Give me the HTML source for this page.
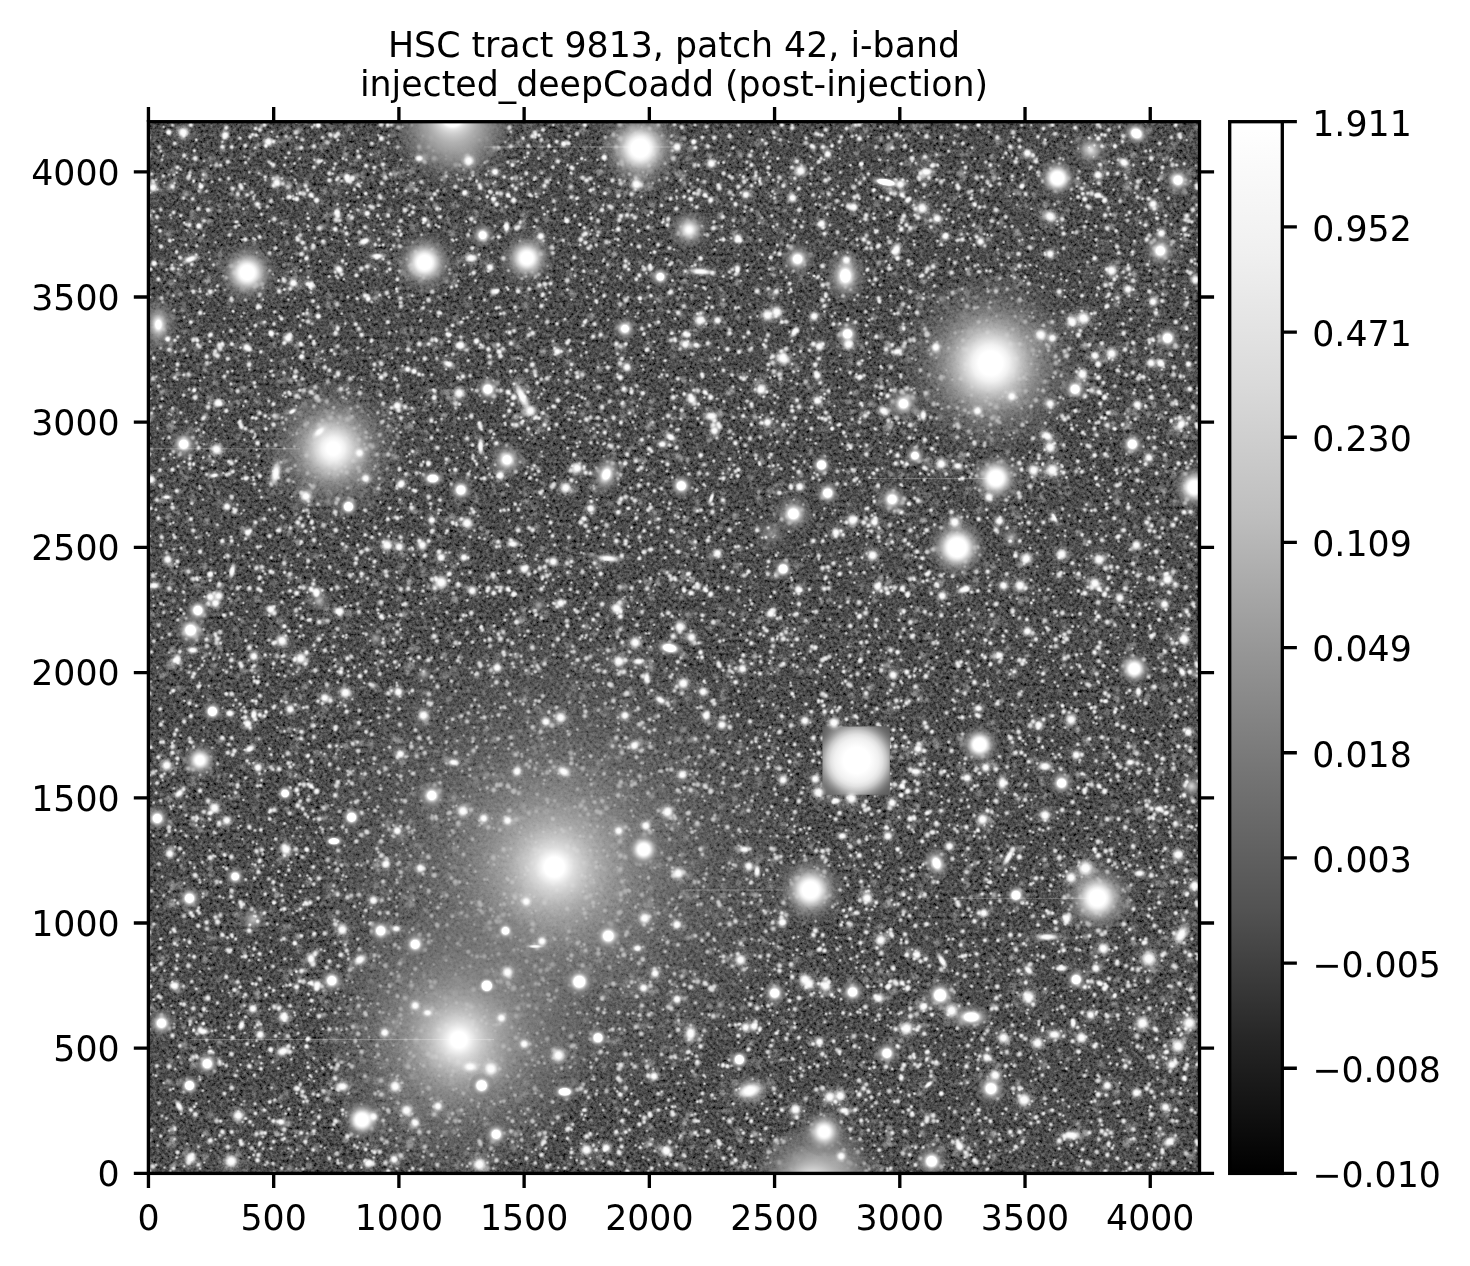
<!DOCTYPE html><html><head><meta charset="utf-8"><style>html,body{margin:0;padding:0;background:#fff;width:1470px;height:1266px;overflow:hidden}svg{display:block}text{font-family:"DejaVu Sans","Liberation Sans",sans-serif;font-size:34.75px;fill:#000}</style></head><body><svg width="1470" height="1266" viewBox="0 0 1470 1266"><defs><linearGradient id="cb" x1="0" y1="1" x2="0" y2="0"><stop offset="0.000" stop-color="#000000"/><stop offset="0.125" stop-color="#252525"/><stop offset="0.250" stop-color="#525252"/><stop offset="0.375" stop-color="#737373"/><stop offset="0.500" stop-color="#979797"/><stop offset="0.625" stop-color="#bebebe"/><stop offset="0.750" stop-color="#dadada"/><stop offset="0.875" stop-color="#f0f0f0"/><stop offset="1.000" stop-color="#ffffff"/></linearGradient><clipPath id="ax"><rect x="148.40" y="121.70" width="1051.10" height="1051.70"/></clipPath><radialGradient id="s"><stop offset="0" stop-color="#fff" stop-opacity="1"/><stop offset="0.3" stop-color="#fff" stop-opacity="0.95"/><stop offset="0.5" stop-color="#fff" stop-opacity="0.6"/><stop offset="0.7" stop-color="#fff" stop-opacity="0.25"/><stop offset="0.85" stop-color="#fff" stop-opacity="0.08"/><stop offset="1" stop-color="#fff" stop-opacity="0"/></radialGradient><radialGradient id="h"><stop offset="0" stop-color="#fff" stop-opacity="0.85"/><stop offset="0.25" stop-color="#fff" stop-opacity="0.6"/><stop offset="0.5" stop-color="#fff" stop-opacity="0.3"/><stop offset="0.75" stop-color="#fff" stop-opacity="0.1"/><stop offset="1" stop-color="#fff" stop-opacity="0"/></radialGradient><radialGradient id="w"><stop offset="0" stop-color="#fff" stop-opacity="0.3"/><stop offset="0.5" stop-color="#fff" stop-opacity="0.12"/><stop offset="1" stop-color="#fff" stop-opacity="0"/></radialGradient><radialGradient id="q"><stop offset="0" stop-color="#fff" stop-opacity="1"/><stop offset="0.3" stop-color="#fff" stop-opacity="0.95"/><stop offset="0.5" stop-color="#fff" stop-opacity="0.6"/><stop offset="0.7" stop-color="#fff" stop-opacity="0.2"/><stop offset="1" stop-color="#fff" stop-opacity="0"/></radialGradient><radialGradient id="h2"><stop offset="0" stop-color="#fff" stop-opacity="0.35"/><stop offset="0.3" stop-color="#fff" stop-opacity="0.18"/><stop offset="0.6" stop-color="#fff" stop-opacity="0.06"/><stop offset="1" stop-color="#fff" stop-opacity="0"/></radialGradient><filter id="grain" x="148.4" y="121.7" width="1051.1" height="1051.7" filterUnits="userSpaceOnUse" color-interpolation-filters="sRGB"><feTurbulence type="fractalNoise" baseFrequency="0.3" numOctaves="3" seed="7"/><feColorMatrix type="matrix" values="1 0 0 0 0 1 0 0 0 0 1 0 0 0 0 0 0 0 0 1"/><feComponentTransfer><feFuncR type="table" tableValues="0.000 0.000 0.000 0.000 0.000 0.000 0.000 0.000 0.040 0.077 0.110 0.141 0.168 0.192 0.212 0.229 0.243 0.258 0.272 0.286 0.300 0.313 0.326 0.339 0.352 0.365 0.378 0.391 0.404 0.417 0.430 0.443 0.457 0.470 0.483 0.496 0.509 0.522 0.535 0.548 0.561"/><feFuncG type="table" tableValues="0.000 0.000 0.000 0.000 0.000 0.000 0.000 0.000 0.040 0.077 0.110 0.141 0.168 0.192 0.212 0.229 0.243 0.258 0.272 0.286 0.300 0.313 0.326 0.339 0.352 0.365 0.378 0.391 0.404 0.417 0.430 0.443 0.457 0.470 0.483 0.496 0.509 0.522 0.535 0.548 0.561"/><feFuncB type="table" tableValues="0.000 0.000 0.000 0.000 0.000 0.000 0.000 0.000 0.040 0.077 0.110 0.141 0.168 0.192 0.212 0.229 0.243 0.258 0.272 0.286 0.300 0.313 0.326 0.339 0.352 0.365 0.378 0.391 0.404 0.417 0.430 0.443 0.457 0.470 0.483 0.496 0.509 0.522 0.535 0.548 0.561"/></feComponentTransfer></filter><pattern id="p0" x="148.4" y="121.7" width="197" height="197" patternUnits="userSpaceOnUse"><g fill="url(#q)"><circle cx="100.8" cy="50.6" r="2.2" fill-opacity="0.78"/><circle cx="187.2" cy="14.4" r="4.3" fill-opacity="0.90"/><circle cx="28.4" cy="50.8" r="2.2" fill-opacity="0.87"/><circle cx="186.9" cy="150.3" r="2.9" fill-opacity="0.80"/><circle cx="61.4" cy="137.5" r="2.1" fill-opacity="0.78"/><circle cx="83.4" cy="25.3" r="3.5" fill-opacity="0.93"/><circle cx="163.1" cy="74.1" r="2.4" fill-opacity="0.87"/><circle cx="80.6" cy="82.9" r="2.1" fill-opacity="0.75"/><circle cx="108.3" cy="131" r="2" fill-opacity="0.86"/><circle cx="5.4" cy="89.8" r="2.2" fill-opacity="0.88"/><circle cx="148.4" cy="115.5" r="2.2" fill-opacity="0.76"/><circle cx="106" cy="165.4" r="3" fill-opacity="0.88"/><circle cx="65" cy="143.1" r="2.8" fill-opacity="0.78"/><circle cx="155.3" cy="71.9" r="4.3" fill-opacity="0.81"/><circle cx="59.7" cy="88.3" r="4.3" fill-opacity="0.88"/><circle cx="89.3" cy="72.4" r="3.8" fill-opacity="0.87"/><circle cx="26.4" cy="21.6" r="3.4" fill-opacity="0.86"/><circle cx="79.4" cy="40" r="3.9" fill-opacity="0.88"/><circle cx="40.1" cy="55.9" r="4.3" fill-opacity="0.80"/><circle cx="51.7" cy="61.9" r="2" fill-opacity="0.85"/><circle cx="147.8" cy="61.7" r="2.1" fill-opacity="0.78"/><circle cx="55.2" cy="113.6" r="2.5" fill-opacity="0.91"/><circle cx="95.6" cy="191.4" r="2.1" fill-opacity="0.82"/><circle cx="193.2" cy="152.6" r="3.2" fill-opacity="0.81"/><circle cx="189.4" cy="155.9" r="2.3" fill-opacity="0.76"/><circle cx="142.8" cy="149.6" r="2.3" fill-opacity="0.83"/><circle cx="106.6" cy="117.6" r="2.4" fill-opacity="0.81"/><circle cx="54.5" cy="180.8" r="2.1" fill-opacity="0.84"/><circle cx="31.6" cy="135.9" r="3.6" fill-opacity="0.87"/><circle cx="191.1" cy="98.6" r="3.3" fill-opacity="0.73"/><circle cx="101.7" cy="15.2" r="3.2" fill-opacity="0.92"/><circle cx="22.8" cy="96.2" r="2" fill-opacity="0.72"/><circle cx="122.8" cy="41.9" r="2.7" fill-opacity="0.90"/><circle cx="153" cy="26.1" r="3.4" fill-opacity="0.93"/><circle cx="120.8" cy="99.7" r="2.2" fill-opacity="0.89"/><circle cx="180.7" cy="154.7" r="2.6" fill-opacity="0.87"/><circle cx="7.8" cy="58.1" r="2" fill-opacity="0.75"/><circle cx="104.1" cy="151.4" r="2.1" fill-opacity="0.81"/><circle cx="90.5" cy="103.5" r="2.3" fill-opacity="0.82"/><circle cx="12.3" cy="29.4" r="2.7" fill-opacity="0.87"/><circle cx="126.3" cy="190.1" r="2.8" fill-opacity="0.82"/><circle cx="168" cy="79.1" r="4.1" fill-opacity="0.92"/><circle cx="116.8" cy="58.2" r="2.4" fill-opacity="0.77"/><circle cx="51.2" cy="166.9" r="2" fill-opacity="0.79"/><circle cx="165.5" cy="24.5" r="3.9" fill-opacity="0.88"/><circle cx="100.4" cy="144.5" r="2" fill-opacity="0.80"/><circle cx="100.6" cy="37" r="2.1" fill-opacity="0.74"/><circle cx="148.3" cy="77.3" r="4.4" fill-opacity="0.99"/><circle cx="29.1" cy="45.7" r="3.6" fill-opacity="0.91"/><circle cx="161.5" cy="165.7" r="2.5" fill-opacity="0.89"/><circle cx="134.6" cy="76.8" r="2.1" fill-opacity="0.80"/><circle cx="155.1" cy="192" r="2.6" fill-opacity="0.92"/><circle cx="37.7" cy="123.2" r="2.5" fill-opacity="0.89"/><circle cx="158.1" cy="136.6" r="4" fill-opacity="0.98"/><circle cx="37.7" cy="102.7" r="2.7" fill-opacity="0.77"/><circle cx="16.1" cy="60.9" r="2.1" fill-opacity="0.81"/><circle cx="168.5" cy="77.9" r="4.2" fill-opacity="0.85"/><circle cx="169.7" cy="185.4" r="3.2" fill-opacity="0.88"/><circle cx="172.7" cy="39.6" r="2.1" fill-opacity="0.77"/><circle cx="93" cy="194.7" r="2.1" fill-opacity="0.74"/><circle cx="54" cy="149.4" r="2.8" fill-opacity="0.84"/><circle cx="1.4" cy="70.9" r="2.1" fill-opacity="0.84"/><circle cx="198.4" cy="70.9" r="2.1" fill-opacity="0.84"/><circle cx="127.2" cy="126.4" r="3.3" fill-opacity="0.83"/><circle cx="141.8" cy="75.1" r="3.2" fill-opacity="0.95"/><circle cx="164.6" cy="75.2" r="2" fill-opacity="0.80"/><circle cx="55.5" cy="99.2" r="3.8" fill-opacity="0.82"/><circle cx="42.4" cy="3.3" r="3.7" fill-opacity="0.94"/><circle cx="42.4" cy="200.3" r="3.7" fill-opacity="0.94"/><circle cx="125.9" cy="97.2" r="4.2" fill-opacity="0.87"/><circle cx="158.6" cy="191.4" r="3.4" fill-opacity="0.81"/><circle cx="189.8" cy="56.2" r="3.4" fill-opacity="0.81"/><circle cx="29.7" cy="147.4" r="2.2" fill-opacity="0.89"/><circle cx="95" cy="87.2" r="2" fill-opacity="0.88"/><circle cx="176.3" cy="41.2" r="2" fill-opacity="0.84"/><circle cx="83.3" cy="178.3" r="4.4" fill-opacity="0.82"/><circle cx="116.1" cy="3.3" r="3.3" fill-opacity="0.90"/><circle cx="4.8" cy="59.8" r="4.3" fill-opacity="0.80"/><circle cx="132.7" cy="196.8" r="2.5" fill-opacity="0.80"/><circle cx="132.7" cy="-0.2" r="2.5" fill-opacity="0.80"/><circle cx="181.1" cy="51.6" r="3.6" fill-opacity="0.88"/><circle cx="162.9" cy="167.3" r="2" fill-opacity="0.80"/><circle cx="174.4" cy="119.3" r="2.2" fill-opacity="0.80"/><circle cx="130.1" cy="158.8" r="2.4" fill-opacity="0.91"/><circle cx="48.4" cy="124.2" r="3" fill-opacity="0.77"/><circle cx="151.4" cy="71.5" r="3" fill-opacity="0.88"/><circle cx="41.7" cy="149.9" r="2.9" fill-opacity="0.72"/><circle cx="163.8" cy="5.2" r="2.7" fill-opacity="0.74"/><circle cx="12.4" cy="88" r="3.1" fill-opacity="0.78"/><circle cx="162.6" cy="73.3" r="4.4" fill-opacity="0.99"/><circle cx="32.4" cy="94" r="2.8" fill-opacity="0.89"/><circle cx="73.9" cy="25.1" r="3.9" fill-opacity="0.95"/><circle cx="62.4" cy="43.8" r="2" fill-opacity="0.72"/><circle cx="136.2" cy="110.7" r="2.6" fill-opacity="0.87"/><circle cx="35.2" cy="76.4" r="3" fill-opacity="0.84"/><circle cx="78.1" cy="156" r="3.2" fill-opacity="0.84"/><circle cx="1.1" cy="119.2" r="2.3" fill-opacity="0.86"/><circle cx="198.1" cy="119.2" r="2.3" fill-opacity="0.86"/><circle cx="51.7" cy="169.7" r="2.6" fill-opacity="0.80"/><circle cx="83" cy="144.3" r="4.3" fill-opacity="0.88"/><circle cx="20.9" cy="118.6" r="3.3" fill-opacity="0.80"/><circle cx="124.7" cy="56.7" r="3.1" fill-opacity="0.83"/><circle cx="74.9" cy="154.2" r="2" fill-opacity="0.82"/><circle cx="142.9" cy="49.5" r="2" fill-opacity="0.75"/><circle cx="128.8" cy="14.8" r="2.2" fill-opacity="0.78"/><circle cx="85" cy="189.7" r="2.1" fill-opacity="0.81"/><circle cx="170.9" cy="106.4" r="4.4" fill-opacity="0.88"/><circle cx="124.5" cy="152.5" r="2" fill-opacity="0.85"/><circle cx="159.6" cy="104.3" r="2.6" fill-opacity="0.86"/><circle cx="67.3" cy="120.5" r="2" fill-opacity="0.83"/><circle cx="107.1" cy="6.7" r="3.3" fill-opacity="0.93"/><circle cx="38.7" cy="36.8" r="2" fill-opacity="0.76"/><circle cx="196.2" cy="132.9" r="2" fill-opacity="0.74"/><circle cx="-0.8" cy="132.9" r="2" fill-opacity="0.74"/><circle cx="47.9" cy="112.4" r="2.1" fill-opacity="0.80"/><circle cx="27" cy="56.9" r="4.2" fill-opacity="0.23"/><circle cx="109.5" cy="153.8" r="5.1" fill-opacity="0.25"/><circle cx="113" cy="4" r="4" fill-opacity="0.34"/><circle cx="113" cy="201" r="4" fill-opacity="0.34"/><circle cx="25.9" cy="32.5" r="4.8" fill-opacity="0.20"/><circle cx="141.1" cy="61.3" r="5.2" fill-opacity="0.30"/><circle cx="109.6" cy="104.8" r="3.4" fill-opacity="0.25"/><circle cx="83.4" cy="71.5" r="4" fill-opacity="0.31"/><circle cx="180.7" cy="173.9" r="5.8" fill-opacity="0.22"/><circle cx="168.6" cy="40.9" r="5.9" fill-opacity="0.26"/><circle cx="43.5" cy="110.6" r="6" fill-opacity="0.22"/><circle cx="32.8" cy="153.2" r="3.1" fill-opacity="0.32"/><circle cx="180.4" cy="183.1" r="5.5" fill-opacity="0.33"/><circle cx="31" cy="172.1" r="5.8" fill-opacity="0.28"/><circle cx="149.2" cy="26.7" r="5.7" fill-opacity="0.35"/><circle cx="61.6" cy="156" r="5.1" fill-opacity="0.30"/><circle cx="71.2" cy="133" r="5" fill-opacity="0.32"/><circle cx="109.1" cy="83.1" r="5.2" fill-opacity="0.33"/><circle cx="182.4" cy="5" r="4.7" fill-opacity="0.20"/><circle cx="0.4" cy="33.1" r="5.4" fill-opacity="0.35"/><circle cx="197.4" cy="33.1" r="5.4" fill-opacity="0.35"/><circle cx="32" cy="147.6" r="4.5" fill-opacity="0.23"/><circle cx="141.9" cy="16.5" r="3.7" fill-opacity="0.25"/><circle cx="77.7" cy="61.6" r="3.3" fill-opacity="0.19"/><circle cx="56.7" cy="50.3" r="5.7" fill-opacity="0.31"/><circle cx="189.7" cy="147" r="5.3" fill-opacity="0.22"/><circle cx="52" cy="70.7" r="3.5" fill-opacity="0.29"/><circle cx="140.7" cy="17.2" r="5.5" fill-opacity="0.19"/><circle cx="190" cy="73" r="3.9" fill-opacity="0.22"/><circle cx="150.3" cy="64.4" r="4.9" fill-opacity="0.23"/><circle cx="139.8" cy="141.3" r="4.1" fill-opacity="0.20"/><circle cx="142.5" cy="63.1" r="3.6" fill-opacity="0.16"/><circle cx="158.6" cy="136.6" r="3.5" fill-opacity="0.30"/><circle cx="53.4" cy="106.1" r="3.2" fill-opacity="0.34"/><circle cx="123.5" cy="174.9" r="3.2" fill-opacity="0.20"/><circle cx="158.2" cy="144.5" r="3.2" fill-opacity="0.18"/><circle cx="175" cy="80.4" r="3.3" fill-opacity="0.22"/><circle cx="178.4" cy="95.5" r="5.5" fill-opacity="0.17"/><circle cx="178.1" cy="92.9" r="4.6" fill-opacity="0.28"/><circle cx="19.2" cy="171.7" r="3.4" fill-opacity="0.22"/><circle cx="74.2" cy="27.2" r="4.6" fill-opacity="0.26"/><circle cx="89.9" cy="83.6" r="4.6" fill-opacity="0.33"/><circle cx="175.7" cy="105.4" r="4.5" fill-opacity="0.32"/><circle cx="82.6" cy="85.9" r="3.6" fill-opacity="0.33"/><circle cx="52.2" cy="117.8" r="4.3" fill-opacity="0.34"/><circle cx="3.9" cy="98.3" r="5.6" fill-opacity="0.27"/><circle cx="200.9" cy="98.3" r="5.6" fill-opacity="0.27"/></g></pattern><pattern id="p1" x="148.4" y="121.7" width="239" height="239" patternUnits="userSpaceOnUse"><g fill="url(#q)"><circle cx="62.5" cy="213" r="3.8" fill-opacity="0.96"/><circle cx="71.3" cy="57.7" r="2.5" fill-opacity="0.86"/><circle cx="194.6" cy="36.6" r="2.6" fill-opacity="0.91"/><circle cx="22" cy="93.4" r="2.3" fill-opacity="0.85"/><circle cx="143.4" cy="135.9" r="2" fill-opacity="0.88"/><circle cx="174.1" cy="229.6" r="2.8" fill-opacity="0.85"/><circle cx="44.9" cy="169.8" r="4" fill-opacity="0.87"/><circle cx="13.2" cy="176.5" r="3.7" fill-opacity="0.88"/><circle cx="65.7" cy="232.5" r="3.3" fill-opacity="0.71"/><circle cx="157.1" cy="64" r="3.9" fill-opacity="0.93"/><circle cx="134.4" cy="62" r="3.3" fill-opacity="0.77"/><circle cx="35.9" cy="101" r="2.3" fill-opacity="0.90"/><circle cx="103.4" cy="70.6" r="3.8" fill-opacity="0.73"/><circle cx="160" cy="155.6" r="2.6" fill-opacity="0.88"/><circle cx="101" cy="227.5" r="4.1" fill-opacity="0.94"/><circle cx="151.3" cy="36.7" r="2.5" fill-opacity="0.84"/><circle cx="231.2" cy="123.8" r="2.1" fill-opacity="0.74"/><circle cx="163.3" cy="161.9" r="3.6" fill-opacity="0.93"/><circle cx="93.6" cy="117.9" r="2.1" fill-opacity="0.79"/><circle cx="44.8" cy="218.4" r="4" fill-opacity="0.82"/><circle cx="82.7" cy="176.1" r="2.7" fill-opacity="0.88"/><circle cx="122.1" cy="210.8" r="3.7" fill-opacity="0.97"/><circle cx="213" cy="26.7" r="2" fill-opacity="0.74"/><circle cx="185.4" cy="46.8" r="3" fill-opacity="0.84"/><circle cx="76" cy="15.7" r="3.4" fill-opacity="0.90"/><circle cx="220.9" cy="198.2" r="2.1" fill-opacity="0.78"/><circle cx="112.5" cy="230.1" r="3.2" fill-opacity="0.94"/><circle cx="165.8" cy="3.3" r="2.1" fill-opacity="0.84"/><circle cx="25.6" cy="188.6" r="2.4" fill-opacity="0.74"/><circle cx="25" cy="174" r="2.6" fill-opacity="0.76"/><circle cx="48.3" cy="217.1" r="3.2" fill-opacity="0.77"/><circle cx="211.4" cy="64.6" r="2.1" fill-opacity="0.81"/><circle cx="162.5" cy="170.8" r="2.2" fill-opacity="0.89"/><circle cx="203" cy="56.7" r="3.7" fill-opacity="0.76"/><circle cx="154" cy="18.2" r="3.5" fill-opacity="0.77"/><circle cx="97.2" cy="178.1" r="2.8" fill-opacity="0.78"/><circle cx="123.5" cy="10.1" r="2.4" fill-opacity="0.84"/><circle cx="141.8" cy="167.2" r="3.4" fill-opacity="0.85"/><circle cx="206" cy="67.7" r="2.8" fill-opacity="0.83"/><circle cx="104.7" cy="116.5" r="2.4" fill-opacity="0.76"/><circle cx="213.2" cy="213.1" r="4" fill-opacity="0.95"/><circle cx="146.7" cy="58.2" r="2.2" fill-opacity="0.82"/><circle cx="198.2" cy="111.9" r="3.8" fill-opacity="0.95"/><circle cx="119" cy="84.9" r="3.2" fill-opacity="0.72"/><circle cx="165.5" cy="45.5" r="3.3" fill-opacity="0.85"/><circle cx="81" cy="113.2" r="3.4" fill-opacity="0.83"/><circle cx="125" cy="43.4" r="3.6" fill-opacity="0.94"/><circle cx="51.7" cy="191" r="4.1" fill-opacity="0.92"/><circle cx="24.1" cy="146.9" r="4.2" fill-opacity="0.88"/><circle cx="9.2" cy="67.7" r="2.3" fill-opacity="0.76"/><circle cx="167.8" cy="232.6" r="2.2" fill-opacity="0.85"/><circle cx="109.1" cy="82.5" r="4.1" fill-opacity="0.97"/><circle cx="214.6" cy="160.4" r="2.2" fill-opacity="0.87"/><circle cx="199.6" cy="175.2" r="2.3" fill-opacity="0.90"/><circle cx="92" cy="63.4" r="3.8" fill-opacity="0.89"/><circle cx="232.7" cy="2.8" r="4.4" fill-opacity="0.83"/><circle cx="232.7" cy="241.8" r="4.4" fill-opacity="0.83"/><circle cx="141.5" cy="213.3" r="3.9" fill-opacity="0.80"/><circle cx="183" cy="228.6" r="2.9" fill-opacity="0.91"/><circle cx="97.3" cy="40.7" r="2.6" fill-opacity="0.89"/><circle cx="46.9" cy="36.7" r="4.5" fill-opacity="0.92"/><circle cx="41.1" cy="103.4" r="3.6" fill-opacity="0.93"/><circle cx="43.3" cy="142.8" r="3.2" fill-opacity="0.85"/><circle cx="144.3" cy="236.4" r="2" fill-opacity="0.86"/><circle cx="26.9" cy="230.3" r="2.2" fill-opacity="0.86"/><circle cx="4.8" cy="236.1" r="2" fill-opacity="0.77"/><circle cx="199.1" cy="58.7" r="4.2" fill-opacity="0.90"/><circle cx="23.8" cy="143.1" r="2.3" fill-opacity="0.86"/><circle cx="107.7" cy="104.2" r="2.2" fill-opacity="0.77"/><circle cx="116.8" cy="55.3" r="3.1" fill-opacity="0.94"/><circle cx="148.2" cy="15.6" r="2.2" fill-opacity="0.88"/><circle cx="120.5" cy="40.3" r="3" fill-opacity="0.76"/><circle cx="224" cy="85.7" r="4.3" fill-opacity="0.80"/><circle cx="179.3" cy="21" r="4" fill-opacity="0.70"/><circle cx="137.3" cy="36" r="2.3" fill-opacity="0.90"/><circle cx="147.5" cy="10.7" r="4.2" fill-opacity="0.79"/><circle cx="121.1" cy="148.9" r="2.6" fill-opacity="0.90"/><circle cx="230.6" cy="117.8" r="2.9" fill-opacity="0.85"/><circle cx="54.2" cy="58.2" r="2.5" fill-opacity="0.73"/><circle cx="164.7" cy="125.8" r="4.5" fill-opacity="0.80"/><circle cx="132.7" cy="101.4" r="2.4" fill-opacity="0.78"/><circle cx="10" cy="157.5" r="3.6" fill-opacity="0.92"/><circle cx="70.8" cy="222.9" r="3.2" fill-opacity="0.83"/><circle cx="221.6" cy="84.4" r="3.4" fill-opacity="0.77"/><circle cx="187.5" cy="154.2" r="2.1" fill-opacity="0.89"/><circle cx="3.1" cy="52.3" r="3" fill-opacity="0.85"/><circle cx="70.9" cy="224.6" r="4.5" fill-opacity="0.74"/><circle cx="2.3" cy="147.6" r="3.1" fill-opacity="0.94"/><circle cx="241.3" cy="147.6" r="3.1" fill-opacity="0.94"/><circle cx="197.8" cy="37.9" r="2.2" fill-opacity="0.85"/><circle cx="26.4" cy="61.4" r="2" fill-opacity="0.81"/><circle cx="13.7" cy="38" r="2.5" fill-opacity="0.76"/><circle cx="234.7" cy="42.8" r="3.6" fill-opacity="0.91"/><circle cx="106.6" cy="73.3" r="2" fill-opacity="0.74"/><circle cx="76.1" cy="196.7" r="2" fill-opacity="0.88"/><circle cx="11.7" cy="109.2" r="3.3" fill-opacity="0.91"/><circle cx="93.1" cy="66.2" r="4.1" fill-opacity="0.93"/><circle cx="87.5" cy="100.2" r="2.7" fill-opacity="0.89"/><circle cx="125.1" cy="63.9" r="3.2" fill-opacity="0.93"/><circle cx="1.6" cy="175.4" r="2.3" fill-opacity="0.82"/><circle cx="240.6" cy="175.4" r="2.3" fill-opacity="0.82"/><circle cx="35.4" cy="14" r="2.4" fill-opacity="0.88"/><circle cx="50.2" cy="69.1" r="2.8" fill-opacity="0.75"/><circle cx="105.3" cy="77.3" r="2.3" fill-opacity="0.86"/><circle cx="72.3" cy="43.4" r="2.8" fill-opacity="0.89"/><circle cx="146.6" cy="176.4" r="2.1" fill-opacity="0.77"/><circle cx="68.2" cy="43.1" r="4.2" fill-opacity="0.76"/><circle cx="217.4" cy="71.8" r="3.3" fill-opacity="0.94"/><circle cx="229.9" cy="13.5" r="2.1" fill-opacity="0.88"/><circle cx="14.2" cy="180.6" r="2.2" fill-opacity="0.74"/><circle cx="50" cy="87" r="3.9" fill-opacity="0.89"/><circle cx="134.6" cy="156.8" r="2.6" fill-opacity="0.77"/><circle cx="184.2" cy="51.9" r="2.3" fill-opacity="0.77"/><circle cx="15.3" cy="5.2" r="2" fill-opacity="0.87"/><circle cx="44.2" cy="77.1" r="3.4" fill-opacity="0.90"/><circle cx="109.2" cy="186.2" r="3.1" fill-opacity="0.90"/><circle cx="159.8" cy="200.1" r="3.9" fill-opacity="0.82"/><circle cx="215.9" cy="83.4" r="2.2" fill-opacity="0.87"/><circle cx="207.2" cy="202.4" r="3.6" fill-opacity="0.90"/><circle cx="189.7" cy="12" r="3.9" fill-opacity="0.83"/><circle cx="12.6" cy="124.8" r="3.9" fill-opacity="0.87"/><circle cx="233.4" cy="61.5" r="3.6" fill-opacity="0.80"/><circle cx="146.9" cy="104.9" r="2.7" fill-opacity="0.86"/><circle cx="20.6" cy="53" r="2" fill-opacity="0.76"/><circle cx="60.9" cy="213.6" r="3.3" fill-opacity="0.85"/><circle cx="148.4" cy="72.2" r="2" fill-opacity="0.86"/><circle cx="92.2" cy="225.9" r="2.1" fill-opacity="0.84"/><circle cx="106.7" cy="26.1" r="2.7" fill-opacity="0.86"/><circle cx="192.3" cy="102.7" r="2.1" fill-opacity="0.74"/><circle cx="196.9" cy="106" r="2.8" fill-opacity="0.90"/><circle cx="130.7" cy="169.6" r="4" fill-opacity="0.90"/><circle cx="189.4" cy="82.5" r="2.2" fill-opacity="0.89"/><circle cx="97" cy="117.7" r="3.8" fill-opacity="0.96"/><circle cx="232.9" cy="16.8" r="4.5" fill-opacity="0.99"/><circle cx="144.6" cy="74.3" r="2" fill-opacity="0.82"/><circle cx="231.3" cy="173.3" r="2.7" fill-opacity="0.89"/><circle cx="10.5" cy="25.3" r="3.5" fill-opacity="0.75"/><circle cx="211" cy="110.5" r="3.6" fill-opacity="0.73"/><circle cx="133.7" cy="56.6" r="2.4" fill-opacity="0.88"/><circle cx="170.6" cy="39.6" r="3.8" fill-opacity="0.91"/><circle cx="46" cy="29" r="2.6" fill-opacity="0.92"/><circle cx="131.1" cy="194.5" r="2.2" fill-opacity="0.79"/><circle cx="69.1" cy="164.1" r="2.9" fill-opacity="0.85"/><circle cx="25.2" cy="90.7" r="3.2" fill-opacity="0.91"/><circle cx="0.8" cy="93.6" r="3.9" fill-opacity="0.90"/><circle cx="239.8" cy="93.6" r="3.9" fill-opacity="0.90"/><circle cx="216.7" cy="174.1" r="3.4" fill-opacity="0.93"/><circle cx="160.3" cy="144.3" r="2.1" fill-opacity="0.80"/><circle cx="49" cy="218.9" r="3.1" fill-opacity="0.92"/><circle cx="61.6" cy="219.7" r="2.5" fill-opacity="0.90"/><circle cx="111.3" cy="115.2" r="3.5" fill-opacity="0.95"/><circle cx="195.6" cy="157.5" r="2" fill-opacity="0.80"/><circle cx="28.1" cy="130.2" r="3.3" fill-opacity="0.94"/><circle cx="231.3" cy="74.2" r="3.8" fill-opacity="0.82"/><circle cx="225.6" cy="108.4" r="2" fill-opacity="0.83"/><circle cx="58.5" cy="172.4" r="2" fill-opacity="0.88"/><circle cx="153.1" cy="132.1" r="4.1" fill-opacity="0.91"/><circle cx="86.1" cy="151.1" r="4.1" fill-opacity="0.90"/><circle cx="166.7" cy="116.4" r="2.2" fill-opacity="0.80"/><circle cx="20.8" cy="227.8" r="4.2" fill-opacity="0.88"/><circle cx="112.3" cy="185.6" r="2.6" fill-opacity="0.84"/><circle cx="140.6" cy="31.3" r="2.9" fill-opacity="0.88"/><circle cx="149.7" cy="194.6" r="2.8" fill-opacity="0.85"/><circle cx="165.6" cy="219.3" r="2.5" fill-opacity="0.80"/><circle cx="45.6" cy="209.8" r="4.6" fill-opacity="0.21"/><circle cx="236" cy="26" r="4.2" fill-opacity="0.18"/><circle cx="-3" cy="26" r="4.2" fill-opacity="0.18"/><circle cx="148" cy="153.3" r="3.5" fill-opacity="0.34"/><circle cx="41.4" cy="100.1" r="3.5" fill-opacity="0.24"/><circle cx="80.8" cy="183.9" r="4.2" fill-opacity="0.19"/><circle cx="155.4" cy="121.7" r="4.4" fill-opacity="0.25"/><circle cx="57" cy="55.2" r="5.4" fill-opacity="0.35"/><circle cx="214" cy="50.5" r="3.4" fill-opacity="0.29"/><circle cx="129.2" cy="56.2" r="4.4" fill-opacity="0.33"/><circle cx="162.7" cy="55.9" r="3.4" fill-opacity="0.17"/><circle cx="158.6" cy="59.9" r="3.8" fill-opacity="0.30"/><circle cx="38.7" cy="71.5" r="4.5" fill-opacity="0.22"/><circle cx="222.8" cy="143" r="5.6" fill-opacity="0.22"/><circle cx="202.1" cy="126.1" r="3.4" fill-opacity="0.24"/><circle cx="34.9" cy="16.4" r="3.5" fill-opacity="0.24"/><circle cx="136.1" cy="100.6" r="5.1" fill-opacity="0.31"/><circle cx="126.2" cy="222.3" r="4.6" fill-opacity="0.21"/><circle cx="74" cy="224.6" r="3.3" fill-opacity="0.24"/><circle cx="89.7" cy="76.4" r="5" fill-opacity="0.24"/><circle cx="61.9" cy="37.2" r="5.9" fill-opacity="0.27"/><circle cx="150.9" cy="70" r="5.2" fill-opacity="0.26"/><circle cx="102.4" cy="31.7" r="6" fill-opacity="0.16"/><circle cx="24" cy="61.8" r="5.2" fill-opacity="0.32"/><circle cx="54.3" cy="221" r="4" fill-opacity="0.28"/><circle cx="36.2" cy="209.6" r="5.4" fill-opacity="0.18"/><circle cx="150.5" cy="108.1" r="4.7" fill-opacity="0.25"/><circle cx="132.5" cy="131.4" r="3.3" fill-opacity="0.33"/><circle cx="93.8" cy="167.4" r="4.1" fill-opacity="0.33"/><circle cx="130.8" cy="167.6" r="5.8" fill-opacity="0.23"/><circle cx="150.3" cy="165.8" r="5" fill-opacity="0.20"/><circle cx="51.7" cy="175.9" r="4.1" fill-opacity="0.34"/><circle cx="13.3" cy="141.2" r="5.1" fill-opacity="0.30"/><circle cx="230" cy="31.8" r="5" fill-opacity="0.28"/><circle cx="44.3" cy="164.2" r="3.5" fill-opacity="0.23"/><circle cx="57.8" cy="159.9" r="4.4" fill-opacity="0.32"/><circle cx="168.3" cy="38.8" r="5.4" fill-opacity="0.19"/><circle cx="235.6" cy="46.6" r="3.3" fill-opacity="0.32"/><circle cx="29.5" cy="152.1" r="4.6" fill-opacity="0.31"/><circle cx="96.2" cy="92.2" r="3.4" fill-opacity="0.25"/><circle cx="204.5" cy="193.8" r="3.8" fill-opacity="0.22"/><circle cx="20.3" cy="66.3" r="5.3" fill-opacity="0.29"/><circle cx="59.8" cy="159.2" r="4.1" fill-opacity="0.23"/><circle cx="146.7" cy="147" r="5.5" fill-opacity="0.23"/><circle cx="198.2" cy="26.4" r="5.2" fill-opacity="0.20"/><circle cx="24.5" cy="66.5" r="4.9" fill-opacity="0.31"/><circle cx="99.5" cy="84.5" r="3.5" fill-opacity="0.18"/><circle cx="141.5" cy="72.2" r="4.4" fill-opacity="0.25"/><circle cx="130.7" cy="21.7" r="5.6" fill-opacity="0.24"/><circle cx="128" cy="56.3" r="4.9" fill-opacity="0.35"/><circle cx="237.3" cy="128.4" r="3.2" fill-opacity="0.17"/><circle cx="-1.7" cy="128.4" r="3.2" fill-opacity="0.17"/><circle cx="235.2" cy="54" r="4.5" fill-opacity="0.26"/><circle cx="-3.8" cy="54" r="4.5" fill-opacity="0.26"/><circle cx="50.3" cy="152" r="4.4" fill-opacity="0.19"/><circle cx="61.1" cy="99.2" r="4.5" fill-opacity="0.34"/><circle cx="95.6" cy="109.1" r="4.2" fill-opacity="0.18"/><circle cx="24.1" cy="49.5" r="5.4" fill-opacity="0.33"/><circle cx="35" cy="188" r="4.6" fill-opacity="0.28"/><circle cx="135" cy="18.5" r="5.6" fill-opacity="0.19"/><circle cx="235.9" cy="225.7" r="5.9" fill-opacity="0.23"/><circle cx="-3.1" cy="225.7" r="5.9" fill-opacity="0.23"/><circle cx="70.2" cy="140.9" r="5.7" fill-opacity="0.21"/><circle cx="47.4" cy="225.7" r="5.3" fill-opacity="0.25"/><circle cx="147.3" cy="131.3" r="3.1" fill-opacity="0.31"/><circle cx="71.1" cy="84" r="3" fill-opacity="0.25"/><circle cx="3.2" cy="88.4" r="3.5" fill-opacity="0.35"/><circle cx="242.2" cy="88.4" r="3.5" fill-opacity="0.35"/><circle cx="22.4" cy="222.1" r="4.6" fill-opacity="0.33"/></g></pattern><pattern id="p2" x="148.4" y="121.7" width="283" height="283" patternUnits="userSpaceOnUse"><g fill="url(#q)"><circle cx="24.2" cy="3.5" r="2.6" fill-opacity="0.79"/><circle cx="67" cy="229.5" r="3.8" fill-opacity="0.87"/><circle cx="226.8" cy="122.9" r="3.4" fill-opacity="0.86"/><circle cx="164.8" cy="123.3" r="3.1" fill-opacity="0.81"/><circle cx="26.6" cy="159.1" r="2.1" fill-opacity="0.78"/><circle cx="122.6" cy="79.3" r="3.8" fill-opacity="0.75"/><circle cx="135.6" cy="250.9" r="3.2" fill-opacity="0.86"/><circle cx="45.2" cy="60" r="2.4" fill-opacity="0.89"/><circle cx="207.9" cy="153.6" r="3.7" fill-opacity="0.95"/><circle cx="32.2" cy="47.6" r="2" fill-opacity="0.80"/><circle cx="110.7" cy="174.4" r="2.2" fill-opacity="0.90"/><circle cx="146.2" cy="255.2" r="3.8" fill-opacity="0.97"/><circle cx="121.9" cy="249.8" r="2" fill-opacity="0.78"/><circle cx="166.1" cy="38.1" r="2.1" fill-opacity="0.74"/><circle cx="208.8" cy="176.8" r="2.9" fill-opacity="0.91"/><circle cx="270.6" cy="252.6" r="3.5" fill-opacity="0.95"/><circle cx="80.4" cy="56.7" r="3.1" fill-opacity="0.89"/><circle cx="183.5" cy="117.4" r="2" fill-opacity="0.88"/><circle cx="197" cy="201.8" r="2.4" fill-opacity="0.83"/><circle cx="82.8" cy="208.9" r="3.5" fill-opacity="0.87"/><circle cx="0.4" cy="127.7" r="2.5" fill-opacity="0.74"/><circle cx="283.4" cy="127.7" r="2.5" fill-opacity="0.74"/><circle cx="275.5" cy="180.7" r="2.2" fill-opacity="0.80"/><circle cx="84.4" cy="189.3" r="2" fill-opacity="0.87"/><circle cx="88.9" cy="99.9" r="2.3" fill-opacity="0.74"/><circle cx="252.4" cy="184.5" r="4.2" fill-opacity="0.77"/><circle cx="165.6" cy="163.4" r="2" fill-opacity="0.72"/><circle cx="133.4" cy="197.4" r="3" fill-opacity="0.85"/><circle cx="218.8" cy="144.8" r="4.2" fill-opacity="0.90"/><circle cx="8.6" cy="95.2" r="3.5" fill-opacity="0.87"/><circle cx="200.1" cy="122.9" r="2.4" fill-opacity="0.90"/><circle cx="105.9" cy="261.1" r="3.3" fill-opacity="0.90"/><circle cx="25.7" cy="53.1" r="2.1" fill-opacity="0.84"/><circle cx="186.9" cy="42" r="2.9" fill-opacity="0.87"/><circle cx="263.6" cy="3.4" r="2.3" fill-opacity="0.83"/><circle cx="58.6" cy="241.2" r="4" fill-opacity="0.75"/><circle cx="178.3" cy="279.8" r="4" fill-opacity="0.76"/><circle cx="178.3" cy="-3.2" r="4" fill-opacity="0.76"/><circle cx="84.4" cy="66.9" r="3.7" fill-opacity="0.90"/><circle cx="209.9" cy="75.3" r="2.6" fill-opacity="0.78"/><circle cx="204.4" cy="56.1" r="3.8" fill-opacity="0.85"/><circle cx="61.9" cy="169.9" r="4.4" fill-opacity="0.92"/><circle cx="234.9" cy="137.3" r="2.6" fill-opacity="0.86"/><circle cx="186.1" cy="232.2" r="3" fill-opacity="0.79"/><circle cx="193.2" cy="59.3" r="2.2" fill-opacity="0.78"/><circle cx="232.1" cy="248.5" r="2.1" fill-opacity="0.75"/><circle cx="121.3" cy="131.3" r="3.5" fill-opacity="0.90"/><circle cx="214.7" cy="228.6" r="2" fill-opacity="0.85"/><circle cx="248.6" cy="227" r="3.2" fill-opacity="0.76"/><circle cx="29" cy="257.7" r="2.1" fill-opacity="0.78"/><circle cx="240.5" cy="141.2" r="3.4" fill-opacity="0.77"/><circle cx="111.5" cy="172.5" r="3.6" fill-opacity="0.89"/><circle cx="135.8" cy="158.8" r="4.3" fill-opacity="0.82"/><circle cx="41.4" cy="53.9" r="2.6" fill-opacity="0.91"/><circle cx="197.7" cy="141.9" r="2.6" fill-opacity="0.79"/><circle cx="82.6" cy="262.2" r="2.6" fill-opacity="0.87"/><circle cx="246.5" cy="257.2" r="3.5" fill-opacity="0.89"/><circle cx="77.9" cy="6.1" r="3.7" fill-opacity="0.96"/><circle cx="159" cy="187.7" r="2.1" fill-opacity="0.85"/><circle cx="113.1" cy="92.5" r="2.5" fill-opacity="0.91"/><circle cx="173.5" cy="38.5" r="2" fill-opacity="0.83"/><circle cx="55.6" cy="39.5" r="2.3" fill-opacity="0.70"/><circle cx="51" cy="225" r="3.6" fill-opacity="0.82"/><circle cx="211.4" cy="271.4" r="4.3" fill-opacity="0.94"/><circle cx="212.9" cy="147.2" r="4.4" fill-opacity="0.84"/><circle cx="160.5" cy="108.5" r="2" fill-opacity="0.84"/><circle cx="260.7" cy="144.3" r="2.6" fill-opacity="0.75"/><circle cx="58.2" cy="234.7" r="4" fill-opacity="0.91"/><circle cx="240.8" cy="211.3" r="2.9" fill-opacity="0.82"/><circle cx="47.8" cy="18.1" r="2.5" fill-opacity="0.91"/><circle cx="272.9" cy="60.1" r="3.7" fill-opacity="0.74"/><circle cx="176.5" cy="245.6" r="4" fill-opacity="0.84"/><circle cx="171.7" cy="139.5" r="2.1" fill-opacity="0.86"/><circle cx="274.7" cy="186.1" r="2.9" fill-opacity="0.83"/><circle cx="222.7" cy="220" r="2.1" fill-opacity="0.82"/><circle cx="223.5" cy="180.2" r="2.2" fill-opacity="0.79"/><circle cx="15.3" cy="207.7" r="3" fill-opacity="0.75"/><circle cx="104.5" cy="154.4" r="2.3" fill-opacity="0.79"/><circle cx="24" cy="64.9" r="3.8" fill-opacity="0.95"/><circle cx="54.8" cy="52.9" r="2.6" fill-opacity="0.89"/><circle cx="60.5" cy="281.2" r="2.2" fill-opacity="0.79"/><circle cx="60.5" cy="-1.8" r="2.2" fill-opacity="0.79"/><circle cx="243" cy="3" r="3.2" fill-opacity="0.89"/><circle cx="243" cy="286" r="3.2" fill-opacity="0.89"/><circle cx="35.9" cy="195.5" r="2.3" fill-opacity="0.88"/><circle cx="84" cy="249.2" r="2" fill-opacity="0.86"/><circle cx="139.5" cy="65.5" r="4.5" fill-opacity="0.74"/><circle cx="240.4" cy="13.7" r="2.2" fill-opacity="0.76"/><circle cx="273.2" cy="113" r="2.1" fill-opacity="0.89"/><circle cx="200.4" cy="93.4" r="2.8" fill-opacity="0.80"/><circle cx="60.5" cy="130.6" r="2" fill-opacity="0.85"/><circle cx="154.2" cy="121" r="3.8" fill-opacity="0.90"/><circle cx="199.8" cy="266.6" r="2.1" fill-opacity="0.87"/><circle cx="14.7" cy="33.8" r="2" fill-opacity="0.73"/><circle cx="192.4" cy="267.2" r="4.4" fill-opacity="0.98"/><circle cx="104.2" cy="12.9" r="2.9" fill-opacity="0.92"/><circle cx="166.9" cy="265.5" r="4.2" fill-opacity="0.81"/><circle cx="189.5" cy="94.2" r="4.1" fill-opacity="0.93"/><circle cx="189.4" cy="205.8" r="3.6" fill-opacity="0.71"/><circle cx="148" cy="0.9" r="2" fill-opacity="0.87"/><circle cx="148" cy="283.9" r="2" fill-opacity="0.87"/><circle cx="157" cy="126.6" r="3.3" fill-opacity="0.84"/><circle cx="56.1" cy="191.8" r="2" fill-opacity="0.85"/><circle cx="140.1" cy="177.8" r="2" fill-opacity="0.85"/><circle cx="35.5" cy="228.2" r="3.9" fill-opacity="0.72"/><circle cx="136.1" cy="43.4" r="2.4" fill-opacity="0.90"/><circle cx="151.8" cy="113.5" r="3.6" fill-opacity="0.76"/><circle cx="219.1" cy="173.7" r="3" fill-opacity="0.77"/><circle cx="111.4" cy="8.1" r="3.7" fill-opacity="0.86"/><circle cx="5.5" cy="236.5" r="3.3" fill-opacity="0.80"/><circle cx="149.4" cy="117.8" r="4.4" fill-opacity="0.92"/><circle cx="58.1" cy="69.6" r="2.8" fill-opacity="0.77"/><circle cx="209.8" cy="63" r="4" fill-opacity="0.90"/><circle cx="110" cy="184.2" r="3.9" fill-opacity="0.93"/><circle cx="107.7" cy="13.5" r="3.1" fill-opacity="0.94"/><circle cx="257.4" cy="69.2" r="2.9" fill-opacity="0.83"/><circle cx="111.2" cy="86" r="2.7" fill-opacity="0.80"/><circle cx="98.7" cy="73.2" r="3.3" fill-opacity="0.88"/><circle cx="98.5" cy="206.8" r="2.2" fill-opacity="0.85"/><circle cx="136.1" cy="167.7" r="2.7" fill-opacity="0.92"/><circle cx="26.4" cy="255.8" r="3.3" fill-opacity="0.88"/><circle cx="154.7" cy="198.4" r="2.4" fill-opacity="0.82"/><circle cx="260.8" cy="83.3" r="2.3" fill-opacity="0.79"/><circle cx="159.3" cy="91.8" r="2.1" fill-opacity="0.85"/><circle cx="210.5" cy="34.9" r="3.8" fill-opacity="0.90"/><circle cx="268" cy="68.6" r="4" fill-opacity="0.75"/><circle cx="238.3" cy="171.1" r="3.9" fill-opacity="0.82"/><circle cx="210.6" cy="206.9" r="3.5" fill-opacity="0.78"/><circle cx="230.1" cy="83.7" r="3.2" fill-opacity="0.85"/><circle cx="232.1" cy="97.4" r="2" fill-opacity="0.80"/><circle cx="71.8" cy="227.2" r="4.1" fill-opacity="0.78"/><circle cx="136.4" cy="271.2" r="2.8" fill-opacity="0.85"/><circle cx="97" cy="24" r="3.4" fill-opacity="0.90"/><circle cx="74.1" cy="20.2" r="2.1" fill-opacity="0.79"/><circle cx="161.7" cy="214.9" r="3.6" fill-opacity="0.94"/><circle cx="90" cy="140.3" r="2.1" fill-opacity="0.74"/><circle cx="175.1" cy="120.3" r="4.3" fill-opacity="0.74"/><circle cx="164.8" cy="179.3" r="3.5" fill-opacity="0.91"/><circle cx="29.5" cy="215.2" r="3" fill-opacity="0.86"/><circle cx="125.2" cy="19.8" r="3.3" fill-opacity="0.91"/><circle cx="110.3" cy="272.2" r="2.3" fill-opacity="0.90"/><circle cx="200" cy="271.1" r="2.9" fill-opacity="0.85"/><circle cx="24.9" cy="117.9" r="2.1" fill-opacity="0.87"/><circle cx="47.8" cy="132.9" r="2.4" fill-opacity="0.86"/><circle cx="145.1" cy="77.1" r="2.4" fill-opacity="0.83"/><circle cx="114.5" cy="166.3" r="2.2" fill-opacity="0.82"/><circle cx="188.3" cy="58.1" r="2.7" fill-opacity="0.93"/><circle cx="94.2" cy="151.3" r="2" fill-opacity="0.79"/><circle cx="55.8" cy="255.9" r="2" fill-opacity="0.80"/><circle cx="263.7" cy="143.2" r="2.5" fill-opacity="0.83"/><circle cx="69" cy="234.1" r="4.5" fill-opacity="0.92"/><circle cx="41.6" cy="50.7" r="3.5" fill-opacity="0.74"/><circle cx="79.2" cy="250" r="2.7" fill-opacity="0.87"/><circle cx="96.1" cy="34.9" r="2.2" fill-opacity="0.72"/><circle cx="63.7" cy="60.2" r="2.1" fill-opacity="0.80"/><circle cx="151.8" cy="203.8" r="2.7" fill-opacity="0.83"/><circle cx="265.2" cy="85.5" r="3.3" fill-opacity="0.87"/><circle cx="35.7" cy="33.7" r="3.9" fill-opacity="0.89"/><circle cx="117.5" cy="24.6" r="2.8" fill-opacity="0.87"/><circle cx="189.1" cy="224.5" r="4" fill-opacity="0.72"/><circle cx="250.4" cy="5.6" r="3.8" fill-opacity="0.83"/><circle cx="282.9" cy="15.9" r="4" fill-opacity="0.93"/><circle cx="-0.1" cy="15.9" r="4" fill-opacity="0.93"/><circle cx="40.6" cy="267.6" r="2.5" fill-opacity="0.82"/><circle cx="152.1" cy="221.3" r="2.8" fill-opacity="0.91"/><circle cx="249.4" cy="104.8" r="2.2" fill-opacity="0.83"/><circle cx="15" cy="54.4" r="3.1" fill-opacity="0.87"/><circle cx="166.5" cy="245.4" r="2" fill-opacity="0.84"/><circle cx="49.2" cy="222.9" r="2.8" fill-opacity="0.93"/><circle cx="217.3" cy="189.2" r="2.2" fill-opacity="0.70"/><circle cx="265.3" cy="150.1" r="2.8" fill-opacity="0.75"/><circle cx="152.3" cy="148.7" r="2.2" fill-opacity="0.74"/><circle cx="2.5" cy="276.8" r="2" fill-opacity="0.76"/><circle cx="18.2" cy="147.8" r="2.7" fill-opacity="0.72"/><circle cx="117.6" cy="23.8" r="2.7" fill-opacity="0.93"/><circle cx="239.8" cy="21.2" r="3" fill-opacity="0.76"/><circle cx="67" cy="168.5" r="2.1" fill-opacity="0.82"/><circle cx="189.4" cy="207.3" r="2.9" fill-opacity="0.92"/><circle cx="114.7" cy="177.8" r="2.4" fill-opacity="0.83"/><circle cx="75" cy="210.2" r="2.1" fill-opacity="0.77"/><circle cx="199.2" cy="83.3" r="2.7" fill-opacity="0.80"/><circle cx="87.2" cy="105" r="3.4" fill-opacity="0.84"/><circle cx="105.2" cy="75.1" r="2.4" fill-opacity="0.79"/><circle cx="216.6" cy="105.4" r="3.5" fill-opacity="0.86"/><circle cx="140.1" cy="75.5" r="3.8" fill-opacity="0.85"/><circle cx="221.8" cy="236.1" r="2" fill-opacity="0.73"/><circle cx="146.1" cy="41.8" r="2.3" fill-opacity="0.89"/><circle cx="45.3" cy="58.8" r="2.4" fill-opacity="0.91"/><circle cx="125.6" cy="202.1" r="3.1" fill-opacity="0.87"/><circle cx="247" cy="112.6" r="2.8" fill-opacity="0.75"/><circle cx="159.9" cy="96.6" r="3.1" fill-opacity="0.93"/><circle cx="273" cy="275.8" r="2.1" fill-opacity="0.79"/><circle cx="0.3" cy="252.9" r="2.4" fill-opacity="0.81"/><circle cx="283.3" cy="252.9" r="2.4" fill-opacity="0.81"/><circle cx="96.3" cy="62" r="2.2" fill-opacity="0.78"/><circle cx="217.6" cy="44" r="3.6" fill-opacity="0.96"/><circle cx="194.2" cy="139.3" r="3.4" fill-opacity="0.90"/><circle cx="158.8" cy="162.5" r="2.4" fill-opacity="0.79"/><circle cx="187.8" cy="98.1" r="4.1" fill-opacity="0.84"/><circle cx="248" cy="167.4" r="2.1" fill-opacity="0.81"/><circle cx="193.4" cy="191.9" r="2" fill-opacity="0.79"/><circle cx="154.9" cy="230.5" r="2.6" fill-opacity="0.87"/><circle cx="159.2" cy="68.5" r="3.4" fill-opacity="0.95"/><circle cx="188.6" cy="182.6" r="4.3" fill-opacity="0.73"/><circle cx="91.7" cy="16.4" r="2.9" fill-opacity="0.91"/><circle cx="189.5" cy="18.3" r="2.1" fill-opacity="0.88"/><circle cx="174" cy="15.7" r="3.2" fill-opacity="0.79"/><circle cx="222.4" cy="32.9" r="2" fill-opacity="0.88"/><circle cx="135.9" cy="221.2" r="3.8" fill-opacity="0.95"/><circle cx="7.6" cy="105" r="2.5" fill-opacity="0.87"/><circle cx="151.9" cy="139.5" r="2.1" fill-opacity="0.74"/><circle cx="242.7" cy="127.6" r="2.1" fill-opacity="0.81"/><circle cx="181.1" cy="58.6" r="3.9" fill-opacity="0.93"/><circle cx="182.1" cy="13" r="4.2" fill-opacity="0.89"/><circle cx="110.6" cy="51.5" r="2.2" fill-opacity="0.73"/><circle cx="100.9" cy="242.9" r="4.5" fill-opacity="0.95"/><circle cx="203.5" cy="95.8" r="4" fill-opacity="0.85"/><circle cx="22" cy="119" r="2.5" fill-opacity="0.78"/><circle cx="245.2" cy="74.8" r="2" fill-opacity="0.79"/><circle cx="248" cy="209.8" r="2.1" fill-opacity="0.74"/><circle cx="272.4" cy="198.8" r="2.7" fill-opacity="0.81"/><circle cx="38.4" cy="108.6" r="2.2" fill-opacity="0.71"/><circle cx="32.7" cy="143.3" r="2.2" fill-opacity="0.90"/><circle cx="253" cy="112" r="2.4" fill-opacity="0.75"/><circle cx="113.5" cy="162.3" r="4.1" fill-opacity="0.83"/><circle cx="76.5" cy="168" r="2" fill-opacity="0.78"/><circle cx="108.2" cy="163.4" r="4.2" fill-opacity="0.87"/><circle cx="186.6" cy="255.1" r="2.8" fill-opacity="0.81"/><circle cx="45.7" cy="268.9" r="3.6" fill-opacity="0.95"/><circle cx="137.9" cy="14.5" r="2.9" fill-opacity="0.77"/><circle cx="186.8" cy="107.5" r="4.3" fill-opacity="0.99"/><circle cx="204" cy="11.4" r="2.2" fill-opacity="0.80"/><circle cx="278.1" cy="35" r="4.8" fill-opacity="0.34"/><circle cx="94.7" cy="216.9" r="4.9" fill-opacity="0.22"/><circle cx="22.8" cy="160.9" r="5.6" fill-opacity="0.32"/><circle cx="235.9" cy="50.8" r="3.5" fill-opacity="0.26"/><circle cx="44.8" cy="95.5" r="5.2" fill-opacity="0.24"/><circle cx="210.2" cy="207.7" r="4.3" fill-opacity="0.30"/><circle cx="249.2" cy="52.9" r="5.7" fill-opacity="0.19"/><circle cx="61.5" cy="171.9" r="5.8" fill-opacity="0.26"/><circle cx="89.8" cy="150.9" r="4.3" fill-opacity="0.16"/><circle cx="159.6" cy="150.2" r="4.1" fill-opacity="0.25"/><circle cx="245.9" cy="51.6" r="5.7" fill-opacity="0.35"/><circle cx="242" cy="233.5" r="5.8" fill-opacity="0.16"/><circle cx="137.7" cy="152.9" r="5.3" fill-opacity="0.17"/><circle cx="160.3" cy="195.1" r="5.7" fill-opacity="0.26"/><circle cx="227.3" cy="177.6" r="5.8" fill-opacity="0.34"/><circle cx="43.9" cy="90.6" r="4.5" fill-opacity="0.26"/><circle cx="263.7" cy="208.5" r="4.1" fill-opacity="0.34"/><circle cx="244.4" cy="112.5" r="3.2" fill-opacity="0.21"/><circle cx="66.2" cy="261.1" r="4.3" fill-opacity="0.35"/><circle cx="178" cy="129.6" r="3.7" fill-opacity="0.19"/><circle cx="207.2" cy="55" r="5.2" fill-opacity="0.30"/><circle cx="183.3" cy="131.5" r="4.8" fill-opacity="0.22"/><circle cx="20.4" cy="111.5" r="5.8" fill-opacity="0.32"/><circle cx="17.5" cy="269.2" r="5.1" fill-opacity="0.16"/><circle cx="63.1" cy="87.2" r="3.8" fill-opacity="0.21"/><circle cx="29.6" cy="251.8" r="4.1" fill-opacity="0.33"/><circle cx="137.2" cy="7.3" r="4.5" fill-opacity="0.30"/><circle cx="208.7" cy="38" r="4.6" fill-opacity="0.25"/><circle cx="163" cy="83.4" r="5.8" fill-opacity="0.23"/><circle cx="256.4" cy="209.7" r="4.9" fill-opacity="0.34"/><circle cx="138.8" cy="170.4" r="4" fill-opacity="0.19"/><circle cx="127.1" cy="117.8" r="3.8" fill-opacity="0.19"/><circle cx="36.1" cy="117.1" r="4.7" fill-opacity="0.16"/><circle cx="269.9" cy="238.1" r="3.3" fill-opacity="0.28"/><circle cx="190.3" cy="61.5" r="4.4" fill-opacity="0.33"/><circle cx="277.4" cy="222.9" r="5.7" fill-opacity="0.18"/><circle cx="-5.6" cy="222.9" r="5.7" fill-opacity="0.18"/><circle cx="264.5" cy="105.6" r="5.8" fill-opacity="0.30"/><circle cx="24.1" cy="196" r="4.7" fill-opacity="0.30"/><circle cx="170.8" cy="231.1" r="4.6" fill-opacity="0.19"/><circle cx="137.9" cy="121.5" r="4" fill-opacity="0.25"/><circle cx="213.5" cy="55.1" r="4.8" fill-opacity="0.26"/><circle cx="12.6" cy="68.1" r="4.4" fill-opacity="0.16"/><circle cx="186.6" cy="69.8" r="4.9" fill-opacity="0.34"/><circle cx="172.8" cy="27.1" r="5.9" fill-opacity="0.18"/><circle cx="105.6" cy="120.9" r="5.3" fill-opacity="0.18"/><circle cx="35.6" cy="182.4" r="3.4" fill-opacity="0.29"/><circle cx="194.1" cy="109.5" r="3.5" fill-opacity="0.25"/><circle cx="13.6" cy="270.7" r="5.1" fill-opacity="0.31"/><circle cx="95.5" cy="265.9" r="5.9" fill-opacity="0.28"/><circle cx="7.8" cy="219.8" r="4.8" fill-opacity="0.17"/><circle cx="87" cy="224.5" r="5.5" fill-opacity="0.24"/><circle cx="70.6" cy="88.6" r="3.8" fill-opacity="0.35"/><circle cx="175.2" cy="214.6" r="3.7" fill-opacity="0.21"/><circle cx="193.6" cy="14.9" r="5.9" fill-opacity="0.19"/><circle cx="200.4" cy="5.6" r="5.6" fill-opacity="0.33"/><circle cx="200.4" cy="288.6" r="5.6" fill-opacity="0.33"/><circle cx="116.2" cy="19.3" r="4.3" fill-opacity="0.17"/><circle cx="213.5" cy="89.8" r="5.4" fill-opacity="0.23"/><circle cx="186.9" cy="205.8" r="4.9" fill-opacity="0.35"/><circle cx="151.2" cy="8.9" r="5.3" fill-opacity="0.32"/><circle cx="220.5" cy="108.5" r="4.8" fill-opacity="0.18"/><circle cx="275" cy="168.6" r="5" fill-opacity="0.17"/><circle cx="136" cy="239.6" r="5.8" fill-opacity="0.25"/><circle cx="272.2" cy="159.4" r="4.3" fill-opacity="0.29"/><circle cx="176.4" cy="69.5" r="5.2" fill-opacity="0.31"/><circle cx="109.5" cy="24.4" r="5.9" fill-opacity="0.19"/><circle cx="134.9" cy="143.3" r="3.1" fill-opacity="0.24"/><circle cx="185.4" cy="228.2" r="3.8" fill-opacity="0.24"/><circle cx="89.2" cy="235.4" r="4.1" fill-opacity="0.21"/><circle cx="261.2" cy="175.4" r="4.7" fill-opacity="0.29"/><circle cx="109.2" cy="50.9" r="4.4" fill-opacity="0.26"/><circle cx="176.8" cy="21.2" r="5.8" fill-opacity="0.23"/><circle cx="243.3" cy="13.7" r="3.6" fill-opacity="0.30"/><circle cx="234.8" cy="76.4" r="3.9" fill-opacity="0.21"/><circle cx="190.6" cy="151.1" r="3.2" fill-opacity="0.27"/><circle cx="202.1" cy="42.3" r="3.5" fill-opacity="0.31"/><circle cx="214.2" cy="175.5" r="4.8" fill-opacity="0.22"/><circle cx="166.1" cy="89" r="3.2" fill-opacity="0.16"/><circle cx="122.4" cy="223.5" r="5.8" fill-opacity="0.15"/><circle cx="254.3" cy="150.1" r="5.3" fill-opacity="0.31"/><circle cx="45.4" cy="217.2" r="3.3" fill-opacity="0.31"/><circle cx="36.4" cy="72.6" r="5.4" fill-opacity="0.29"/><circle cx="88.5" cy="161.2" r="3.4" fill-opacity="0.15"/><circle cx="66.4" cy="250.9" r="4.6" fill-opacity="0.20"/><circle cx="275.5" cy="4.7" r="3.6" fill-opacity="0.34"/><circle cx="150.2" cy="264.1" r="3.5" fill-opacity="0.26"/><circle cx="250.3" cy="167.4" r="4.6" fill-opacity="0.24"/><circle cx="156.3" cy="282.3" r="5.7" fill-opacity="0.34"/><circle cx="156.3" cy="-0.7" r="5.7" fill-opacity="0.34"/><circle cx="61.5" cy="80.5" r="3.3" fill-opacity="0.34"/><circle cx="247.6" cy="138.5" r="3.6" fill-opacity="0.20"/><circle cx="249.6" cy="193.5" r="4.5" fill-opacity="0.29"/></g></pattern></defs><text x="674" y="56.8" text-anchor="middle">HSC tract 9813, patch 42, i-band</text><text x="674" y="95.7" text-anchor="middle">injected_deepCoadd (post-injection)</text><g clip-path="url(#ax)"><rect x="148.40" y="121.70" width="1051.10" height="1051.70" filter="url(#grain)"/><g fill="url(#s)"><rect x="148.40" y="121.70" width="1051.10" height="1051.70" fill="url(#p0)"/><rect x="148.40" y="121.70" width="1051.10" height="1051.70" fill="url(#p1)"/><rect x="148.40" y="121.70" width="1051.10" height="1051.70" fill="url(#p2)"/></g><clipPath id="stamp0"><rect x="822.5" y="726.5" width="67.3" height="68.3"/></clipPath><rect x="822.5" y="726.5" width="67.3" height="68.3" fill="#535353"/><radialGradient id="g0"><stop offset="0.000" stop-color="#ffffff" stop-opacity="1.000"/><stop offset="0.041" stop-color="#ffffff" stop-opacity="1.000"/><stop offset="0.082" stop-color="#dfdfdf" stop-opacity="0.978"/><stop offset="0.176" stop-color="#bababa" stop-opacity="0.858"/><stop offset="0.269" stop-color="#a2a2a2" stop-opacity="0.753"/><stop offset="0.363" stop-color="#959595" stop-opacity="0.614"/><stop offset="0.456" stop-color="#8a8a8a" stop-opacity="0.511"/><stop offset="0.549" stop-color="#848484" stop-opacity="0.398"/><stop offset="0.643" stop-color="#7f7f7f" stop-opacity="0.307"/><stop offset="0.736" stop-color="#7b7b7b" stop-opacity="0.237"/><stop offset="0.830" stop-color="#787878" stop-opacity="0.185"/><stop offset="0.923" stop-color="#747474" stop-opacity="0.147"/><stop offset="1.000" stop-color="#585858" stop-opacity="0.000"/></radialGradient><radialGradient id="g1"><stop offset="0.000" stop-color="#ffffff" stop-opacity="1.000"/><stop offset="0.059" stop-color="#ffffff" stop-opacity="1.000"/><stop offset="0.118" stop-color="#e3e3e3" stop-opacity="0.982"/><stop offset="0.207" stop-color="#c8c8c8" stop-opacity="0.901"/><stop offset="0.297" stop-color="#b2b2b2" stop-opacity="0.823"/><stop offset="0.387" stop-color="#a1a1a1" stop-opacity="0.748"/><stop offset="0.476" stop-color="#979797" stop-opacity="0.641"/><stop offset="0.566" stop-color="#909090" stop-opacity="0.534"/><stop offset="0.656" stop-color="#878787" stop-opacity="0.465"/><stop offset="0.745" stop-color="#838383" stop-opacity="0.378"/><stop offset="0.835" stop-color="#7f7f7f" stop-opacity="0.305"/><stop offset="0.925" stop-color="#7c7c7c" stop-opacity="0.245"/><stop offset="1.000" stop-color="#585858" stop-opacity="0.000"/></radialGradient><radialGradient id="g2"><stop offset="0.000" stop-color="#ffffff" stop-opacity="1.000"/><stop offset="0.130" stop-color="#ffffff" stop-opacity="1.000"/><stop offset="0.199" stop-color="#f2f2f2" stop-opacity="0.994"/><stop offset="0.280" stop-color="#dadada" stop-opacity="0.966"/><stop offset="0.361" stop-color="#c4c4c4" stop-opacity="0.891"/><stop offset="0.443" stop-color="#afafaf" stop-opacity="0.807"/><stop offset="0.524" stop-color="#9d9d9d" stop-opacity="0.712"/><stop offset="0.605" stop-color="#929292" stop-opacity="0.572"/><stop offset="0.686" stop-color="#878787" stop-opacity="0.459"/><stop offset="0.768" stop-color="#818181" stop-opacity="0.334"/><stop offset="0.849" stop-color="#7b7b7b" stop-opacity="0.235"/><stop offset="0.930" stop-color="#767676" stop-opacity="0.165"/><stop offset="1.000" stop-color="#585858" stop-opacity="0.000"/></radialGradient><radialGradient id="g3"><stop offset="0.000" stop-color="#ffffff" stop-opacity="1.000"/><stop offset="0.090" stop-color="#ffffff" stop-opacity="1.000"/><stop offset="0.162" stop-color="#f2f2f2" stop-opacity="0.994"/><stop offset="0.247" stop-color="#dadada" stop-opacity="0.966"/><stop offset="0.332" stop-color="#c4c4c4" stop-opacity="0.891"/><stop offset="0.417" stop-color="#afafaf" stop-opacity="0.807"/><stop offset="0.502" stop-color="#9d9d9d" stop-opacity="0.712"/><stop offset="0.587" stop-color="#929292" stop-opacity="0.572"/><stop offset="0.672" stop-color="#878787" stop-opacity="0.459"/><stop offset="0.757" stop-color="#818181" stop-opacity="0.334"/><stop offset="0.842" stop-color="#7b7b7b" stop-opacity="0.235"/><stop offset="0.927" stop-color="#767676" stop-opacity="0.165"/><stop offset="1.000" stop-color="#585858" stop-opacity="0.000"/></radialGradient><radialGradient id="g4"><stop offset="0.000" stop-color="#ffffff" stop-opacity="1.000"/><stop offset="0.232" stop-color="#ffffff" stop-opacity="1.000"/><stop offset="0.321" stop-color="#f8f8f8" stop-opacity="0.996"/><stop offset="0.393" stop-color="#f2f2f2" stop-opacity="0.990"/><stop offset="0.464" stop-color="#e4e4e4" stop-opacity="0.983"/><stop offset="0.536" stop-color="#cccccc" stop-opacity="0.946"/><stop offset="0.589" stop-color="#b7b7b7" stop-opacity="0.844"/><stop offset="0.643" stop-color="#9f9f9f" stop-opacity="0.730"/><stop offset="0.714" stop-color="#898989" stop-opacity="0.493"/><stop offset="0.804" stop-color="#7b7b7b" stop-opacity="0.230"/><stop offset="0.893" stop-color="#585858" stop-opacity="0.000"/><stop offset="1.000" stop-color="#585858" stop-opacity="0.000"/></radialGradient><radialGradient id="g5"><stop offset="0.000" stop-color="#ffffff" stop-opacity="1.000"/><stop offset="0.153" stop-color="#ffffff" stop-opacity="1.000"/><stop offset="0.220" stop-color="#f2f2f2" stop-opacity="0.994"/><stop offset="0.299" stop-color="#dadada" stop-opacity="0.966"/><stop offset="0.378" stop-color="#c4c4c4" stop-opacity="0.891"/><stop offset="0.457" stop-color="#afafaf" stop-opacity="0.807"/><stop offset="0.537" stop-color="#9d9d9d" stop-opacity="0.712"/><stop offset="0.616" stop-color="#929292" stop-opacity="0.572"/><stop offset="0.695" stop-color="#878787" stop-opacity="0.459"/><stop offset="0.774" stop-color="#818181" stop-opacity="0.334"/><stop offset="0.853" stop-color="#7b7b7b" stop-opacity="0.235"/><stop offset="0.932" stop-color="#767676" stop-opacity="0.165"/><stop offset="1.000" stop-color="#585858" stop-opacity="0.000"/></radialGradient><radialGradient id="g6"><stop offset="0.000" stop-color="#ffffff" stop-opacity="1.000"/><stop offset="0.217" stop-color="#ffffff" stop-opacity="1.000"/><stop offset="0.280" stop-color="#f2f2f2" stop-opacity="0.994"/><stop offset="0.353" stop-color="#dadada" stop-opacity="0.966"/><stop offset="0.426" stop-color="#c4c4c4" stop-opacity="0.891"/><stop offset="0.499" stop-color="#afafaf" stop-opacity="0.807"/><stop offset="0.572" stop-color="#9d9d9d" stop-opacity="0.712"/><stop offset="0.645" stop-color="#929292" stop-opacity="0.572"/><stop offset="0.718" stop-color="#878787" stop-opacity="0.459"/><stop offset="0.791" stop-color="#818181" stop-opacity="0.334"/><stop offset="0.864" stop-color="#7b7b7b" stop-opacity="0.235"/><stop offset="0.937" stop-color="#767676" stop-opacity="0.165"/><stop offset="1.000" stop-color="#585858" stop-opacity="0.000"/></radialGradient><radialGradient id="g7"><stop offset="0.000" stop-color="#ffffff" stop-opacity="1.000"/><stop offset="0.177" stop-color="#ffffff" stop-opacity="1.000"/><stop offset="0.228" stop-color="#e3e3e3" stop-opacity="0.982"/><stop offset="0.307" stop-color="#c8c8c8" stop-opacity="0.901"/><stop offset="0.385" stop-color="#b2b2b2" stop-opacity="0.823"/><stop offset="0.464" stop-color="#a1a1a1" stop-opacity="0.748"/><stop offset="0.542" stop-color="#979797" stop-opacity="0.641"/><stop offset="0.621" stop-color="#909090" stop-opacity="0.534"/><stop offset="0.699" stop-color="#878787" stop-opacity="0.465"/><stop offset="0.777" stop-color="#838383" stop-opacity="0.378"/><stop offset="0.856" stop-color="#7f7f7f" stop-opacity="0.305"/><stop offset="0.934" stop-color="#7c7c7c" stop-opacity="0.245"/><stop offset="1.000" stop-color="#585858" stop-opacity="0.000"/></radialGradient><radialGradient id="g8"><stop offset="0.000" stop-color="#ffffff" stop-opacity="1.000"/><stop offset="0.181" stop-color="#ffffff" stop-opacity="1.000"/><stop offset="0.232" stop-color="#e3e3e3" stop-opacity="0.982"/><stop offset="0.310" stop-color="#c8c8c8" stop-opacity="0.901"/><stop offset="0.388" stop-color="#b2b2b2" stop-opacity="0.823"/><stop offset="0.466" stop-color="#a1a1a1" stop-opacity="0.748"/><stop offset="0.544" stop-color="#979797" stop-opacity="0.641"/><stop offset="0.622" stop-color="#909090" stop-opacity="0.534"/><stop offset="0.700" stop-color="#878787" stop-opacity="0.465"/><stop offset="0.778" stop-color="#838383" stop-opacity="0.378"/><stop offset="0.856" stop-color="#7f7f7f" stop-opacity="0.305"/><stop offset="0.934" stop-color="#7c7c7c" stop-opacity="0.245"/><stop offset="1.000" stop-color="#585858" stop-opacity="0.000"/></radialGradient><radialGradient id="g9"><stop offset="0.000" stop-color="#ffffff" stop-opacity="1.000"/><stop offset="0.203" stop-color="#ffffff" stop-opacity="1.000"/><stop offset="0.266" stop-color="#f2f2f2" stop-opacity="0.994"/><stop offset="0.341" stop-color="#dadada" stop-opacity="0.966"/><stop offset="0.415" stop-color="#c4c4c4" stop-opacity="0.891"/><stop offset="0.490" stop-color="#afafaf" stop-opacity="0.807"/><stop offset="0.564" stop-color="#9d9d9d" stop-opacity="0.712"/><stop offset="0.639" stop-color="#929292" stop-opacity="0.572"/><stop offset="0.713" stop-color="#878787" stop-opacity="0.459"/><stop offset="0.787" stop-color="#818181" stop-opacity="0.334"/><stop offset="0.862" stop-color="#7b7b7b" stop-opacity="0.235"/><stop offset="0.936" stop-color="#767676" stop-opacity="0.165"/><stop offset="1.000" stop-color="#585858" stop-opacity="0.000"/></radialGradient><radialGradient id="g10"><stop offset="0.000" stop-color="#ffffff" stop-opacity="1.000"/><stop offset="0.209" stop-color="#ffffff" stop-opacity="1.000"/><stop offset="0.272" stop-color="#f2f2f2" stop-opacity="0.994"/><stop offset="0.346" stop-color="#dadada" stop-opacity="0.966"/><stop offset="0.420" stop-color="#c4c4c4" stop-opacity="0.891"/><stop offset="0.494" stop-color="#afafaf" stop-opacity="0.807"/><stop offset="0.567" stop-color="#9d9d9d" stop-opacity="0.712"/><stop offset="0.641" stop-color="#929292" stop-opacity="0.572"/><stop offset="0.715" stop-color="#878787" stop-opacity="0.459"/><stop offset="0.789" stop-color="#818181" stop-opacity="0.334"/><stop offset="0.863" stop-color="#7b7b7b" stop-opacity="0.235"/><stop offset="0.937" stop-color="#767676" stop-opacity="0.165"/><stop offset="1.000" stop-color="#585858" stop-opacity="0.000"/></radialGradient><radialGradient id="g11"><stop offset="0.000" stop-color="#ffffff" stop-opacity="1.000"/><stop offset="0.224" stop-color="#ffffff" stop-opacity="1.000"/><stop offset="0.286" stop-color="#f2f2f2" stop-opacity="0.994"/><stop offset="0.358" stop-color="#dadada" stop-opacity="0.966"/><stop offset="0.431" stop-color="#c4c4c4" stop-opacity="0.891"/><stop offset="0.503" stop-color="#afafaf" stop-opacity="0.807"/><stop offset="0.576" stop-color="#9d9d9d" stop-opacity="0.712"/><stop offset="0.648" stop-color="#929292" stop-opacity="0.572"/><stop offset="0.720" stop-color="#878787" stop-opacity="0.459"/><stop offset="0.793" stop-color="#818181" stop-opacity="0.334"/><stop offset="0.865" stop-color="#7b7b7b" stop-opacity="0.235"/><stop offset="0.938" stop-color="#767676" stop-opacity="0.165"/><stop offset="1.000" stop-color="#585858" stop-opacity="0.000"/></radialGradient><radialGradient id="g12"><stop offset="0.000" stop-color="#ffffff" stop-opacity="1.000"/><stop offset="0.217" stop-color="#ffffff" stop-opacity="1.000"/><stop offset="0.280" stop-color="#f2f2f2" stop-opacity="0.994"/><stop offset="0.353" stop-color="#dadada" stop-opacity="0.966"/><stop offset="0.426" stop-color="#c4c4c4" stop-opacity="0.891"/><stop offset="0.499" stop-color="#afafaf" stop-opacity="0.807"/><stop offset="0.572" stop-color="#9d9d9d" stop-opacity="0.712"/><stop offset="0.645" stop-color="#929292" stop-opacity="0.572"/><stop offset="0.718" stop-color="#878787" stop-opacity="0.459"/><stop offset="0.791" stop-color="#818181" stop-opacity="0.334"/><stop offset="0.864" stop-color="#7b7b7b" stop-opacity="0.235"/><stop offset="0.937" stop-color="#767676" stop-opacity="0.165"/><stop offset="1.000" stop-color="#585858" stop-opacity="0.000"/></radialGradient><radialGradient id="g13"><stop offset="0.000" stop-color="#ffffff" stop-opacity="1.000"/><stop offset="0.217" stop-color="#ffffff" stop-opacity="1.000"/><stop offset="0.280" stop-color="#f2f2f2" stop-opacity="0.994"/><stop offset="0.353" stop-color="#dadada" stop-opacity="0.966"/><stop offset="0.426" stop-color="#c4c4c4" stop-opacity="0.891"/><stop offset="0.499" stop-color="#afafaf" stop-opacity="0.807"/><stop offset="0.572" stop-color="#9d9d9d" stop-opacity="0.712"/><stop offset="0.645" stop-color="#929292" stop-opacity="0.572"/><stop offset="0.718" stop-color="#878787" stop-opacity="0.459"/><stop offset="0.791" stop-color="#818181" stop-opacity="0.334"/><stop offset="0.864" stop-color="#7b7b7b" stop-opacity="0.235"/><stop offset="0.937" stop-color="#767676" stop-opacity="0.165"/><stop offset="1.000" stop-color="#585858" stop-opacity="0.000"/></radialGradient><radialGradient id="g14"><stop offset="0.000" stop-color="#ffffff" stop-opacity="1.000"/><stop offset="0.284" stop-color="#ffffff" stop-opacity="1.000"/><stop offset="0.341" stop-color="#f2f2f2" stop-opacity="0.994"/><stop offset="0.408" stop-color="#dadada" stop-opacity="0.966"/><stop offset="0.475" stop-color="#c4c4c4" stop-opacity="0.891"/><stop offset="0.542" stop-color="#afafaf" stop-opacity="0.807"/><stop offset="0.608" stop-color="#9d9d9d" stop-opacity="0.712"/><stop offset="0.675" stop-color="#929292" stop-opacity="0.572"/><stop offset="0.742" stop-color="#878787" stop-opacity="0.459"/><stop offset="0.809" stop-color="#818181" stop-opacity="0.334"/><stop offset="0.876" stop-color="#7b7b7b" stop-opacity="0.235"/><stop offset="0.943" stop-color="#767676" stop-opacity="0.165"/><stop offset="1.000" stop-color="#585858" stop-opacity="0.000"/></radialGradient><radialGradient id="g15"><stop offset="0.000" stop-color="#ffffff" stop-opacity="1.000"/><stop offset="0.209" stop-color="#ffffff" stop-opacity="1.000"/><stop offset="0.272" stop-color="#f2f2f2" stop-opacity="0.994"/><stop offset="0.346" stop-color="#dadada" stop-opacity="0.966"/><stop offset="0.420" stop-color="#c4c4c4" stop-opacity="0.891"/><stop offset="0.494" stop-color="#afafaf" stop-opacity="0.807"/><stop offset="0.567" stop-color="#9d9d9d" stop-opacity="0.712"/><stop offset="0.641" stop-color="#929292" stop-opacity="0.572"/><stop offset="0.715" stop-color="#878787" stop-opacity="0.459"/><stop offset="0.789" stop-color="#818181" stop-opacity="0.334"/><stop offset="0.863" stop-color="#7b7b7b" stop-opacity="0.235"/><stop offset="0.937" stop-color="#767676" stop-opacity="0.165"/><stop offset="1.000" stop-color="#585858" stop-opacity="0.000"/></radialGradient><radialGradient id="g16"><stop offset="0.000" stop-color="#ffffff" stop-opacity="1.000"/><stop offset="0.258" stop-color="#ffffff" stop-opacity="1.000"/><stop offset="0.317" stop-color="#f2f2f2" stop-opacity="0.994"/><stop offset="0.386" stop-color="#dadada" stop-opacity="0.966"/><stop offset="0.455" stop-color="#c4c4c4" stop-opacity="0.891"/><stop offset="0.525" stop-color="#afafaf" stop-opacity="0.807"/><stop offset="0.594" stop-color="#9d9d9d" stop-opacity="0.712"/><stop offset="0.663" stop-color="#929292" stop-opacity="0.572"/><stop offset="0.733" stop-color="#878787" stop-opacity="0.459"/><stop offset="0.802" stop-color="#818181" stop-opacity="0.334"/><stop offset="0.871" stop-color="#7b7b7b" stop-opacity="0.235"/><stop offset="0.941" stop-color="#767676" stop-opacity="0.165"/><stop offset="1.000" stop-color="#585858" stop-opacity="0.000"/></radialGradient><radialGradient id="g17"><stop offset="0.000" stop-color="#ffffff" stop-opacity="1.000"/><stop offset="0.199" stop-color="#ffffff" stop-opacity="1.000"/><stop offset="0.262" stop-color="#f2f2f2" stop-opacity="0.994"/><stop offset="0.337" stop-color="#dadada" stop-opacity="0.966"/><stop offset="0.412" stop-color="#c4c4c4" stop-opacity="0.891"/><stop offset="0.487" stop-color="#afafaf" stop-opacity="0.807"/><stop offset="0.562" stop-color="#9d9d9d" stop-opacity="0.712"/><stop offset="0.637" stop-color="#929292" stop-opacity="0.572"/><stop offset="0.711" stop-color="#878787" stop-opacity="0.459"/><stop offset="0.786" stop-color="#818181" stop-opacity="0.334"/><stop offset="0.861" stop-color="#7b7b7b" stop-opacity="0.235"/><stop offset="0.936" stop-color="#767676" stop-opacity="0.165"/><stop offset="1.000" stop-color="#585858" stop-opacity="0.000"/></radialGradient><radialGradient id="g18"><stop offset="0.000" stop-color="#ffffff" stop-opacity="1.000"/><stop offset="0.254" stop-color="#ffffff" stop-opacity="1.000"/><stop offset="0.313" stop-color="#f2f2f2" stop-opacity="0.994"/><stop offset="0.383" stop-color="#dadada" stop-opacity="0.966"/><stop offset="0.452" stop-color="#c4c4c4" stop-opacity="0.891"/><stop offset="0.522" stop-color="#afafaf" stop-opacity="0.807"/><stop offset="0.592" stop-color="#9d9d9d" stop-opacity="0.712"/><stop offset="0.662" stop-color="#929292" stop-opacity="0.572"/><stop offset="0.731" stop-color="#878787" stop-opacity="0.459"/><stop offset="0.801" stop-color="#818181" stop-opacity="0.334"/><stop offset="0.871" stop-color="#7b7b7b" stop-opacity="0.235"/><stop offset="0.940" stop-color="#767676" stop-opacity="0.165"/><stop offset="1.000" stop-color="#585858" stop-opacity="0.000"/></radialGradient><radialGradient id="g19"><stop offset="0.000" stop-color="#ffffff" stop-opacity="1.000"/><stop offset="0.090" stop-color="#ffffff" stop-opacity="1.000"/><stop offset="0.162" stop-color="#f2f2f2" stop-opacity="0.994"/><stop offset="0.247" stop-color="#dadada" stop-opacity="0.966"/><stop offset="0.332" stop-color="#c4c4c4" stop-opacity="0.891"/><stop offset="0.417" stop-color="#afafaf" stop-opacity="0.807"/><stop offset="0.502" stop-color="#9d9d9d" stop-opacity="0.712"/><stop offset="0.587" stop-color="#929292" stop-opacity="0.572"/><stop offset="0.672" stop-color="#878787" stop-opacity="0.459"/><stop offset="0.757" stop-color="#818181" stop-opacity="0.334"/><stop offset="0.842" stop-color="#7b7b7b" stop-opacity="0.235"/><stop offset="0.927" stop-color="#767676" stop-opacity="0.165"/><stop offset="1.000" stop-color="#585858" stop-opacity="0.000"/></radialGradient><radialGradient id="g20"><stop offset="0.000" stop-color="#ffffff" stop-opacity="1.000"/><stop offset="0.284" stop-color="#ffffff" stop-opacity="1.000"/><stop offset="0.341" stop-color="#f2f2f2" stop-opacity="0.994"/><stop offset="0.408" stop-color="#dadada" stop-opacity="0.966"/><stop offset="0.475" stop-color="#c4c4c4" stop-opacity="0.891"/><stop offset="0.542" stop-color="#afafaf" stop-opacity="0.807"/><stop offset="0.608" stop-color="#9d9d9d" stop-opacity="0.712"/><stop offset="0.675" stop-color="#929292" stop-opacity="0.572"/><stop offset="0.742" stop-color="#878787" stop-opacity="0.459"/><stop offset="0.809" stop-color="#818181" stop-opacity="0.334"/><stop offset="0.876" stop-color="#7b7b7b" stop-opacity="0.235"/><stop offset="0.943" stop-color="#767676" stop-opacity="0.165"/><stop offset="1.000" stop-color="#585858" stop-opacity="0.000"/></radialGradient><radialGradient id="g21"><stop offset="0.000" stop-color="#ffffff" stop-opacity="1.000"/><stop offset="0.284" stop-color="#ffffff" stop-opacity="1.000"/><stop offset="0.341" stop-color="#f2f2f2" stop-opacity="0.994"/><stop offset="0.408" stop-color="#dadada" stop-opacity="0.966"/><stop offset="0.475" stop-color="#c4c4c4" stop-opacity="0.891"/><stop offset="0.542" stop-color="#afafaf" stop-opacity="0.807"/><stop offset="0.608" stop-color="#9d9d9d" stop-opacity="0.712"/><stop offset="0.675" stop-color="#929292" stop-opacity="0.572"/><stop offset="0.742" stop-color="#878787" stop-opacity="0.459"/><stop offset="0.809" stop-color="#818181" stop-opacity="0.334"/><stop offset="0.876" stop-color="#7b7b7b" stop-opacity="0.235"/><stop offset="0.943" stop-color="#767676" stop-opacity="0.165"/><stop offset="1.000" stop-color="#585858" stop-opacity="0.000"/></radialGradient><radialGradient id="g22"><stop offset="0.000" stop-color="#ffffff" stop-opacity="1.000"/><stop offset="0.284" stop-color="#ffffff" stop-opacity="1.000"/><stop offset="0.341" stop-color="#f2f2f2" stop-opacity="0.994"/><stop offset="0.408" stop-color="#dadada" stop-opacity="0.966"/><stop offset="0.475" stop-color="#c4c4c4" stop-opacity="0.891"/><stop offset="0.542" stop-color="#afafaf" stop-opacity="0.807"/><stop offset="0.608" stop-color="#9d9d9d" stop-opacity="0.712"/><stop offset="0.675" stop-color="#929292" stop-opacity="0.572"/><stop offset="0.742" stop-color="#878787" stop-opacity="0.459"/><stop offset="0.809" stop-color="#818181" stop-opacity="0.334"/><stop offset="0.876" stop-color="#7b7b7b" stop-opacity="0.235"/><stop offset="0.943" stop-color="#767676" stop-opacity="0.165"/><stop offset="1.000" stop-color="#585858" stop-opacity="0.000"/></radialGradient><radialGradient id="g23"><stop offset="0.000" stop-color="#ffffff" stop-opacity="1.000"/><stop offset="0.284" stop-color="#ffffff" stop-opacity="1.000"/><stop offset="0.341" stop-color="#f2f2f2" stop-opacity="0.994"/><stop offset="0.408" stop-color="#dadada" stop-opacity="0.966"/><stop offset="0.475" stop-color="#c4c4c4" stop-opacity="0.891"/><stop offset="0.542" stop-color="#afafaf" stop-opacity="0.807"/><stop offset="0.608" stop-color="#9d9d9d" stop-opacity="0.712"/><stop offset="0.675" stop-color="#929292" stop-opacity="0.572"/><stop offset="0.742" stop-color="#878787" stop-opacity="0.459"/><stop offset="0.809" stop-color="#818181" stop-opacity="0.334"/><stop offset="0.876" stop-color="#7b7b7b" stop-opacity="0.235"/><stop offset="0.943" stop-color="#767676" stop-opacity="0.165"/><stop offset="1.000" stop-color="#585858" stop-opacity="0.000"/></radialGradient><radialGradient id="g24"><stop offset="0.000" stop-color="#ffffff" stop-opacity="1.000"/><stop offset="0.209" stop-color="#ffffff" stop-opacity="1.000"/><stop offset="0.272" stop-color="#f2f2f2" stop-opacity="0.994"/><stop offset="0.346" stop-color="#dadada" stop-opacity="0.966"/><stop offset="0.420" stop-color="#c4c4c4" stop-opacity="0.891"/><stop offset="0.494" stop-color="#afafaf" stop-opacity="0.807"/><stop offset="0.567" stop-color="#9d9d9d" stop-opacity="0.712"/><stop offset="0.641" stop-color="#929292" stop-opacity="0.572"/><stop offset="0.715" stop-color="#878787" stop-opacity="0.459"/><stop offset="0.789" stop-color="#818181" stop-opacity="0.334"/><stop offset="0.863" stop-color="#7b7b7b" stop-opacity="0.235"/><stop offset="0.937" stop-color="#767676" stop-opacity="0.165"/><stop offset="1.000" stop-color="#585858" stop-opacity="0.000"/></radialGradient><radialGradient id="g25"><stop offset="0.000" stop-color="#ffffff" stop-opacity="1.000"/><stop offset="0.233" stop-color="#ffffff" stop-opacity="1.000"/><stop offset="0.281" stop-color="#e3e3e3" stop-opacity="0.982"/><stop offset="0.354" stop-color="#c8c8c8" stop-opacity="0.901"/><stop offset="0.427" stop-color="#b2b2b2" stop-opacity="0.823"/><stop offset="0.500" stop-color="#a1a1a1" stop-opacity="0.748"/><stop offset="0.573" stop-color="#979797" stop-opacity="0.641"/><stop offset="0.646" stop-color="#909090" stop-opacity="0.534"/><stop offset="0.720" stop-color="#878787" stop-opacity="0.465"/><stop offset="0.793" stop-color="#838383" stop-opacity="0.378"/><stop offset="0.866" stop-color="#7f7f7f" stop-opacity="0.305"/><stop offset="0.939" stop-color="#7c7c7c" stop-opacity="0.245"/><stop offset="1.000" stop-color="#585858" stop-opacity="0.000"/></radialGradient><radialGradient id="g26"><stop offset="0.000" stop-color="#ffffff" stop-opacity="1.000"/><stop offset="0.335" stop-color="#ffffff" stop-opacity="1.000"/><stop offset="0.377" stop-color="#e3e3e3" stop-opacity="0.982"/><stop offset="0.440" stop-color="#c8c8c8" stop-opacity="0.901"/><stop offset="0.504" stop-color="#b2b2b2" stop-opacity="0.823"/><stop offset="0.567" stop-color="#a1a1a1" stop-opacity="0.748"/><stop offset="0.630" stop-color="#979797" stop-opacity="0.641"/><stop offset="0.694" stop-color="#909090" stop-opacity="0.534"/><stop offset="0.757" stop-color="#878787" stop-opacity="0.465"/><stop offset="0.820" stop-color="#838383" stop-opacity="0.378"/><stop offset="0.884" stop-color="#7f7f7f" stop-opacity="0.305"/><stop offset="0.947" stop-color="#7c7c7c" stop-opacity="0.245"/><stop offset="1.000" stop-color="#585858" stop-opacity="0.000"/></radialGradient><radialGradient id="g27"><stop offset="0.000" stop-color="#ffffff" stop-opacity="1.000"/><stop offset="0.284" stop-color="#ffffff" stop-opacity="1.000"/><stop offset="0.341" stop-color="#f2f2f2" stop-opacity="0.994"/><stop offset="0.408" stop-color="#dadada" stop-opacity="0.966"/><stop offset="0.475" stop-color="#c4c4c4" stop-opacity="0.891"/><stop offset="0.542" stop-color="#afafaf" stop-opacity="0.807"/><stop offset="0.608" stop-color="#9d9d9d" stop-opacity="0.712"/><stop offset="0.675" stop-color="#929292" stop-opacity="0.572"/><stop offset="0.742" stop-color="#878787" stop-opacity="0.459"/><stop offset="0.809" stop-color="#818181" stop-opacity="0.334"/><stop offset="0.876" stop-color="#7b7b7b" stop-opacity="0.235"/><stop offset="0.943" stop-color="#767676" stop-opacity="0.165"/><stop offset="1.000" stop-color="#585858" stop-opacity="0.000"/></radialGradient><radialGradient id="g28"><stop offset="0.000" stop-color="#ffffff" stop-opacity="1.000"/><stop offset="0.147" stop-color="#ffffff" stop-opacity="1.000"/><stop offset="0.201" stop-color="#e3e3e3" stop-opacity="0.982"/><stop offset="0.282" stop-color="#c8c8c8" stop-opacity="0.901"/><stop offset="0.363" stop-color="#b2b2b2" stop-opacity="0.823"/><stop offset="0.444" stop-color="#a1a1a1" stop-opacity="0.748"/><stop offset="0.526" stop-color="#979797" stop-opacity="0.641"/><stop offset="0.607" stop-color="#909090" stop-opacity="0.534"/><stop offset="0.688" stop-color="#878787" stop-opacity="0.465"/><stop offset="0.769" stop-color="#838383" stop-opacity="0.378"/><stop offset="0.851" stop-color="#7f7f7f" stop-opacity="0.305"/><stop offset="0.932" stop-color="#7c7c7c" stop-opacity="0.245"/><stop offset="1.000" stop-color="#585858" stop-opacity="0.000"/></radialGradient><radialGradient id="g29"><stop offset="0.000" stop-color="#ffffff" stop-opacity="1.000"/><stop offset="0.222" stop-color="#ffffff" stop-opacity="1.000"/><stop offset="0.271" stop-color="#e3e3e3" stop-opacity="0.982"/><stop offset="0.345" stop-color="#c8c8c8" stop-opacity="0.901"/><stop offset="0.419" stop-color="#b2b2b2" stop-opacity="0.823"/><stop offset="0.493" stop-color="#a1a1a1" stop-opacity="0.748"/><stop offset="0.567" stop-color="#979797" stop-opacity="0.641"/><stop offset="0.641" stop-color="#909090" stop-opacity="0.534"/><stop offset="0.715" stop-color="#878787" stop-opacity="0.465"/><stop offset="0.790" stop-color="#838383" stop-opacity="0.378"/><stop offset="0.864" stop-color="#7f7f7f" stop-opacity="0.305"/><stop offset="0.938" stop-color="#7c7c7c" stop-opacity="0.245"/><stop offset="1.000" stop-color="#585858" stop-opacity="0.000"/></radialGradient><radialGradient id="g30"><stop offset="0.000" stop-color="#ffffff" stop-opacity="1.000"/><stop offset="0.260" stop-color="#ffffff" stop-opacity="1.000"/><stop offset="0.306" stop-color="#e3e3e3" stop-opacity="0.982"/><stop offset="0.376" stop-color="#c8c8c8" stop-opacity="0.901"/><stop offset="0.447" stop-color="#b2b2b2" stop-opacity="0.823"/><stop offset="0.518" stop-color="#a1a1a1" stop-opacity="0.748"/><stop offset="0.588" stop-color="#979797" stop-opacity="0.641"/><stop offset="0.659" stop-color="#909090" stop-opacity="0.534"/><stop offset="0.729" stop-color="#878787" stop-opacity="0.465"/><stop offset="0.800" stop-color="#838383" stop-opacity="0.378"/><stop offset="0.870" stop-color="#7f7f7f" stop-opacity="0.305"/><stop offset="0.941" stop-color="#7c7c7c" stop-opacity="0.245"/><stop offset="1.000" stop-color="#585858" stop-opacity="0.000"/></radialGradient><radialGradient id="g31"><stop offset="0.000" stop-color="#ffffff" stop-opacity="1.000"/><stop offset="0.250" stop-color="#ffffff" stop-opacity="1.000"/><stop offset="0.297" stop-color="#e3e3e3" stop-opacity="0.982"/><stop offset="0.369" stop-color="#c8c8c8" stop-opacity="0.901"/><stop offset="0.440" stop-color="#b2b2b2" stop-opacity="0.823"/><stop offset="0.511" stop-color="#a1a1a1" stop-opacity="0.748"/><stop offset="0.583" stop-color="#979797" stop-opacity="0.641"/><stop offset="0.654" stop-color="#909090" stop-opacity="0.534"/><stop offset="0.726" stop-color="#878787" stop-opacity="0.465"/><stop offset="0.797" stop-color="#838383" stop-opacity="0.378"/><stop offset="0.869" stop-color="#7f7f7f" stop-opacity="0.305"/><stop offset="0.940" stop-color="#7c7c7c" stop-opacity="0.245"/><stop offset="1.000" stop-color="#585858" stop-opacity="0.000"/></radialGradient><radialGradient id="g32"><stop offset="0.000" stop-color="#ffffff" stop-opacity="1.000"/><stop offset="0.250" stop-color="#ffffff" stop-opacity="1.000"/><stop offset="0.297" stop-color="#e3e3e3" stop-opacity="0.982"/><stop offset="0.369" stop-color="#c8c8c8" stop-opacity="0.901"/><stop offset="0.440" stop-color="#b2b2b2" stop-opacity="0.823"/><stop offset="0.511" stop-color="#a1a1a1" stop-opacity="0.748"/><stop offset="0.583" stop-color="#979797" stop-opacity="0.641"/><stop offset="0.654" stop-color="#909090" stop-opacity="0.534"/><stop offset="0.726" stop-color="#878787" stop-opacity="0.465"/><stop offset="0.797" stop-color="#838383" stop-opacity="0.378"/><stop offset="0.869" stop-color="#7f7f7f" stop-opacity="0.305"/><stop offset="0.940" stop-color="#7c7c7c" stop-opacity="0.245"/><stop offset="1.000" stop-color="#585858" stop-opacity="0.000"/></radialGradient><radialGradient id="g33"><stop offset="0.000" stop-color="#ffffff" stop-opacity="1.000"/><stop offset="0.509" stop-color="#ffffff" stop-opacity="1.000"/><stop offset="0.540" stop-color="#e3e3e3" stop-opacity="0.982"/><stop offset="0.586" stop-color="#c8c8c8" stop-opacity="0.901"/><stop offset="0.633" stop-color="#b2b2b2" stop-opacity="0.823"/><stop offset="0.680" stop-color="#a1a1a1" stop-opacity="0.748"/><stop offset="0.727" stop-color="#979797" stop-opacity="0.641"/><stop offset="0.774" stop-color="#909090" stop-opacity="0.534"/><stop offset="0.820" stop-color="#878787" stop-opacity="0.465"/><stop offset="0.867" stop-color="#838383" stop-opacity="0.378"/><stop offset="0.914" stop-color="#7f7f7f" stop-opacity="0.305"/><stop offset="0.961" stop-color="#7c7c7c" stop-opacity="0.245"/><stop offset="1.000" stop-color="#585858" stop-opacity="0.000"/></radialGradient><radialGradient id="g34"><stop offset="0.000" stop-color="#ffffff" stop-opacity="1.000"/><stop offset="0.250" stop-color="#ffffff" stop-opacity="1.000"/><stop offset="0.297" stop-color="#e3e3e3" stop-opacity="0.982"/><stop offset="0.369" stop-color="#c8c8c8" stop-opacity="0.901"/><stop offset="0.440" stop-color="#b2b2b2" stop-opacity="0.823"/><stop offset="0.511" stop-color="#a1a1a1" stop-opacity="0.748"/><stop offset="0.583" stop-color="#979797" stop-opacity="0.641"/><stop offset="0.654" stop-color="#909090" stop-opacity="0.534"/><stop offset="0.726" stop-color="#878787" stop-opacity="0.465"/><stop offset="0.797" stop-color="#838383" stop-opacity="0.378"/><stop offset="0.869" stop-color="#7f7f7f" stop-opacity="0.305"/><stop offset="0.940" stop-color="#7c7c7c" stop-opacity="0.245"/><stop offset="1.000" stop-color="#585858" stop-opacity="0.000"/></radialGradient><radialGradient id="g35"><stop offset="0.000" stop-color="#ffffff" stop-opacity="1.000"/><stop offset="0.313" stop-color="#ffffff" stop-opacity="1.000"/><stop offset="0.356" stop-color="#e3e3e3" stop-opacity="0.982"/><stop offset="0.421" stop-color="#c8c8c8" stop-opacity="0.901"/><stop offset="0.487" stop-color="#b2b2b2" stop-opacity="0.823"/><stop offset="0.552" stop-color="#a1a1a1" stop-opacity="0.748"/><stop offset="0.618" stop-color="#979797" stop-opacity="0.641"/><stop offset="0.683" stop-color="#909090" stop-opacity="0.534"/><stop offset="0.749" stop-color="#878787" stop-opacity="0.465"/><stop offset="0.814" stop-color="#838383" stop-opacity="0.378"/><stop offset="0.880" stop-color="#7f7f7f" stop-opacity="0.305"/><stop offset="0.945" stop-color="#7c7c7c" stop-opacity="0.245"/><stop offset="1.000" stop-color="#585858" stop-opacity="0.000"/></radialGradient><radialGradient id="g36"><stop offset="0.000" stop-color="#ffffff" stop-opacity="1.000"/><stop offset="0.222" stop-color="#ffffff" stop-opacity="1.000"/><stop offset="0.271" stop-color="#e3e3e3" stop-opacity="0.982"/><stop offset="0.345" stop-color="#c8c8c8" stop-opacity="0.901"/><stop offset="0.419" stop-color="#b2b2b2" stop-opacity="0.823"/><stop offset="0.493" stop-color="#a1a1a1" stop-opacity="0.748"/><stop offset="0.567" stop-color="#979797" stop-opacity="0.641"/><stop offset="0.641" stop-color="#909090" stop-opacity="0.534"/><stop offset="0.715" stop-color="#878787" stop-opacity="0.465"/><stop offset="0.790" stop-color="#838383" stop-opacity="0.378"/><stop offset="0.864" stop-color="#7f7f7f" stop-opacity="0.305"/><stop offset="0.938" stop-color="#7c7c7c" stop-opacity="0.245"/><stop offset="1.000" stop-color="#585858" stop-opacity="0.000"/></radialGradient><radialGradient id="g37"><stop offset="0.000" stop-color="#ffffff" stop-opacity="1.000"/><stop offset="0.267" stop-color="#ffffff" stop-opacity="1.000"/><stop offset="0.313" stop-color="#e3e3e3" stop-opacity="0.982"/><stop offset="0.383" stop-color="#c8c8c8" stop-opacity="0.901"/><stop offset="0.453" stop-color="#b2b2b2" stop-opacity="0.823"/><stop offset="0.522" stop-color="#a1a1a1" stop-opacity="0.748"/><stop offset="0.592" stop-color="#979797" stop-opacity="0.641"/><stop offset="0.662" stop-color="#909090" stop-opacity="0.534"/><stop offset="0.732" stop-color="#878787" stop-opacity="0.465"/><stop offset="0.802" stop-color="#838383" stop-opacity="0.378"/><stop offset="0.872" stop-color="#7f7f7f" stop-opacity="0.305"/><stop offset="0.941" stop-color="#7c7c7c" stop-opacity="0.245"/><stop offset="1.000" stop-color="#585858" stop-opacity="0.000"/></radialGradient><radialGradient id="g38"><stop offset="0.000" stop-color="#ffffff" stop-opacity="1.000"/><stop offset="0.404" stop-color="#ffffff" stop-opacity="1.000"/><stop offset="0.442" stop-color="#e3e3e3" stop-opacity="0.982"/><stop offset="0.498" stop-color="#c8c8c8" stop-opacity="0.901"/><stop offset="0.555" stop-color="#b2b2b2" stop-opacity="0.823"/><stop offset="0.612" stop-color="#a1a1a1" stop-opacity="0.748"/><stop offset="0.669" stop-color="#979797" stop-opacity="0.641"/><stop offset="0.725" stop-color="#909090" stop-opacity="0.534"/><stop offset="0.782" stop-color="#878787" stop-opacity="0.465"/><stop offset="0.839" stop-color="#838383" stop-opacity="0.378"/><stop offset="0.896" stop-color="#7f7f7f" stop-opacity="0.305"/><stop offset="0.952" stop-color="#7c7c7c" stop-opacity="0.245"/><stop offset="1.000" stop-color="#585858" stop-opacity="0.000"/></radialGradient><radialGradient id="g39"><stop offset="0.000" stop-color="#ffffff" stop-opacity="1.000"/><stop offset="0.313" stop-color="#ffffff" stop-opacity="1.000"/><stop offset="0.356" stop-color="#e3e3e3" stop-opacity="0.982"/><stop offset="0.421" stop-color="#c8c8c8" stop-opacity="0.901"/><stop offset="0.487" stop-color="#b2b2b2" stop-opacity="0.823"/><stop offset="0.552" stop-color="#a1a1a1" stop-opacity="0.748"/><stop offset="0.618" stop-color="#979797" stop-opacity="0.641"/><stop offset="0.683" stop-color="#909090" stop-opacity="0.534"/><stop offset="0.749" stop-color="#878787" stop-opacity="0.465"/><stop offset="0.814" stop-color="#838383" stop-opacity="0.378"/><stop offset="0.880" stop-color="#7f7f7f" stop-opacity="0.305"/><stop offset="0.945" stop-color="#7c7c7c" stop-opacity="0.245"/><stop offset="1.000" stop-color="#585858" stop-opacity="0.000"/></radialGradient><radialGradient id="g40"><stop offset="0.000" stop-color="#ffffff" stop-opacity="1.000"/><stop offset="0.358" stop-color="#ffffff" stop-opacity="1.000"/><stop offset="0.398" stop-color="#e3e3e3" stop-opacity="0.982"/><stop offset="0.460" stop-color="#c8c8c8" stop-opacity="0.901"/><stop offset="0.521" stop-color="#b2b2b2" stop-opacity="0.823"/><stop offset="0.582" stop-color="#a1a1a1" stop-opacity="0.748"/><stop offset="0.643" stop-color="#979797" stop-opacity="0.641"/><stop offset="0.704" stop-color="#909090" stop-opacity="0.534"/><stop offset="0.765" stop-color="#878787" stop-opacity="0.465"/><stop offset="0.826" stop-color="#838383" stop-opacity="0.378"/><stop offset="0.888" stop-color="#7f7f7f" stop-opacity="0.305"/><stop offset="0.949" stop-color="#7c7c7c" stop-opacity="0.245"/><stop offset="1.000" stop-color="#585858" stop-opacity="0.000"/></radialGradient><radialGradient id="g41"><stop offset="0.000" stop-color="#ffffff" stop-opacity="1.000"/><stop offset="0.358" stop-color="#ffffff" stop-opacity="1.000"/><stop offset="0.398" stop-color="#e3e3e3" stop-opacity="0.982"/><stop offset="0.460" stop-color="#c8c8c8" stop-opacity="0.901"/><stop offset="0.521" stop-color="#b2b2b2" stop-opacity="0.823"/><stop offset="0.582" stop-color="#a1a1a1" stop-opacity="0.748"/><stop offset="0.643" stop-color="#979797" stop-opacity="0.641"/><stop offset="0.704" stop-color="#909090" stop-opacity="0.534"/><stop offset="0.765" stop-color="#878787" stop-opacity="0.465"/><stop offset="0.826" stop-color="#838383" stop-opacity="0.378"/><stop offset="0.888" stop-color="#7f7f7f" stop-opacity="0.305"/><stop offset="0.949" stop-color="#7c7c7c" stop-opacity="0.245"/><stop offset="1.000" stop-color="#585858" stop-opacity="0.000"/></radialGradient><radialGradient id="g42"><stop offset="0.000" stop-color="#ffffff" stop-opacity="1.000"/><stop offset="0.313" stop-color="#ffffff" stop-opacity="1.000"/><stop offset="0.356" stop-color="#e3e3e3" stop-opacity="0.982"/><stop offset="0.421" stop-color="#c8c8c8" stop-opacity="0.901"/><stop offset="0.487" stop-color="#b2b2b2" stop-opacity="0.823"/><stop offset="0.552" stop-color="#a1a1a1" stop-opacity="0.748"/><stop offset="0.618" stop-color="#979797" stop-opacity="0.641"/><stop offset="0.683" stop-color="#909090" stop-opacity="0.534"/><stop offset="0.749" stop-color="#878787" stop-opacity="0.465"/><stop offset="0.814" stop-color="#838383" stop-opacity="0.378"/><stop offset="0.880" stop-color="#7f7f7f" stop-opacity="0.305"/><stop offset="0.945" stop-color="#7c7c7c" stop-opacity="0.245"/><stop offset="1.000" stop-color="#585858" stop-opacity="0.000"/></radialGradient><radialGradient id="g43"><stop offset="0.000" stop-color="#ffffff" stop-opacity="1.000"/><stop offset="0.313" stop-color="#ffffff" stop-opacity="1.000"/><stop offset="0.356" stop-color="#e3e3e3" stop-opacity="0.982"/><stop offset="0.421" stop-color="#c8c8c8" stop-opacity="0.901"/><stop offset="0.487" stop-color="#b2b2b2" stop-opacity="0.823"/><stop offset="0.552" stop-color="#a1a1a1" stop-opacity="0.748"/><stop offset="0.618" stop-color="#979797" stop-opacity="0.641"/><stop offset="0.683" stop-color="#909090" stop-opacity="0.534"/><stop offset="0.749" stop-color="#878787" stop-opacity="0.465"/><stop offset="0.814" stop-color="#838383" stop-opacity="0.378"/><stop offset="0.880" stop-color="#7f7f7f" stop-opacity="0.305"/><stop offset="0.945" stop-color="#7c7c7c" stop-opacity="0.245"/><stop offset="1.000" stop-color="#585858" stop-opacity="0.000"/></radialGradient><radialGradient id="g44"><stop offset="0.000" stop-color="#ffffff" stop-opacity="1.000"/><stop offset="0.335" stop-color="#ffffff" stop-opacity="1.000"/><stop offset="0.377" stop-color="#e3e3e3" stop-opacity="0.982"/><stop offset="0.440" stop-color="#c8c8c8" stop-opacity="0.901"/><stop offset="0.504" stop-color="#b2b2b2" stop-opacity="0.823"/><stop offset="0.567" stop-color="#a1a1a1" stop-opacity="0.748"/><stop offset="0.630" stop-color="#979797" stop-opacity="0.641"/><stop offset="0.694" stop-color="#909090" stop-opacity="0.534"/><stop offset="0.757" stop-color="#878787" stop-opacity="0.465"/><stop offset="0.820" stop-color="#838383" stop-opacity="0.378"/><stop offset="0.884" stop-color="#7f7f7f" stop-opacity="0.305"/><stop offset="0.947" stop-color="#7c7c7c" stop-opacity="0.245"/><stop offset="1.000" stop-color="#585858" stop-opacity="0.000"/></radialGradient><radialGradient id="g45"><stop offset="0.000" stop-color="#ffffff" stop-opacity="1.000"/><stop offset="0.287" stop-color="#ffffff" stop-opacity="1.000"/><stop offset="0.331" stop-color="#e3e3e3" stop-opacity="0.982"/><stop offset="0.399" stop-color="#c8c8c8" stop-opacity="0.901"/><stop offset="0.467" stop-color="#b2b2b2" stop-opacity="0.823"/><stop offset="0.535" stop-color="#a1a1a1" stop-opacity="0.748"/><stop offset="0.603" stop-color="#979797" stop-opacity="0.641"/><stop offset="0.671" stop-color="#909090" stop-opacity="0.534"/><stop offset="0.739" stop-color="#878787" stop-opacity="0.465"/><stop offset="0.807" stop-color="#838383" stop-opacity="0.378"/><stop offset="0.875" stop-color="#7f7f7f" stop-opacity="0.305"/><stop offset="0.943" stop-color="#7c7c7c" stop-opacity="0.245"/><stop offset="1.000" stop-color="#585858" stop-opacity="0.000"/></radialGradient><radialGradient id="g46"><stop offset="0.000" stop-color="#ffffff" stop-opacity="1.000"/><stop offset="0.287" stop-color="#ffffff" stop-opacity="1.000"/><stop offset="0.331" stop-color="#e3e3e3" stop-opacity="0.982"/><stop offset="0.399" stop-color="#c8c8c8" stop-opacity="0.901"/><stop offset="0.467" stop-color="#b2b2b2" stop-opacity="0.823"/><stop offset="0.535" stop-color="#a1a1a1" stop-opacity="0.748"/><stop offset="0.603" stop-color="#979797" stop-opacity="0.641"/><stop offset="0.671" stop-color="#909090" stop-opacity="0.534"/><stop offset="0.739" stop-color="#878787" stop-opacity="0.465"/><stop offset="0.807" stop-color="#838383" stop-opacity="0.378"/><stop offset="0.875" stop-color="#7f7f7f" stop-opacity="0.305"/><stop offset="0.943" stop-color="#7c7c7c" stop-opacity="0.245"/><stop offset="1.000" stop-color="#585858" stop-opacity="0.000"/></radialGradient><radialGradient id="g47"><stop offset="0.000" stop-color="#ffffff" stop-opacity="1.000"/><stop offset="0.287" stop-color="#ffffff" stop-opacity="1.000"/><stop offset="0.331" stop-color="#e3e3e3" stop-opacity="0.982"/><stop offset="0.399" stop-color="#c8c8c8" stop-opacity="0.901"/><stop offset="0.467" stop-color="#b2b2b2" stop-opacity="0.823"/><stop offset="0.535" stop-color="#a1a1a1" stop-opacity="0.748"/><stop offset="0.603" stop-color="#979797" stop-opacity="0.641"/><stop offset="0.671" stop-color="#909090" stop-opacity="0.534"/><stop offset="0.739" stop-color="#878787" stop-opacity="0.465"/><stop offset="0.807" stop-color="#838383" stop-opacity="0.378"/><stop offset="0.875" stop-color="#7f7f7f" stop-opacity="0.305"/><stop offset="0.943" stop-color="#7c7c7c" stop-opacity="0.245"/><stop offset="1.000" stop-color="#585858" stop-opacity="0.000"/></radialGradient><radialGradient id="g48"><stop offset="0.000" stop-color="#ffffff" stop-opacity="1.000"/><stop offset="0.287" stop-color="#ffffff" stop-opacity="1.000"/><stop offset="0.331" stop-color="#e3e3e3" stop-opacity="0.982"/><stop offset="0.399" stop-color="#c8c8c8" stop-opacity="0.901"/><stop offset="0.467" stop-color="#b2b2b2" stop-opacity="0.823"/><stop offset="0.535" stop-color="#a1a1a1" stop-opacity="0.748"/><stop offset="0.603" stop-color="#979797" stop-opacity="0.641"/><stop offset="0.671" stop-color="#909090" stop-opacity="0.534"/><stop offset="0.739" stop-color="#878787" stop-opacity="0.465"/><stop offset="0.807" stop-color="#838383" stop-opacity="0.378"/><stop offset="0.875" stop-color="#7f7f7f" stop-opacity="0.305"/><stop offset="0.943" stop-color="#7c7c7c" stop-opacity="0.245"/><stop offset="1.000" stop-color="#585858" stop-opacity="0.000"/></radialGradient><radialGradient id="g49"><stop offset="0.000" stop-color="#ffffff" stop-opacity="1.000"/><stop offset="0.335" stop-color="#ffffff" stop-opacity="1.000"/><stop offset="0.377" stop-color="#e3e3e3" stop-opacity="0.982"/><stop offset="0.440" stop-color="#c8c8c8" stop-opacity="0.901"/><stop offset="0.504" stop-color="#b2b2b2" stop-opacity="0.823"/><stop offset="0.567" stop-color="#a1a1a1" stop-opacity="0.748"/><stop offset="0.630" stop-color="#979797" stop-opacity="0.641"/><stop offset="0.694" stop-color="#909090" stop-opacity="0.534"/><stop offset="0.757" stop-color="#878787" stop-opacity="0.465"/><stop offset="0.820" stop-color="#838383" stop-opacity="0.378"/><stop offset="0.884" stop-color="#7f7f7f" stop-opacity="0.305"/><stop offset="0.947" stop-color="#7c7c7c" stop-opacity="0.245"/><stop offset="1.000" stop-color="#585858" stop-opacity="0.000"/></radialGradient><radialGradient id="g50"><stop offset="0.000" stop-color="#ffffff" stop-opacity="1.000"/><stop offset="0.335" stop-color="#ffffff" stop-opacity="1.000"/><stop offset="0.377" stop-color="#e3e3e3" stop-opacity="0.982"/><stop offset="0.440" stop-color="#c8c8c8" stop-opacity="0.901"/><stop offset="0.504" stop-color="#b2b2b2" stop-opacity="0.823"/><stop offset="0.567" stop-color="#a1a1a1" stop-opacity="0.748"/><stop offset="0.630" stop-color="#979797" stop-opacity="0.641"/><stop offset="0.694" stop-color="#909090" stop-opacity="0.534"/><stop offset="0.757" stop-color="#878787" stop-opacity="0.465"/><stop offset="0.820" stop-color="#838383" stop-opacity="0.378"/><stop offset="0.884" stop-color="#7f7f7f" stop-opacity="0.305"/><stop offset="0.947" stop-color="#7c7c7c" stop-opacity="0.245"/><stop offset="1.000" stop-color="#585858" stop-opacity="0.000"/></radialGradient><radialGradient id="g51"><stop offset="0.000" stop-color="#ffffff" stop-opacity="1.000"/><stop offset="0.279" stop-color="#ffffff" stop-opacity="1.000"/><stop offset="0.324" stop-color="#e3e3e3" stop-opacity="0.982"/><stop offset="0.392" stop-color="#c8c8c8" stop-opacity="0.901"/><stop offset="0.461" stop-color="#b2b2b2" stop-opacity="0.823"/><stop offset="0.530" stop-color="#a1a1a1" stop-opacity="0.748"/><stop offset="0.599" stop-color="#979797" stop-opacity="0.641"/><stop offset="0.667" stop-color="#909090" stop-opacity="0.534"/><stop offset="0.736" stop-color="#878787" stop-opacity="0.465"/><stop offset="0.805" stop-color="#838383" stop-opacity="0.378"/><stop offset="0.874" stop-color="#7f7f7f" stop-opacity="0.305"/><stop offset="0.942" stop-color="#7c7c7c" stop-opacity="0.245"/><stop offset="1.000" stop-color="#585858" stop-opacity="0.000"/></radialGradient><radialGradient id="g52"><stop offset="0.000" stop-color="#ffffff" stop-opacity="1.000"/><stop offset="0.279" stop-color="#ffffff" stop-opacity="1.000"/><stop offset="0.324" stop-color="#e3e3e3" stop-opacity="0.982"/><stop offset="0.392" stop-color="#c8c8c8" stop-opacity="0.901"/><stop offset="0.461" stop-color="#b2b2b2" stop-opacity="0.823"/><stop offset="0.530" stop-color="#a1a1a1" stop-opacity="0.748"/><stop offset="0.599" stop-color="#979797" stop-opacity="0.641"/><stop offset="0.667" stop-color="#909090" stop-opacity="0.534"/><stop offset="0.736" stop-color="#878787" stop-opacity="0.465"/><stop offset="0.805" stop-color="#838383" stop-opacity="0.378"/><stop offset="0.874" stop-color="#7f7f7f" stop-opacity="0.305"/><stop offset="0.942" stop-color="#7c7c7c" stop-opacity="0.245"/><stop offset="1.000" stop-color="#585858" stop-opacity="0.000"/></radialGradient><radialGradient id="g53"><stop offset="0.000" stop-color="#ffffff" stop-opacity="1.000"/><stop offset="0.335" stop-color="#ffffff" stop-opacity="1.000"/><stop offset="0.377" stop-color="#e3e3e3" stop-opacity="0.982"/><stop offset="0.440" stop-color="#c8c8c8" stop-opacity="0.901"/><stop offset="0.504" stop-color="#b2b2b2" stop-opacity="0.823"/><stop offset="0.567" stop-color="#a1a1a1" stop-opacity="0.748"/><stop offset="0.630" stop-color="#979797" stop-opacity="0.641"/><stop offset="0.694" stop-color="#909090" stop-opacity="0.534"/><stop offset="0.757" stop-color="#878787" stop-opacity="0.465"/><stop offset="0.820" stop-color="#838383" stop-opacity="0.378"/><stop offset="0.884" stop-color="#7f7f7f" stop-opacity="0.305"/><stop offset="0.947" stop-color="#7c7c7c" stop-opacity="0.245"/><stop offset="1.000" stop-color="#585858" stop-opacity="0.000"/></radialGradient><radialGradient id="g54"><stop offset="0.000" stop-color="#ffffff" stop-opacity="1.000"/><stop offset="0.335" stop-color="#ffffff" stop-opacity="1.000"/><stop offset="0.377" stop-color="#e3e3e3" stop-opacity="0.982"/><stop offset="0.440" stop-color="#c8c8c8" stop-opacity="0.901"/><stop offset="0.504" stop-color="#b2b2b2" stop-opacity="0.823"/><stop offset="0.567" stop-color="#a1a1a1" stop-opacity="0.748"/><stop offset="0.630" stop-color="#979797" stop-opacity="0.641"/><stop offset="0.694" stop-color="#909090" stop-opacity="0.534"/><stop offset="0.757" stop-color="#878787" stop-opacity="0.465"/><stop offset="0.820" stop-color="#838383" stop-opacity="0.378"/><stop offset="0.884" stop-color="#7f7f7f" stop-opacity="0.305"/><stop offset="0.947" stop-color="#7c7c7c" stop-opacity="0.245"/><stop offset="1.000" stop-color="#585858" stop-opacity="0.000"/></radialGradient><radialGradient id="g55"><stop offset="0.000" stop-color="#ffffff" stop-opacity="1.000"/><stop offset="0.393" stop-color="#ffffff" stop-opacity="1.000"/><stop offset="0.431" stop-color="#e3e3e3" stop-opacity="0.982"/><stop offset="0.489" stop-color="#c8c8c8" stop-opacity="0.901"/><stop offset="0.546" stop-color="#b2b2b2" stop-opacity="0.823"/><stop offset="0.604" stop-color="#a1a1a1" stop-opacity="0.748"/><stop offset="0.662" stop-color="#979797" stop-opacity="0.641"/><stop offset="0.720" stop-color="#909090" stop-opacity="0.534"/><stop offset="0.778" stop-color="#878787" stop-opacity="0.465"/><stop offset="0.836" stop-color="#838383" stop-opacity="0.378"/><stop offset="0.894" stop-color="#7f7f7f" stop-opacity="0.305"/><stop offset="0.951" stop-color="#7c7c7c" stop-opacity="0.245"/><stop offset="1.000" stop-color="#585858" stop-opacity="0.000"/></radialGradient><radialGradient id="g56"><stop offset="0.000" stop-color="#ffffff" stop-opacity="1.000"/><stop offset="0.335" stop-color="#ffffff" stop-opacity="1.000"/><stop offset="0.377" stop-color="#e3e3e3" stop-opacity="0.982"/><stop offset="0.440" stop-color="#c8c8c8" stop-opacity="0.901"/><stop offset="0.504" stop-color="#b2b2b2" stop-opacity="0.823"/><stop offset="0.567" stop-color="#a1a1a1" stop-opacity="0.748"/><stop offset="0.630" stop-color="#979797" stop-opacity="0.641"/><stop offset="0.694" stop-color="#909090" stop-opacity="0.534"/><stop offset="0.757" stop-color="#878787" stop-opacity="0.465"/><stop offset="0.820" stop-color="#838383" stop-opacity="0.378"/><stop offset="0.884" stop-color="#7f7f7f" stop-opacity="0.305"/><stop offset="0.947" stop-color="#7c7c7c" stop-opacity="0.245"/><stop offset="1.000" stop-color="#585858" stop-opacity="0.000"/></radialGradient><radialGradient id="g57"><stop offset="0.000" stop-color="#ffffff" stop-opacity="1.000"/><stop offset="0.335" stop-color="#ffffff" stop-opacity="1.000"/><stop offset="0.377" stop-color="#e3e3e3" stop-opacity="0.982"/><stop offset="0.440" stop-color="#c8c8c8" stop-opacity="0.901"/><stop offset="0.504" stop-color="#b2b2b2" stop-opacity="0.823"/><stop offset="0.567" stop-color="#a1a1a1" stop-opacity="0.748"/><stop offset="0.630" stop-color="#979797" stop-opacity="0.641"/><stop offset="0.694" stop-color="#909090" stop-opacity="0.534"/><stop offset="0.757" stop-color="#878787" stop-opacity="0.465"/><stop offset="0.820" stop-color="#838383" stop-opacity="0.378"/><stop offset="0.884" stop-color="#7f7f7f" stop-opacity="0.305"/><stop offset="0.947" stop-color="#7c7c7c" stop-opacity="0.245"/><stop offset="1.000" stop-color="#585858" stop-opacity="0.000"/></radialGradient><radialGradient id="g58"><stop offset="0.000" stop-color="#ffffff" stop-opacity="1.000"/><stop offset="0.335" stop-color="#ffffff" stop-opacity="1.000"/><stop offset="0.377" stop-color="#e3e3e3" stop-opacity="0.982"/><stop offset="0.440" stop-color="#c8c8c8" stop-opacity="0.901"/><stop offset="0.504" stop-color="#b2b2b2" stop-opacity="0.823"/><stop offset="0.567" stop-color="#a1a1a1" stop-opacity="0.748"/><stop offset="0.630" stop-color="#979797" stop-opacity="0.641"/><stop offset="0.694" stop-color="#909090" stop-opacity="0.534"/><stop offset="0.757" stop-color="#878787" stop-opacity="0.465"/><stop offset="0.820" stop-color="#838383" stop-opacity="0.378"/><stop offset="0.884" stop-color="#7f7f7f" stop-opacity="0.305"/><stop offset="0.947" stop-color="#7c7c7c" stop-opacity="0.245"/><stop offset="1.000" stop-color="#585858" stop-opacity="0.000"/></radialGradient><radialGradient id="g59"><stop offset="0.000" stop-color="#ffffff" stop-opacity="1.000"/><stop offset="0.335" stop-color="#ffffff" stop-opacity="1.000"/><stop offset="0.377" stop-color="#e3e3e3" stop-opacity="0.982"/><stop offset="0.440" stop-color="#c8c8c8" stop-opacity="0.901"/><stop offset="0.504" stop-color="#b2b2b2" stop-opacity="0.823"/><stop offset="0.567" stop-color="#a1a1a1" stop-opacity="0.748"/><stop offset="0.630" stop-color="#979797" stop-opacity="0.641"/><stop offset="0.694" stop-color="#909090" stop-opacity="0.534"/><stop offset="0.757" stop-color="#878787" stop-opacity="0.465"/><stop offset="0.820" stop-color="#838383" stop-opacity="0.378"/><stop offset="0.884" stop-color="#7f7f7f" stop-opacity="0.305"/><stop offset="0.947" stop-color="#7c7c7c" stop-opacity="0.245"/><stop offset="1.000" stop-color="#585858" stop-opacity="0.000"/></radialGradient><radialGradient id="g60"><stop offset="0.000" stop-color="#ffffff" stop-opacity="1.000"/><stop offset="0.335" stop-color="#ffffff" stop-opacity="1.000"/><stop offset="0.377" stop-color="#e3e3e3" stop-opacity="0.982"/><stop offset="0.440" stop-color="#c8c8c8" stop-opacity="0.901"/><stop offset="0.504" stop-color="#b2b2b2" stop-opacity="0.823"/><stop offset="0.567" stop-color="#a1a1a1" stop-opacity="0.748"/><stop offset="0.630" stop-color="#979797" stop-opacity="0.641"/><stop offset="0.694" stop-color="#909090" stop-opacity="0.534"/><stop offset="0.757" stop-color="#878787" stop-opacity="0.465"/><stop offset="0.820" stop-color="#838383" stop-opacity="0.378"/><stop offset="0.884" stop-color="#7f7f7f" stop-opacity="0.305"/><stop offset="0.947" stop-color="#7c7c7c" stop-opacity="0.245"/><stop offset="1.000" stop-color="#585858" stop-opacity="0.000"/></radialGradient><radialGradient id="g61"><stop offset="0.000" stop-color="#ffffff" stop-opacity="1.000"/><stop offset="0.335" stop-color="#ffffff" stop-opacity="1.000"/><stop offset="0.377" stop-color="#e3e3e3" stop-opacity="0.982"/><stop offset="0.440" stop-color="#c8c8c8" stop-opacity="0.901"/><stop offset="0.504" stop-color="#b2b2b2" stop-opacity="0.823"/><stop offset="0.567" stop-color="#a1a1a1" stop-opacity="0.748"/><stop offset="0.630" stop-color="#979797" stop-opacity="0.641"/><stop offset="0.694" stop-color="#909090" stop-opacity="0.534"/><stop offset="0.757" stop-color="#878787" stop-opacity="0.465"/><stop offset="0.820" stop-color="#838383" stop-opacity="0.378"/><stop offset="0.884" stop-color="#7f7f7f" stop-opacity="0.305"/><stop offset="0.947" stop-color="#7c7c7c" stop-opacity="0.245"/><stop offset="1.000" stop-color="#585858" stop-opacity="0.000"/></radialGradient><radialGradient id="g62"><stop offset="0.000" stop-color="#ffffff" stop-opacity="1.000"/><stop offset="0.335" stop-color="#ffffff" stop-opacity="1.000"/><stop offset="0.377" stop-color="#e3e3e3" stop-opacity="0.982"/><stop offset="0.440" stop-color="#c8c8c8" stop-opacity="0.901"/><stop offset="0.504" stop-color="#b2b2b2" stop-opacity="0.823"/><stop offset="0.567" stop-color="#a1a1a1" stop-opacity="0.748"/><stop offset="0.630" stop-color="#979797" stop-opacity="0.641"/><stop offset="0.694" stop-color="#909090" stop-opacity="0.534"/><stop offset="0.757" stop-color="#878787" stop-opacity="0.465"/><stop offset="0.820" stop-color="#838383" stop-opacity="0.378"/><stop offset="0.884" stop-color="#7f7f7f" stop-opacity="0.305"/><stop offset="0.947" stop-color="#7c7c7c" stop-opacity="0.245"/><stop offset="1.000" stop-color="#585858" stop-opacity="0.000"/></radialGradient><radialGradient id="g63"><stop offset="0.000" stop-color="#ffffff" stop-opacity="1.000"/><stop offset="0.279" stop-color="#ffffff" stop-opacity="1.000"/><stop offset="0.324" stop-color="#e3e3e3" stop-opacity="0.982"/><stop offset="0.392" stop-color="#c8c8c8" stop-opacity="0.901"/><stop offset="0.461" stop-color="#b2b2b2" stop-opacity="0.823"/><stop offset="0.530" stop-color="#a1a1a1" stop-opacity="0.748"/><stop offset="0.599" stop-color="#979797" stop-opacity="0.641"/><stop offset="0.667" stop-color="#909090" stop-opacity="0.534"/><stop offset="0.736" stop-color="#878787" stop-opacity="0.465"/><stop offset="0.805" stop-color="#838383" stop-opacity="0.378"/><stop offset="0.874" stop-color="#7f7f7f" stop-opacity="0.305"/><stop offset="0.942" stop-color="#7c7c7c" stop-opacity="0.245"/><stop offset="1.000" stop-color="#585858" stop-opacity="0.000"/></radialGradient><radialGradient id="g64"><stop offset="0.000" stop-color="#ffffff" stop-opacity="1.000"/><stop offset="0.335" stop-color="#ffffff" stop-opacity="1.000"/><stop offset="0.377" stop-color="#e3e3e3" stop-opacity="0.982"/><stop offset="0.440" stop-color="#c8c8c8" stop-opacity="0.901"/><stop offset="0.504" stop-color="#b2b2b2" stop-opacity="0.823"/><stop offset="0.567" stop-color="#a1a1a1" stop-opacity="0.748"/><stop offset="0.630" stop-color="#979797" stop-opacity="0.641"/><stop offset="0.694" stop-color="#909090" stop-opacity="0.534"/><stop offset="0.757" stop-color="#878787" stop-opacity="0.465"/><stop offset="0.820" stop-color="#838383" stop-opacity="0.378"/><stop offset="0.884" stop-color="#7f7f7f" stop-opacity="0.305"/><stop offset="0.947" stop-color="#7c7c7c" stop-opacity="0.245"/><stop offset="1.000" stop-color="#585858" stop-opacity="0.000"/></radialGradient><radialGradient id="g65"><stop offset="0.000" stop-color="#ffffff" stop-opacity="1.000"/><stop offset="0.335" stop-color="#ffffff" stop-opacity="1.000"/><stop offset="0.377" stop-color="#e3e3e3" stop-opacity="0.982"/><stop offset="0.440" stop-color="#c8c8c8" stop-opacity="0.901"/><stop offset="0.504" stop-color="#b2b2b2" stop-opacity="0.823"/><stop offset="0.567" stop-color="#a1a1a1" stop-opacity="0.748"/><stop offset="0.630" stop-color="#979797" stop-opacity="0.641"/><stop offset="0.694" stop-color="#909090" stop-opacity="0.534"/><stop offset="0.757" stop-color="#878787" stop-opacity="0.465"/><stop offset="0.820" stop-color="#838383" stop-opacity="0.378"/><stop offset="0.884" stop-color="#7f7f7f" stop-opacity="0.305"/><stop offset="0.947" stop-color="#7c7c7c" stop-opacity="0.245"/><stop offset="1.000" stop-color="#585858" stop-opacity="0.000"/></radialGradient><radialGradient id="g66"><stop offset="0.000" stop-color="#ffffff" stop-opacity="1.000"/><stop offset="0.335" stop-color="#ffffff" stop-opacity="1.000"/><stop offset="0.377" stop-color="#e3e3e3" stop-opacity="0.982"/><stop offset="0.440" stop-color="#c8c8c8" stop-opacity="0.901"/><stop offset="0.504" stop-color="#b2b2b2" stop-opacity="0.823"/><stop offset="0.567" stop-color="#a1a1a1" stop-opacity="0.748"/><stop offset="0.630" stop-color="#979797" stop-opacity="0.641"/><stop offset="0.694" stop-color="#909090" stop-opacity="0.534"/><stop offset="0.757" stop-color="#878787" stop-opacity="0.465"/><stop offset="0.820" stop-color="#838383" stop-opacity="0.378"/><stop offset="0.884" stop-color="#7f7f7f" stop-opacity="0.305"/><stop offset="0.947" stop-color="#7c7c7c" stop-opacity="0.245"/><stop offset="1.000" stop-color="#585858" stop-opacity="0.000"/></radialGradient><radialGradient id="g67"><stop offset="0.000" stop-color="#ffffff" stop-opacity="1.000"/><stop offset="0.335" stop-color="#ffffff" stop-opacity="1.000"/><stop offset="0.377" stop-color="#e3e3e3" stop-opacity="0.982"/><stop offset="0.440" stop-color="#c8c8c8" stop-opacity="0.901"/><stop offset="0.504" stop-color="#b2b2b2" stop-opacity="0.823"/><stop offset="0.567" stop-color="#a1a1a1" stop-opacity="0.748"/><stop offset="0.630" stop-color="#979797" stop-opacity="0.641"/><stop offset="0.694" stop-color="#909090" stop-opacity="0.534"/><stop offset="0.757" stop-color="#878787" stop-opacity="0.465"/><stop offset="0.820" stop-color="#838383" stop-opacity="0.378"/><stop offset="0.884" stop-color="#7f7f7f" stop-opacity="0.305"/><stop offset="0.947" stop-color="#7c7c7c" stop-opacity="0.245"/><stop offset="1.000" stop-color="#585858" stop-opacity="0.000"/></radialGradient><radialGradient id="g68"><stop offset="0.000" stop-color="#ffffff" stop-opacity="1.000"/><stop offset="0.335" stop-color="#ffffff" stop-opacity="1.000"/><stop offset="0.377" stop-color="#e3e3e3" stop-opacity="0.982"/><stop offset="0.440" stop-color="#c8c8c8" stop-opacity="0.901"/><stop offset="0.504" stop-color="#b2b2b2" stop-opacity="0.823"/><stop offset="0.567" stop-color="#a1a1a1" stop-opacity="0.748"/><stop offset="0.630" stop-color="#979797" stop-opacity="0.641"/><stop offset="0.694" stop-color="#909090" stop-opacity="0.534"/><stop offset="0.757" stop-color="#878787" stop-opacity="0.465"/><stop offset="0.820" stop-color="#838383" stop-opacity="0.378"/><stop offset="0.884" stop-color="#7f7f7f" stop-opacity="0.305"/><stop offset="0.947" stop-color="#7c7c7c" stop-opacity="0.245"/><stop offset="1.000" stop-color="#585858" stop-opacity="0.000"/></radialGradient><radialGradient id="g69"><stop offset="0.000" stop-color="#ffffff" stop-opacity="1.000"/><stop offset="0.393" stop-color="#ffffff" stop-opacity="1.000"/><stop offset="0.431" stop-color="#e3e3e3" stop-opacity="0.982"/><stop offset="0.489" stop-color="#c8c8c8" stop-opacity="0.901"/><stop offset="0.546" stop-color="#b2b2b2" stop-opacity="0.823"/><stop offset="0.604" stop-color="#a1a1a1" stop-opacity="0.748"/><stop offset="0.662" stop-color="#979797" stop-opacity="0.641"/><stop offset="0.720" stop-color="#909090" stop-opacity="0.534"/><stop offset="0.778" stop-color="#878787" stop-opacity="0.465"/><stop offset="0.836" stop-color="#838383" stop-opacity="0.378"/><stop offset="0.894" stop-color="#7f7f7f" stop-opacity="0.305"/><stop offset="0.951" stop-color="#7c7c7c" stop-opacity="0.245"/><stop offset="1.000" stop-color="#585858" stop-opacity="0.000"/></radialGradient><radialGradient id="g70"><stop offset="0.000" stop-color="#ffffff" stop-opacity="1.000"/><stop offset="0.335" stop-color="#ffffff" stop-opacity="1.000"/><stop offset="0.377" stop-color="#e3e3e3" stop-opacity="0.982"/><stop offset="0.440" stop-color="#c8c8c8" stop-opacity="0.901"/><stop offset="0.504" stop-color="#b2b2b2" stop-opacity="0.823"/><stop offset="0.567" stop-color="#a1a1a1" stop-opacity="0.748"/><stop offset="0.630" stop-color="#979797" stop-opacity="0.641"/><stop offset="0.694" stop-color="#909090" stop-opacity="0.534"/><stop offset="0.757" stop-color="#878787" stop-opacity="0.465"/><stop offset="0.820" stop-color="#838383" stop-opacity="0.378"/><stop offset="0.884" stop-color="#7f7f7f" stop-opacity="0.305"/><stop offset="0.947" stop-color="#7c7c7c" stop-opacity="0.245"/><stop offset="1.000" stop-color="#585858" stop-opacity="0.000"/></radialGradient><radialGradient id="g71"><stop offset="0.000" stop-color="#ffffff" stop-opacity="1.000"/><stop offset="0.451" stop-color="#ffffff" stop-opacity="1.000"/><stop offset="0.485" stop-color="#e3e3e3" stop-opacity="0.982"/><stop offset="0.537" stop-color="#c8c8c8" stop-opacity="0.901"/><stop offset="0.590" stop-color="#b2b2b2" stop-opacity="0.823"/><stop offset="0.642" stop-color="#a1a1a1" stop-opacity="0.748"/><stop offset="0.694" stop-color="#979797" stop-opacity="0.641"/><stop offset="0.747" stop-color="#909090" stop-opacity="0.534"/><stop offset="0.799" stop-color="#878787" stop-opacity="0.465"/><stop offset="0.851" stop-color="#838383" stop-opacity="0.378"/><stop offset="0.904" stop-color="#7f7f7f" stop-opacity="0.305"/><stop offset="0.956" stop-color="#7c7c7c" stop-opacity="0.245"/><stop offset="1.000" stop-color="#585858" stop-opacity="0.000"/></radialGradient><radialGradient id="g72"><stop offset="0.000" stop-color="#ffffff" stop-opacity="1.000"/><stop offset="0.335" stop-color="#ffffff" stop-opacity="1.000"/><stop offset="0.377" stop-color="#e3e3e3" stop-opacity="0.982"/><stop offset="0.440" stop-color="#c8c8c8" stop-opacity="0.901"/><stop offset="0.504" stop-color="#b2b2b2" stop-opacity="0.823"/><stop offset="0.567" stop-color="#a1a1a1" stop-opacity="0.748"/><stop offset="0.630" stop-color="#979797" stop-opacity="0.641"/><stop offset="0.694" stop-color="#909090" stop-opacity="0.534"/><stop offset="0.757" stop-color="#878787" stop-opacity="0.465"/><stop offset="0.820" stop-color="#838383" stop-opacity="0.378"/><stop offset="0.884" stop-color="#7f7f7f" stop-opacity="0.305"/><stop offset="0.947" stop-color="#7c7c7c" stop-opacity="0.245"/><stop offset="1.000" stop-color="#585858" stop-opacity="0.000"/></radialGradient><radialGradient id="g73"><stop offset="0.000" stop-color="#ffffff" stop-opacity="1.000"/><stop offset="0.335" stop-color="#ffffff" stop-opacity="1.000"/><stop offset="0.377" stop-color="#e3e3e3" stop-opacity="0.982"/><stop offset="0.440" stop-color="#c8c8c8" stop-opacity="0.901"/><stop offset="0.504" stop-color="#b2b2b2" stop-opacity="0.823"/><stop offset="0.567" stop-color="#a1a1a1" stop-opacity="0.748"/><stop offset="0.630" stop-color="#979797" stop-opacity="0.641"/><stop offset="0.694" stop-color="#909090" stop-opacity="0.534"/><stop offset="0.757" stop-color="#878787" stop-opacity="0.465"/><stop offset="0.820" stop-color="#838383" stop-opacity="0.378"/><stop offset="0.884" stop-color="#7f7f7f" stop-opacity="0.305"/><stop offset="0.947" stop-color="#7c7c7c" stop-opacity="0.245"/><stop offset="1.000" stop-color="#585858" stop-opacity="0.000"/></radialGradient><radialGradient id="g74"><stop offset="0.000" stop-color="#ffffff" stop-opacity="1.000"/><stop offset="0.335" stop-color="#ffffff" stop-opacity="1.000"/><stop offset="0.377" stop-color="#e3e3e3" stop-opacity="0.982"/><stop offset="0.440" stop-color="#c8c8c8" stop-opacity="0.901"/><stop offset="0.504" stop-color="#b2b2b2" stop-opacity="0.823"/><stop offset="0.567" stop-color="#a1a1a1" stop-opacity="0.748"/><stop offset="0.630" stop-color="#979797" stop-opacity="0.641"/><stop offset="0.694" stop-color="#909090" stop-opacity="0.534"/><stop offset="0.757" stop-color="#878787" stop-opacity="0.465"/><stop offset="0.820" stop-color="#838383" stop-opacity="0.378"/><stop offset="0.884" stop-color="#7f7f7f" stop-opacity="0.305"/><stop offset="0.947" stop-color="#7c7c7c" stop-opacity="0.245"/><stop offset="1.000" stop-color="#585858" stop-opacity="0.000"/></radialGradient><radialGradient id="g75"><stop offset="0.000" stop-color="#ffffff" stop-opacity="1.000"/><stop offset="0.335" stop-color="#ffffff" stop-opacity="1.000"/><stop offset="0.377" stop-color="#e3e3e3" stop-opacity="0.982"/><stop offset="0.440" stop-color="#c8c8c8" stop-opacity="0.901"/><stop offset="0.504" stop-color="#b2b2b2" stop-opacity="0.823"/><stop offset="0.567" stop-color="#a1a1a1" stop-opacity="0.748"/><stop offset="0.630" stop-color="#979797" stop-opacity="0.641"/><stop offset="0.694" stop-color="#909090" stop-opacity="0.534"/><stop offset="0.757" stop-color="#878787" stop-opacity="0.465"/><stop offset="0.820" stop-color="#838383" stop-opacity="0.378"/><stop offset="0.884" stop-color="#7f7f7f" stop-opacity="0.305"/><stop offset="0.947" stop-color="#7c7c7c" stop-opacity="0.245"/><stop offset="1.000" stop-color="#585858" stop-opacity="0.000"/></radialGradient><radialGradient id="g76"><stop offset="0.000" stop-color="#ffffff" stop-opacity="1.000"/><stop offset="0.404" stop-color="#ffffff" stop-opacity="1.000"/><stop offset="0.442" stop-color="#e3e3e3" stop-opacity="0.982"/><stop offset="0.498" stop-color="#c8c8c8" stop-opacity="0.901"/><stop offset="0.555" stop-color="#b2b2b2" stop-opacity="0.823"/><stop offset="0.612" stop-color="#a1a1a1" stop-opacity="0.748"/><stop offset="0.669" stop-color="#979797" stop-opacity="0.641"/><stop offset="0.725" stop-color="#909090" stop-opacity="0.534"/><stop offset="0.782" stop-color="#878787" stop-opacity="0.465"/><stop offset="0.839" stop-color="#838383" stop-opacity="0.378"/><stop offset="0.896" stop-color="#7f7f7f" stop-opacity="0.305"/><stop offset="0.952" stop-color="#7c7c7c" stop-opacity="0.245"/><stop offset="1.000" stop-color="#585858" stop-opacity="0.000"/></radialGradient><radialGradient id="g77"><stop offset="0.000" stop-color="#ffffff" stop-opacity="1.000"/><stop offset="0.404" stop-color="#ffffff" stop-opacity="1.000"/><stop offset="0.442" stop-color="#e3e3e3" stop-opacity="0.982"/><stop offset="0.498" stop-color="#c8c8c8" stop-opacity="0.901"/><stop offset="0.555" stop-color="#b2b2b2" stop-opacity="0.823"/><stop offset="0.612" stop-color="#a1a1a1" stop-opacity="0.748"/><stop offset="0.669" stop-color="#979797" stop-opacity="0.641"/><stop offset="0.725" stop-color="#909090" stop-opacity="0.534"/><stop offset="0.782" stop-color="#878787" stop-opacity="0.465"/><stop offset="0.839" stop-color="#838383" stop-opacity="0.378"/><stop offset="0.896" stop-color="#7f7f7f" stop-opacity="0.305"/><stop offset="0.952" stop-color="#7c7c7c" stop-opacity="0.245"/><stop offset="1.000" stop-color="#585858" stop-opacity="0.000"/></radialGradient><radialGradient id="g78"><stop offset="0.000" stop-color="#ffffff" stop-opacity="1.000"/><stop offset="0.404" stop-color="#ffffff" stop-opacity="1.000"/><stop offset="0.442" stop-color="#e3e3e3" stop-opacity="0.982"/><stop offset="0.498" stop-color="#c8c8c8" stop-opacity="0.901"/><stop offset="0.555" stop-color="#b2b2b2" stop-opacity="0.823"/><stop offset="0.612" stop-color="#a1a1a1" stop-opacity="0.748"/><stop offset="0.669" stop-color="#979797" stop-opacity="0.641"/><stop offset="0.725" stop-color="#909090" stop-opacity="0.534"/><stop offset="0.782" stop-color="#878787" stop-opacity="0.465"/><stop offset="0.839" stop-color="#838383" stop-opacity="0.378"/><stop offset="0.896" stop-color="#7f7f7f" stop-opacity="0.305"/><stop offset="0.952" stop-color="#7c7c7c" stop-opacity="0.245"/><stop offset="1.000" stop-color="#585858" stop-opacity="0.000"/></radialGradient><radialGradient id="g79"><stop offset="0.000" stop-color="#ffffff" stop-opacity="1.000"/><stop offset="0.335" stop-color="#ffffff" stop-opacity="1.000"/><stop offset="0.377" stop-color="#e3e3e3" stop-opacity="0.982"/><stop offset="0.440" stop-color="#c8c8c8" stop-opacity="0.901"/><stop offset="0.504" stop-color="#b2b2b2" stop-opacity="0.823"/><stop offset="0.567" stop-color="#a1a1a1" stop-opacity="0.748"/><stop offset="0.630" stop-color="#979797" stop-opacity="0.641"/><stop offset="0.694" stop-color="#909090" stop-opacity="0.534"/><stop offset="0.757" stop-color="#878787" stop-opacity="0.465"/><stop offset="0.820" stop-color="#838383" stop-opacity="0.378"/><stop offset="0.884" stop-color="#7f7f7f" stop-opacity="0.305"/><stop offset="0.947" stop-color="#7c7c7c" stop-opacity="0.245"/><stop offset="1.000" stop-color="#585858" stop-opacity="0.000"/></radialGradient><radialGradient id="g80"><stop offset="0.000" stop-color="#ffffff" stop-opacity="1.000"/><stop offset="0.404" stop-color="#ffffff" stop-opacity="1.000"/><stop offset="0.442" stop-color="#e3e3e3" stop-opacity="0.982"/><stop offset="0.498" stop-color="#c8c8c8" stop-opacity="0.901"/><stop offset="0.555" stop-color="#b2b2b2" stop-opacity="0.823"/><stop offset="0.612" stop-color="#a1a1a1" stop-opacity="0.748"/><stop offset="0.669" stop-color="#979797" stop-opacity="0.641"/><stop offset="0.725" stop-color="#909090" stop-opacity="0.534"/><stop offset="0.782" stop-color="#878787" stop-opacity="0.465"/><stop offset="0.839" stop-color="#838383" stop-opacity="0.378"/><stop offset="0.896" stop-color="#7f7f7f" stop-opacity="0.305"/><stop offset="0.952" stop-color="#7c7c7c" stop-opacity="0.245"/><stop offset="1.000" stop-color="#585858" stop-opacity="0.000"/></radialGradient><radialGradient id="g81"><stop offset="0.000" stop-color="#ffffff" stop-opacity="1.000"/><stop offset="0.474" stop-color="#ffffff" stop-opacity="1.000"/><stop offset="0.507" stop-color="#e3e3e3" stop-opacity="0.982"/><stop offset="0.557" stop-color="#c8c8c8" stop-opacity="0.901"/><stop offset="0.607" stop-color="#b2b2b2" stop-opacity="0.823"/><stop offset="0.657" stop-color="#a1a1a1" stop-opacity="0.748"/><stop offset="0.707" stop-color="#979797" stop-opacity="0.641"/><stop offset="0.757" stop-color="#909090" stop-opacity="0.534"/><stop offset="0.808" stop-color="#878787" stop-opacity="0.465"/><stop offset="0.858" stop-color="#838383" stop-opacity="0.378"/><stop offset="0.908" stop-color="#7f7f7f" stop-opacity="0.305"/><stop offset="0.958" stop-color="#7c7c7c" stop-opacity="0.245"/><stop offset="1.000" stop-color="#585858" stop-opacity="0.000"/></radialGradient><radialGradient id="g82"><stop offset="0.000" stop-color="#ffffff" stop-opacity="1.000"/><stop offset="0.404" stop-color="#ffffff" stop-opacity="1.000"/><stop offset="0.442" stop-color="#e3e3e3" stop-opacity="0.982"/><stop offset="0.498" stop-color="#c8c8c8" stop-opacity="0.901"/><stop offset="0.555" stop-color="#b2b2b2" stop-opacity="0.823"/><stop offset="0.612" stop-color="#a1a1a1" stop-opacity="0.748"/><stop offset="0.669" stop-color="#979797" stop-opacity="0.641"/><stop offset="0.725" stop-color="#909090" stop-opacity="0.534"/><stop offset="0.782" stop-color="#878787" stop-opacity="0.465"/><stop offset="0.839" stop-color="#838383" stop-opacity="0.378"/><stop offset="0.896" stop-color="#7f7f7f" stop-opacity="0.305"/><stop offset="0.952" stop-color="#7c7c7c" stop-opacity="0.245"/><stop offset="1.000" stop-color="#585858" stop-opacity="0.000"/></radialGradient><radialGradient id="g83"><stop offset="0.000" stop-color="#ffffff" stop-opacity="1.000"/><stop offset="0.335" stop-color="#ffffff" stop-opacity="1.000"/><stop offset="0.377" stop-color="#e3e3e3" stop-opacity="0.982"/><stop offset="0.440" stop-color="#c8c8c8" stop-opacity="0.901"/><stop offset="0.504" stop-color="#b2b2b2" stop-opacity="0.823"/><stop offset="0.567" stop-color="#a1a1a1" stop-opacity="0.748"/><stop offset="0.630" stop-color="#979797" stop-opacity="0.641"/><stop offset="0.694" stop-color="#909090" stop-opacity="0.534"/><stop offset="0.757" stop-color="#878787" stop-opacity="0.465"/><stop offset="0.820" stop-color="#838383" stop-opacity="0.378"/><stop offset="0.884" stop-color="#7f7f7f" stop-opacity="0.305"/><stop offset="0.947" stop-color="#7c7c7c" stop-opacity="0.245"/><stop offset="1.000" stop-color="#585858" stop-opacity="0.000"/></radialGradient><radialGradient id="g84"><stop offset="0.000" stop-color="#ffffff" stop-opacity="1.000"/><stop offset="0.404" stop-color="#ffffff" stop-opacity="1.000"/><stop offset="0.442" stop-color="#e3e3e3" stop-opacity="0.982"/><stop offset="0.498" stop-color="#c8c8c8" stop-opacity="0.901"/><stop offset="0.555" stop-color="#b2b2b2" stop-opacity="0.823"/><stop offset="0.612" stop-color="#a1a1a1" stop-opacity="0.748"/><stop offset="0.669" stop-color="#979797" stop-opacity="0.641"/><stop offset="0.725" stop-color="#909090" stop-opacity="0.534"/><stop offset="0.782" stop-color="#878787" stop-opacity="0.465"/><stop offset="0.839" stop-color="#838383" stop-opacity="0.378"/><stop offset="0.896" stop-color="#7f7f7f" stop-opacity="0.305"/><stop offset="0.952" stop-color="#7c7c7c" stop-opacity="0.245"/><stop offset="1.000" stop-color="#585858" stop-opacity="0.000"/></radialGradient><radialGradient id="g85"><stop offset="0.000" stop-color="#ffffff" stop-opacity="1.000"/><stop offset="0.404" stop-color="#ffffff" stop-opacity="1.000"/><stop offset="0.442" stop-color="#e3e3e3" stop-opacity="0.982"/><stop offset="0.498" stop-color="#c8c8c8" stop-opacity="0.901"/><stop offset="0.555" stop-color="#b2b2b2" stop-opacity="0.823"/><stop offset="0.612" stop-color="#a1a1a1" stop-opacity="0.748"/><stop offset="0.669" stop-color="#979797" stop-opacity="0.641"/><stop offset="0.725" stop-color="#909090" stop-opacity="0.534"/><stop offset="0.782" stop-color="#878787" stop-opacity="0.465"/><stop offset="0.839" stop-color="#838383" stop-opacity="0.378"/><stop offset="0.896" stop-color="#7f7f7f" stop-opacity="0.305"/><stop offset="0.952" stop-color="#7c7c7c" stop-opacity="0.245"/><stop offset="1.000" stop-color="#585858" stop-opacity="0.000"/></radialGradient><radialGradient id="g86"><stop offset="0.000" stop-color="#ffffff" stop-opacity="1.000"/><stop offset="0.474" stop-color="#ffffff" stop-opacity="1.000"/><stop offset="0.507" stop-color="#e3e3e3" stop-opacity="0.982"/><stop offset="0.557" stop-color="#c8c8c8" stop-opacity="0.901"/><stop offset="0.607" stop-color="#b2b2b2" stop-opacity="0.823"/><stop offset="0.657" stop-color="#a1a1a1" stop-opacity="0.748"/><stop offset="0.707" stop-color="#979797" stop-opacity="0.641"/><stop offset="0.757" stop-color="#909090" stop-opacity="0.534"/><stop offset="0.808" stop-color="#878787" stop-opacity="0.465"/><stop offset="0.858" stop-color="#838383" stop-opacity="0.378"/><stop offset="0.908" stop-color="#7f7f7f" stop-opacity="0.305"/><stop offset="0.958" stop-color="#7c7c7c" stop-opacity="0.245"/><stop offset="1.000" stop-color="#585858" stop-opacity="0.000"/></radialGradient><radialGradient id="g87"><stop offset="0.000" stop-color="#ffffff" stop-opacity="1.000"/><stop offset="0.335" stop-color="#ffffff" stop-opacity="1.000"/><stop offset="0.377" stop-color="#e3e3e3" stop-opacity="0.982"/><stop offset="0.440" stop-color="#c8c8c8" stop-opacity="0.901"/><stop offset="0.504" stop-color="#b2b2b2" stop-opacity="0.823"/><stop offset="0.567" stop-color="#a1a1a1" stop-opacity="0.748"/><stop offset="0.630" stop-color="#979797" stop-opacity="0.641"/><stop offset="0.694" stop-color="#909090" stop-opacity="0.534"/><stop offset="0.757" stop-color="#878787" stop-opacity="0.465"/><stop offset="0.820" stop-color="#838383" stop-opacity="0.378"/><stop offset="0.884" stop-color="#7f7f7f" stop-opacity="0.305"/><stop offset="0.947" stop-color="#7c7c7c" stop-opacity="0.245"/><stop offset="1.000" stop-color="#585858" stop-opacity="0.000"/></radialGradient><radialGradient id="g88"><stop offset="0.000" stop-color="#ffffff" stop-opacity="1.000"/><stop offset="0.404" stop-color="#ffffff" stop-opacity="1.000"/><stop offset="0.442" stop-color="#e3e3e3" stop-opacity="0.982"/><stop offset="0.498" stop-color="#c8c8c8" stop-opacity="0.901"/><stop offset="0.555" stop-color="#b2b2b2" stop-opacity="0.823"/><stop offset="0.612" stop-color="#a1a1a1" stop-opacity="0.748"/><stop offset="0.669" stop-color="#979797" stop-opacity="0.641"/><stop offset="0.725" stop-color="#909090" stop-opacity="0.534"/><stop offset="0.782" stop-color="#878787" stop-opacity="0.465"/><stop offset="0.839" stop-color="#838383" stop-opacity="0.378"/><stop offset="0.896" stop-color="#7f7f7f" stop-opacity="0.305"/><stop offset="0.952" stop-color="#7c7c7c" stop-opacity="0.245"/><stop offset="1.000" stop-color="#585858" stop-opacity="0.000"/></radialGradient><radialGradient id="g89"><stop offset="0.000" stop-color="#ffffff" stop-opacity="1.000"/><stop offset="0.404" stop-color="#ffffff" stop-opacity="1.000"/><stop offset="0.442" stop-color="#e3e3e3" stop-opacity="0.982"/><stop offset="0.498" stop-color="#c8c8c8" stop-opacity="0.901"/><stop offset="0.555" stop-color="#b2b2b2" stop-opacity="0.823"/><stop offset="0.612" stop-color="#a1a1a1" stop-opacity="0.748"/><stop offset="0.669" stop-color="#979797" stop-opacity="0.641"/><stop offset="0.725" stop-color="#909090" stop-opacity="0.534"/><stop offset="0.782" stop-color="#878787" stop-opacity="0.465"/><stop offset="0.839" stop-color="#838383" stop-opacity="0.378"/><stop offset="0.896" stop-color="#7f7f7f" stop-opacity="0.305"/><stop offset="0.952" stop-color="#7c7c7c" stop-opacity="0.245"/><stop offset="1.000" stop-color="#585858" stop-opacity="0.000"/></radialGradient><radialGradient id="g90"><stop offset="0.000" stop-color="#ffffff" stop-opacity="1.000"/><stop offset="0.404" stop-color="#ffffff" stop-opacity="1.000"/><stop offset="0.442" stop-color="#e3e3e3" stop-opacity="0.982"/><stop offset="0.498" stop-color="#c8c8c8" stop-opacity="0.901"/><stop offset="0.555" stop-color="#b2b2b2" stop-opacity="0.823"/><stop offset="0.612" stop-color="#a1a1a1" stop-opacity="0.748"/><stop offset="0.669" stop-color="#979797" stop-opacity="0.641"/><stop offset="0.725" stop-color="#909090" stop-opacity="0.534"/><stop offset="0.782" stop-color="#878787" stop-opacity="0.465"/><stop offset="0.839" stop-color="#838383" stop-opacity="0.378"/><stop offset="0.896" stop-color="#7f7f7f" stop-opacity="0.305"/><stop offset="0.952" stop-color="#7c7c7c" stop-opacity="0.245"/><stop offset="1.000" stop-color="#585858" stop-opacity="0.000"/></radialGradient><radialGradient id="g91"><stop offset="0.000" stop-color="#ffffff" stop-opacity="1.000"/><stop offset="0.422" stop-color="#ffffff" stop-opacity="1.000"/><stop offset="0.458" stop-color="#e3e3e3" stop-opacity="0.982"/><stop offset="0.513" stop-color="#c8c8c8" stop-opacity="0.901"/><stop offset="0.568" stop-color="#b2b2b2" stop-opacity="0.823"/><stop offset="0.623" stop-color="#a1a1a1" stop-opacity="0.748"/><stop offset="0.678" stop-color="#979797" stop-opacity="0.641"/><stop offset="0.733" stop-color="#909090" stop-opacity="0.534"/><stop offset="0.788" stop-color="#878787" stop-opacity="0.465"/><stop offset="0.844" stop-color="#838383" stop-opacity="0.378"/><stop offset="0.899" stop-color="#7f7f7f" stop-opacity="0.305"/><stop offset="0.954" stop-color="#7c7c7c" stop-opacity="0.245"/><stop offset="1.000" stop-color="#585858" stop-opacity="0.000"/></radialGradient><radialGradient id="g92"><stop offset="0.000" stop-color="#a4a4a4" stop-opacity="0.769"/><stop offset="0.079" stop-color="#a0a0a0" stop-opacity="0.739"/><stop offset="0.173" stop-color="#999999" stop-opacity="0.670"/><stop offset="0.266" stop-color="#929292" stop-opacity="0.577"/><stop offset="0.360" stop-color="#898989" stop-opacity="0.501"/><stop offset="0.453" stop-color="#848484" stop-opacity="0.395"/><stop offset="0.546" stop-color="#7f7f7f" stop-opacity="0.299"/><stop offset="0.640" stop-color="#7a7a7a" stop-opacity="0.220"/><stop offset="0.733" stop-color="#757575" stop-opacity="0.161"/><stop offset="0.827" stop-color="#707070" stop-opacity="0.120"/><stop offset="0.920" stop-color="#6b6b6b" stop-opacity="0.092"/><stop offset="1.000" stop-color="#585858" stop-opacity="0.000"/></radialGradient><radialGradient id="g93"><stop offset="0.000" stop-color="#c7c7c7" stop-opacity="0.900"/><stop offset="0.079" stop-color="#c0c0c0" stop-opacity="0.879"/><stop offset="0.173" stop-color="#b3b3b3" stop-opacity="0.826"/><stop offset="0.266" stop-color="#a4a4a4" stop-opacity="0.766"/><stop offset="0.360" stop-color="#989898" stop-opacity="0.657"/><stop offset="0.453" stop-color="#909090" stop-opacity="0.532"/><stop offset="0.546" stop-color="#868686" stop-opacity="0.436"/><stop offset="0.640" stop-color="#808080" stop-opacity="0.323"/><stop offset="0.733" stop-color="#7b7b7b" stop-opacity="0.232"/><stop offset="0.827" stop-color="#767676" stop-opacity="0.166"/><stop offset="0.920" stop-color="#707070" stop-opacity="0.121"/><stop offset="1.000" stop-color="#585858" stop-opacity="0.000"/></radialGradient><radialGradient id="g94"><stop offset="0.000" stop-color="#a4a4a4" stop-opacity="0.769"/><stop offset="0.079" stop-color="#a0a0a0" stop-opacity="0.739"/><stop offset="0.173" stop-color="#999999" stop-opacity="0.670"/><stop offset="0.266" stop-color="#929292" stop-opacity="0.577"/><stop offset="0.360" stop-color="#898989" stop-opacity="0.501"/><stop offset="0.453" stop-color="#848484" stop-opacity="0.395"/><stop offset="0.546" stop-color="#7f7f7f" stop-opacity="0.299"/><stop offset="0.640" stop-color="#7a7a7a" stop-opacity="0.220"/><stop offset="0.733" stop-color="#757575" stop-opacity="0.161"/><stop offset="0.827" stop-color="#707070" stop-opacity="0.120"/><stop offset="0.920" stop-color="#6b6b6b" stop-opacity="0.092"/><stop offset="1.000" stop-color="#585858" stop-opacity="0.000"/></radialGradient><radialGradient id="g95"><stop offset="0.000" stop-color="#e8e8e8" stop-opacity="0.985"/><stop offset="0.079" stop-color="#dddddd" stop-opacity="0.976"/><stop offset="0.173" stop-color="#c9c9c9" stop-opacity="0.940"/><stop offset="0.266" stop-color="#b8b8b8" stop-opacity="0.850"/><stop offset="0.360" stop-color="#a5a5a5" stop-opacity="0.778"/><stop offset="0.453" stop-color="#989898" stop-opacity="0.654"/><stop offset="0.546" stop-color="#8f8f8f" stop-opacity="0.516"/><stop offset="0.640" stop-color="#858585" stop-opacity="0.412"/><stop offset="0.733" stop-color="#7f7f7f" stop-opacity="0.297"/><stop offset="0.827" stop-color="#797979" stop-opacity="0.210"/><stop offset="0.920" stop-color="#747474" stop-opacity="0.148"/><stop offset="1.000" stop-color="#585858" stop-opacity="0.000"/></radialGradient><radialGradient id="g96"><stop offset="0.000" stop-color="#c7c7c7" stop-opacity="0.900"/><stop offset="0.079" stop-color="#c0c0c0" stop-opacity="0.879"/><stop offset="0.173" stop-color="#b3b3b3" stop-opacity="0.826"/><stop offset="0.266" stop-color="#a4a4a4" stop-opacity="0.766"/><stop offset="0.360" stop-color="#989898" stop-opacity="0.657"/><stop offset="0.453" stop-color="#909090" stop-opacity="0.532"/><stop offset="0.546" stop-color="#868686" stop-opacity="0.436"/><stop offset="0.640" stop-color="#808080" stop-opacity="0.323"/><stop offset="0.733" stop-color="#7b7b7b" stop-opacity="0.232"/><stop offset="0.827" stop-color="#767676" stop-opacity="0.166"/><stop offset="0.920" stop-color="#707070" stop-opacity="0.121"/><stop offset="1.000" stop-color="#585858" stop-opacity="0.000"/></radialGradient><radialGradient id="g97"><stop offset="0.000" stop-color="#dadada" stop-opacity="0.966"/><stop offset="0.079" stop-color="#d0d0d0" stop-opacity="0.953"/><stop offset="0.173" stop-color="#c2c2c2" stop-opacity="0.885"/><stop offset="0.266" stop-color="#b1b1b1" stop-opacity="0.815"/><stop offset="0.360" stop-color="#a0a0a0" stop-opacity="0.736"/><stop offset="0.453" stop-color="#959595" stop-opacity="0.610"/><stop offset="0.546" stop-color="#898989" stop-opacity="0.504"/><stop offset="0.640" stop-color="#838383" stop-opacity="0.378"/><stop offset="0.733" stop-color="#7d7d7d" stop-opacity="0.272"/><stop offset="0.827" stop-color="#787878" stop-opacity="0.193"/><stop offset="0.920" stop-color="#737373" stop-opacity="0.138"/><stop offset="1.000" stop-color="#585858" stop-opacity="0.000"/></radialGradient><radialGradient id="g98"><stop offset="0.000" stop-color="#c7c7c7" stop-opacity="0.900"/><stop offset="0.079" stop-color="#c0c0c0" stop-opacity="0.879"/><stop offset="0.173" stop-color="#b3b3b3" stop-opacity="0.826"/><stop offset="0.266" stop-color="#a4a4a4" stop-opacity="0.766"/><stop offset="0.360" stop-color="#989898" stop-opacity="0.657"/><stop offset="0.453" stop-color="#909090" stop-opacity="0.532"/><stop offset="0.546" stop-color="#868686" stop-opacity="0.436"/><stop offset="0.640" stop-color="#808080" stop-opacity="0.323"/><stop offset="0.733" stop-color="#7b7b7b" stop-opacity="0.232"/><stop offset="0.827" stop-color="#767676" stop-opacity="0.166"/><stop offset="0.920" stop-color="#707070" stop-opacity="0.121"/><stop offset="1.000" stop-color="#585858" stop-opacity="0.000"/></radialGradient><radialGradient id="g99"><stop offset="0.000" stop-color="#c0c0c0" stop-opacity="0.880"/><stop offset="0.079" stop-color="#bababa" stop-opacity="0.857"/><stop offset="0.173" stop-color="#aeaeae" stop-opacity="0.800"/><stop offset="0.266" stop-color="#a0a0a0" stop-opacity="0.737"/><stop offset="0.360" stop-color="#969696" stop-opacity="0.626"/><stop offset="0.453" stop-color="#8b8b8b" stop-opacity="0.532"/><stop offset="0.546" stop-color="#848484" stop-opacity="0.411"/><stop offset="0.640" stop-color="#7f7f7f" stop-opacity="0.303"/><stop offset="0.733" stop-color="#7a7a7a" stop-opacity="0.219"/><stop offset="0.827" stop-color="#757575" stop-opacity="0.157"/><stop offset="0.920" stop-color="#6f6f6f" stop-opacity="0.115"/><stop offset="1.000" stop-color="#585858" stop-opacity="0.000"/></radialGradient><radialGradient id="g100"><stop offset="0.000" stop-color="#bababa" stop-opacity="0.855"/><stop offset="0.079" stop-color="#b4b4b4" stop-opacity="0.830"/><stop offset="0.173" stop-color="#a9a9a9" stop-opacity="0.770"/><stop offset="0.266" stop-color="#9d9d9d" stop-opacity="0.704"/><stop offset="0.360" stop-color="#939393" stop-opacity="0.593"/><stop offset="0.453" stop-color="#898989" stop-opacity="0.501"/><stop offset="0.546" stop-color="#838383" stop-opacity="0.384"/><stop offset="0.640" stop-color="#7e7e7e" stop-opacity="0.284"/><stop offset="0.733" stop-color="#797979" stop-opacity="0.205"/><stop offset="0.827" stop-color="#747474" stop-opacity="0.148"/><stop offset="0.920" stop-color="#6e6e6e" stop-opacity="0.110"/><stop offset="1.000" stop-color="#585858" stop-opacity="0.000"/></radialGradient><radialGradient id="g101"><stop offset="0.000" stop-color="#bababa" stop-opacity="0.855"/><stop offset="0.079" stop-color="#b4b4b4" stop-opacity="0.830"/><stop offset="0.173" stop-color="#a9a9a9" stop-opacity="0.770"/><stop offset="0.266" stop-color="#9d9d9d" stop-opacity="0.704"/><stop offset="0.360" stop-color="#939393" stop-opacity="0.593"/><stop offset="0.453" stop-color="#898989" stop-opacity="0.501"/><stop offset="0.546" stop-color="#838383" stop-opacity="0.384"/><stop offset="0.640" stop-color="#7e7e7e" stop-opacity="0.284"/><stop offset="0.733" stop-color="#797979" stop-opacity="0.205"/><stop offset="0.827" stop-color="#747474" stop-opacity="0.148"/><stop offset="0.920" stop-color="#6e6e6e" stop-opacity="0.110"/><stop offset="1.000" stop-color="#585858" stop-opacity="0.000"/></radialGradient><radialGradient id="g102"><stop offset="0.000" stop-color="#c0c0c0" stop-opacity="0.880"/><stop offset="0.079" stop-color="#bababa" stop-opacity="0.857"/><stop offset="0.173" stop-color="#aeaeae" stop-opacity="0.800"/><stop offset="0.266" stop-color="#a0a0a0" stop-opacity="0.737"/><stop offset="0.360" stop-color="#969696" stop-opacity="0.626"/><stop offset="0.453" stop-color="#8b8b8b" stop-opacity="0.532"/><stop offset="0.546" stop-color="#848484" stop-opacity="0.411"/><stop offset="0.640" stop-color="#7f7f7f" stop-opacity="0.303"/><stop offset="0.733" stop-color="#7a7a7a" stop-opacity="0.219"/><stop offset="0.827" stop-color="#757575" stop-opacity="0.157"/><stop offset="0.920" stop-color="#6f6f6f" stop-opacity="0.115"/><stop offset="1.000" stop-color="#585858" stop-opacity="0.000"/></radialGradient><circle cx="554.3" cy="867.1" r="243.3" fill="url(#g0)"/><circle cx="458.8" cy="1039.8" r="136" fill="url(#g1)"/><circle cx="990.6" cy="363.2" r="92.6" fill="url(#g2)"/><circle cx="333.2" cy="448.6" r="72" fill="url(#g3)"/><circle cx="856.6" cy="760.4" r="56" fill="url(#g4)" clip-path="url(#stamp0)"/><circle cx="453.5" cy="125" r="65.4" fill="url(#g5)"/><circle cx="820" cy="1186" r="64.4" fill="url(#g6)"/><circle cx="812" cy="1188" r="63.3" fill="url(#g7)"/><circle cx="452.5" cy="116" r="58" fill="url(#g8)"/><circle cx="640.1" cy="148.2" r="44.3" fill="url(#g9)"/><circle cx="1097.4" cy="898" r="38.2" fill="url(#g10)"/><circle cx="810.3" cy="889.9" r="35.7" fill="url(#g11)"/><circle cx="424.6" cy="262.5" r="32.2" fill="url(#g12)"/><circle cx="247.3" cy="272.6" r="32.2" fill="url(#g13)"/><circle cx="957.1" cy="547.6" r="31.7" fill="url(#g14)"/><circle cx="526.9" cy="258.1" r="28.7" fill="url(#g15)"/><circle cx="995.9" cy="478.2" r="27.2" fill="url(#g16)"/><circle cx="824.1" cy="1131.8" r="25.2" fill="url(#g17)"/><circle cx="1194.5" cy="487.3" r="23.6" fill="url(#g18)"/><circle cx="689.1" cy="229.8" r="22.2" fill="url(#g19)"/><circle cx="979.6" cy="744.6" r="21.1" fill="url(#g20)"/><circle cx="362" cy="1119.8" r="21.1" fill="url(#g21)"/><circle cx="1057.5" cy="178.1" r="21.1" fill="url(#g22)"/><circle cx="643.7" cy="849.5" r="19.4" fill="url(#g23)"/><circle cx="199.9" cy="760.2" r="19.1" fill="url(#g24)"/><circle r="21" fill="url(#g25)" transform="translate(845.4 275.8) rotate(0) scale(1 1.286)"/><circle r="20.9" fill="url(#g26)" transform="translate(971.3 1017) rotate(0) scale(1 0.600)"/><circle cx="1134.3" cy="668.8" r="17.6" fill="url(#g27)"/><circle r="19" fill="url(#g28)" transform="translate(158.4 324.6) rotate(0) scale(1 1.500)"/><circle cx="507" cy="459.8" r="18.9" fill="url(#g29)"/><circle cx="793.4" cy="513.8" r="18.9" fill="url(#g30)"/><circle cx="797.6" cy="259.1" r="16.8" fill="url(#g31)"/><circle cx="1160.3" cy="250.8" r="16.8" fill="url(#g32)"/><circle r="16.5" fill="url(#g33)" transform="translate(885.9 182.3) rotate(10) scale(1 0.333)"/><circle cx="903.5" cy="403.7" r="16.8" fill="url(#g34)"/><circle cx="190.6" cy="630.2" r="15.7" fill="url(#g35)"/><circle r="15.8" fill="url(#g36)" transform="translate(606.3 474.4) rotate(20) scale(1 1.400)"/><circle cx="892.1" cy="499.3" r="15.7" fill="url(#g37)"/><circle r="15.6" fill="url(#g38)" transform="translate(669.6 648) rotate(10) scale(1 0.556)"/><circle cx="608.3" cy="936" r="15.7" fill="url(#g39)"/><circle cx="579.3" cy="981.7" r="15.6" fill="url(#g40)"/><circle cx="940.1" cy="995.2" r="15.6" fill="url(#g41)"/><circle cx="931.6" cy="1161.3" r="15.7" fill="url(#g42)"/><circle cx="991" cy="1088.6" r="15.7" fill="url(#g43)"/><circle r="14.6" fill="url(#g44)" transform="translate(1136.4 133.5) rotate(30) scale(1 0.857)"/><circle cx="1178" cy="180.2" r="14.7" fill="url(#g45)"/><circle cx="183.7" cy="444.2" r="14.7" fill="url(#g46)"/><circle cx="431.8" cy="795.5" r="14.7" fill="url(#g47)"/><circle cx="161.5" cy="1023.2" r="14.7" fill="url(#g48)"/><circle cx="1167.6" cy="338.1" r="12.5" fill="url(#g49)"/><circle cx="847.5" cy="333.9" r="12.5" fill="url(#g50)"/><circle cx="482.7" cy="235.2" r="12.6" fill="url(#g51)"/><circle cx="625" cy="328.7" r="12.6" fill="url(#g52)"/><circle cx="197.9" cy="610.4" r="12.5" fill="url(#g53)"/><circle cx="487.9" cy="389.2" r="12.5" fill="url(#g54)"/><circle r="12.5" fill="url(#g55)" transform="translate(432.8 478.5) rotate(0) scale(1 0.714)"/><circle cx="460.9" cy="490" r="12.5" fill="url(#g56)"/><circle cx="827.7" cy="493.1" r="12.5" fill="url(#g57)"/><circle cx="681.3" cy="485.8" r="12.5" fill="url(#g58)"/><circle cx="1075.1" cy="389.2" r="12.5" fill="url(#g59)"/><circle cx="1132.3" cy="444.2" r="12.5" fill="url(#g60)"/><circle cx="157.3" cy="818.4" r="12.5" fill="url(#g61)"/><circle cx="189.5" cy="898.3" r="12.5" fill="url(#g62)"/><circle r="12.6" fill="url(#g63)" transform="translate(936.6 863.2) rotate(-20) scale(1 1.400)"/><circle cx="1061.6" cy="783.1" r="12.5" fill="url(#g64)"/><circle cx="207.2" cy="1063.7" r="12.5" fill="url(#g65)"/><circle cx="331.8" cy="980.6" r="12.5" fill="url(#g66)"/><circle cx="380.7" cy="930.8" r="12.5" fill="url(#g67)"/><circle cx="415.2" cy="944.3" r="12.5" fill="url(#g68)"/><circle cx="481.6" cy="1085.5" r="12.5" fill="url(#g69)"/><circle cx="496.2" cy="1134.3" r="12.5" fill="url(#g70)"/><circle r="12.4" fill="url(#g71)" transform="translate(564.7 1091.8) rotate(0) scale(1 0.625)"/><circle cx="774.7" cy="993.1" r="12.5" fill="url(#g72)"/><circle cx="886.9" cy="1053.3" r="12.5" fill="url(#g73)"/><circle cx="852.6" cy="992" r="12.5" fill="url(#g74)"/><circle cx="660.3" cy="276.8" r="10.4" fill="url(#g75)"/><circle cx="348.5" cy="506.6" r="10.4" fill="url(#g76)"/><circle cx="821.5" cy="465" r="10.4" fill="url(#g77)"/><circle cx="783.1" cy="568.9" r="10.4" fill="url(#g78)"/><circle cx="915" cy="455.7" r="10.4" fill="url(#g79)"/><circle cx="212.4" cy="711.4" r="10.4" fill="url(#g80)"/><circle r="10.3" fill="url(#g81)" transform="translate(333.9 841.2) rotate(0) scale(1 0.571)"/><circle cx="351.6" cy="817.3" r="10.4" fill="url(#g82)"/><circle cx="235.2" cy="876.5" r="10.4" fill="url(#g83)"/><circle cx="1016" cy="895.2" r="10.4" fill="url(#g84)"/><circle cx="189.5" cy="1085.5" r="10.4" fill="url(#g85)"/><circle cx="486.8" cy="985.8" r="10.3" fill="url(#g86)"/><circle cx="505.5" cy="930.8" r="10.4" fill="url(#g87)"/><circle cx="598" cy="1037.8" r="10.4" fill="url(#g88)"/><circle cx="739.4" cy="1059.6" r="10.4" fill="url(#g89)"/><circle cx="1076.2" cy="979.6" r="10.4" fill="url(#g90)"/><circle cx="285.1" cy="793.4" r="8.3" fill="url(#g91)"/><circle cx="420.5" cy="1024.5" r="30.2" fill="url(#g92)" style="mix-blend-mode:lighten"/><circle cx="749.8" cy="1090.7" r="20.2" fill="url(#g93)" style="mix-blend-mode:lighten"/><circle cx="771.6" cy="533.6" r="20.2" fill="url(#g94)" style="mix-blend-mode:lighten"/><circle cx="1090.7" cy="150.1" r="20.2" fill="url(#g95)" style="mix-blend-mode:lighten"/><circle cx="252.9" cy="919.3" r="17.6" fill="url(#g96)" style="mix-blend-mode:lighten"/><circle cx="1191.5" cy="786.2" r="15.1" fill="url(#g97)" style="mix-blend-mode:lighten"/><circle cx="319.4" cy="601.1" r="12.6" fill="url(#g98)" style="mix-blend-mode:lighten"/><circle cx="1010.7" cy="537.7" r="12.6" fill="url(#g99)" style="mix-blend-mode:lighten"/><circle cx="375.5" cy="638.5" r="10.1" fill="url(#g100)" style="mix-blend-mode:lighten"/><circle cx="538.8" cy="605.2" r="10.1" fill="url(#g101)" style="mix-blend-mode:lighten"/><circle cx="423.5" cy="674" r="10.1" fill="url(#g102)" style="mix-blend-mode:lighten"/><rect x="148" y="448.2" width="152" height="1.2" fill="#fff" fill-opacity="0.25"/><rect x="870" y="477.9" width="130" height="1.2" fill="#fff" fill-opacity="0.25"/><rect x="484" y="146.4" width="190" height="1.2" fill="#fff" fill-opacity="0.25"/><rect x="686" y="889.4" width="100" height="1.2" fill="#fff" fill-opacity="0.25"/><rect x="950" y="897.7" width="140" height="1.2" fill="#fff" fill-opacity="0.25"/><rect x="190" y="1038.9" width="304" height="1.2" fill="#fff" fill-opacity="0.25"/><g fill="url(#h2)"><circle r="16" transform="translate(364 241.5) rotate(-20) scale(1 0.600)"/><circle r="19.2" transform="translate(377.5 256) rotate(0) scale(1 0.417)"/><circle r="12.8" transform="translate(339.1 269.5) rotate(45) scale(1 0.750)"/><circle cx="293.4" cy="283" r="12.8"/><circle r="16" transform="translate(310 285.1) rotate(30) scale(1 0.500)"/><circle cx="153.2" cy="187.5" r="12.8"/><circle cx="183.3" cy="132.4" r="16"/><circle cx="225.3" cy="135.1" r="11.2"/><circle cx="268.5" cy="141.8" r="12.8"/><circle cx="276.8" cy="182.9" r="12.8"/><circle cx="347" cy="177.1" r="11.2"/><circle cx="337" cy="212.4" r="11.2"/><circle cx="288.2" cy="338.1" r="12.8"/><circle cx="246.7" cy="347.4" r="11.2"/><circle r="22.4" transform="translate(190.6 259.1) rotate(-20) scale(1 0.429)"/><circle r="19.2" transform="translate(471.2 258.1) rotate(0) scale(1 0.667)"/><circle cx="468.7" cy="160.9" r="16"/><circle r="12.8" transform="translate(419.3 158.4) rotate(0) scale(1 0.750)"/><circle cx="495.1" cy="171.9" r="11.2"/><circle cx="636.4" cy="184.4" r="16"/><circle cx="460.9" cy="345.3" r="12.8"/><circle r="16" transform="translate(448.4 364) rotate(20) scale(1 0.600)"/><circle cx="627" cy="367.2" r="12.8"/><circle cx="540.8" cy="236.3" r="11.2"/><circle cx="490" cy="267.4" r="11.2"/><circle cx="557.4" cy="351.6" r="11.2"/><circle r="32" transform="translate(701 271.6) rotate(5) scale(1 0.300)"/><circle r="19.2" transform="translate(926.4 171.9) rotate(0) scale(1 0.667)"/><circle cx="922.2" cy="208.2" r="16"/><circle r="12.8" transform="translate(896.3 249.8) rotate(20) scale(1 1.500)"/><circle cx="900.4" cy="184.4" r="12.8"/><circle cx="800.7" cy="170.9" r="16"/><circle cx="792.4" cy="197.9" r="12.8"/><circle cx="745.7" cy="194.7" r="11.2"/><circle cx="711.4" cy="163.6" r="12.8"/><circle cx="677.1" cy="147" r="12.8"/><circle cx="827.7" cy="154.2" r="11.2"/><circle cx="821.5" cy="223.8" r="12.8"/><circle cx="853.7" cy="207.2" r="12.8"/><circle cx="738.4" cy="239.4" r="12.8"/><circle cx="700" cy="320.4" r="16"/><circle cx="717.6" cy="320.4" r="11.2"/><circle cx="767.5" cy="315.2" r="16"/><circle cx="776.8" cy="312.1" r="16"/><circle cx="814.2" cy="316.3" r="12.8"/><circle cx="848.5" cy="344.3" r="16"/><circle cx="819.4" cy="346.4" r="12.8"/><circle r="22.4" transform="translate(783.1 358.8) rotate(20) scale(1 0.714)"/><circle r="16" transform="translate(897.3 351.6) rotate(-10) scale(1 0.600)"/><circle cx="685.4" cy="344.3" r="12.8"/><circle cx="935.7" cy="347.4" r="12.8"/><circle cx="817.3" cy="375.5" r="11.2"/><circle cx="846.4" cy="260.2" r="12.8"/><circle cx="1083.4" cy="318.3" r="19.2"/><circle cx="1072" cy="321.5" r="16"/><circle cx="1111.5" cy="270.6" r="16"/><circle r="19.2" transform="translate(1050.2 216.5) rotate(30) scale(1 0.833)"/><circle r="16" transform="translate(1124 162.5) rotate(30) scale(1 0.800)"/><circle cx="1098" cy="175" r="12.8"/><circle cx="1027.4" cy="153.2" r="12.8"/><circle cx="1153" cy="204.1" r="12.8"/><circle cx="1040.9" cy="335" r="16"/><circle cx="1052.3" cy="338" r="12.8"/><circle cx="1111.5" cy="353.7" r="16"/><circle cx="1094.9" cy="355.7" r="12.8"/><circle cx="1082.4" cy="374.4" r="16"/><circle cx="1161.3" cy="233.2" r="12.8"/><circle cx="1050.2" cy="254" r="12.8"/><circle cx="1128.1" cy="289.3" r="12.8"/><circle cx="1153" cy="301.7" r="12.8"/><circle cx="937" cy="218.6" r="12.8"/><circle cx="945.3" cy="236.3" r="11.2"/><circle cx="980.6" cy="241.5" r="11.2"/><circle cx="1195.6" cy="280" r="12.8"/><circle cx="1151" cy="363" r="12.8"/><circle cx="1160.3" cy="363" r="12.8"/><circle cx="216.5" cy="449.4" r="16"/><circle r="12.8" transform="translate(275.8 473.3) rotate(10) scale(1 2.500)"/><circle r="19.2" transform="translate(319.4 431.8) rotate(-40) scale(1 0.500)"/><circle cx="305.9" cy="496.2" r="16"/><circle cx="365.7" cy="478.5" r="12.8"/><circle cx="359.5" cy="453" r="12.8"/><circle r="12.8" transform="translate(292.4 411.4) rotate(-30) scale(1 0.500)"/><circle cx="218.6" cy="402.7" r="12.8"/><circle cx="397.3" cy="405.8" r="12.8"/><circle cx="401.4" cy="483.7" r="12.8"/><circle r="16" transform="translate(154.2 585.5) rotate(0) scale(1 0.600)"/><circle cx="167.7" cy="559.5" r="12.8"/><circle cx="210.3" cy="597" r="12.8"/><circle cx="215.5" cy="603.2" r="12.8"/><circle cx="218.6" cy="595.9" r="12.8"/><circle cx="340.1" cy="611.5" r="12.8"/><circle cx="282" cy="640.5" r="16"/><circle cx="386.9" cy="545" r="16"/><circle cx="399.3" cy="547" r="12.8"/><circle r="12.8" transform="translate(166.7 497.2) rotate(0) scale(1 0.500)"/><circle r="12.8" transform="translate(214.5 475.4) rotate(-10) scale(1 0.500)"/><circle cx="151.1" cy="479.6" r="12.8"/><circle cx="227" cy="506.6" r="11.2"/><circle cx="247.7" cy="532.5" r="11.2"/><circle cx="316.3" cy="591.7" r="12.8"/><circle cx="270.6" cy="609.4" r="12.8"/><circle cx="459.2" cy="393.3" r="16"/><circle r="12.8" transform="translate(522.1 396.5) rotate(-25) scale(1 3.000)"/><circle cx="530.4" cy="411" r="16"/><circle cx="577.2" cy="468.1" r="16"/><circle cx="565.8" cy="487.9" r="16"/><circle cx="467.1" cy="523.2" r="16"/><circle r="32" transform="translate(608.3 558.5) rotate(5) scale(1 0.300)"/><circle r="16" transform="translate(512.8 544) rotate(0) scale(1 0.600)"/><circle cx="553.3" cy="561.6" r="12.8"/><circle cx="441.1" cy="582.4" r="19.2"/><circle cx="472.3" cy="590.7" r="12.8"/><circle r="16" transform="translate(670.7 437) rotate(30) scale(1 0.600)"/><circle r="12.8" transform="translate(662.3 444.2) rotate(0) scale(1 0.750)"/><circle cx="635.3" cy="642.6" r="16"/><circle cx="590.7" cy="508.6" r="12.8"/><circle cx="422.4" cy="545" r="12.8"/><circle cx="441.1" cy="557.5" r="12.8"/><circle cx="464" cy="557.5" r="11.2"/><circle cx="431.8" cy="520" r="11.2"/><circle cx="616.6" cy="608.3" r="16"/><circle cx="560.6" cy="603.2" r="12.8"/><circle cx="524.2" cy="568.9" r="12.8"/><circle cx="500.3" cy="475.4" r="12.8"/><circle r="19.2" transform="translate(711.4 416.2) rotate(0) scale(1 0.667)"/><circle cx="761.2" cy="389.2" r="16"/><circle r="16" transform="translate(883.8 411) rotate(30) scale(1 0.800)"/><circle cx="799.7" cy="486.8" r="12.8"/><circle cx="767.5" cy="422.4" r="12.8"/><circle cx="817.3" cy="400.6" r="12.8"/><circle cx="691.7" cy="399.6" r="12.8"/><circle cx="714.5" cy="430.7" r="12.8"/><circle cx="852.6" cy="520.1" r="16"/><circle cx="874.5" cy="522.1" r="12.8"/><circle cx="836" cy="532.5" r="12.8"/><circle cx="872.4" cy="555.4" r="16"/><circle cx="717.6" cy="553.3" r="12.8"/><circle cx="877.6" cy="586.5" r="12.8"/><circle cx="798.6" cy="589.7" r="12.8"/><circle cx="680.2" cy="627" r="16"/><circle cx="691.7" cy="637.4" r="12.8"/><circle cx="770.6" cy="613.5" r="12.8"/><circle cx="1052.3" cy="470.2" r="19.2"/><circle cx="1033.6" cy="470.2" r="16"/><circle r="19.2" transform="translate(1047.1 436) rotate(30) scale(1 0.667)"/><circle cx="1050.2" cy="447.4" r="16"/><circle cx="1061.6" cy="554.3" r="16"/><circle cx="1026.3" cy="558.5" r="16"/><circle cx="1099" cy="559.5" r="16"/><circle r="16" transform="translate(1054.4 518) rotate(60) scale(1 0.400)"/><circle r="19.2" transform="translate(964 589.6) rotate(-20) scale(1 0.500)"/><circle cx="942.2" cy="595.9" r="12.8"/><circle cx="1020.1" cy="585.5" r="16"/><circle cx="1003.5" cy="585.5" r="12.8"/><circle cx="1094.9" cy="583.4" r="16"/><circle cx="1167.6" cy="579.3" r="16"/><circle cx="1148.9" cy="457.7" r="12.8"/><circle cx="1137.5" cy="404.8" r="12.8"/><circle cx="977.5" cy="411" r="12.8"/><circle cx="941.2" cy="464" r="16"/><circle r="12.8" transform="translate(957.8 466) rotate(0) scale(1 0.750)"/><circle cx="989" cy="497.2" r="12.8"/><circle cx="954.7" cy="522.1" r="16"/><circle cx="999.3" cy="521.1" r="12.8"/><circle cx="1136.4" cy="545" r="12.8"/><circle cx="1119.8" cy="598" r="12.8"/><circle cx="1164.5" cy="604.2" r="12.8"/><circle cx="1184.2" cy="639.5" r="16"/><circle cx="1011.8" cy="396.5" r="12.8"/><circle cx="1050.2" cy="403.7" r="12.8"/><circle r="12.8" transform="translate(1181.1 424.5) rotate(30) scale(1 1.500)"/><circle cx="1027.4" cy="631.2" r="12.8"/><circle cx="166.7" cy="765.4" r="16"/><circle cx="214.5" cy="808" r="16"/><circle cx="226.9" cy="820.5" r="12.8"/><circle r="16" transform="translate(179.2 793.4) rotate(-40) scale(1 0.600)"/><circle r="16" transform="translate(249.8 748.8) rotate(-30) scale(1 0.600)"/><circle cx="286.1" cy="849.5" r="16"/><circle cx="253.9" cy="656.3" r="12.8"/><circle cx="300.7" cy="658.4" r="16"/><circle cx="398.3" cy="691.7" r="12.8"/><circle cx="345.3" cy="692.7" r="16"/><circle cx="324.6" cy="697.9" r="12.8"/><circle cx="290.3" cy="709.3" r="12.8"/><circle r="12.8" transform="translate(230 713.5) rotate(0) scale(1 0.750)"/><circle cx="247.7" cy="723.9" r="12.8"/><circle cx="258.1" cy="767.5" r="12.8"/><circle cx="385.8" cy="864.1" r="12.8"/><circle cx="373.4" cy="900.4" r="12.8"/><circle cx="397.3" cy="830.8" r="12.8"/><circle cx="400.4" cy="754" r="12.8"/><circle r="16" transform="translate(192.7 650.1) rotate(0) scale(1 0.600)"/><circle cx="169.8" cy="853.7" r="12.8"/><circle cx="177.1" cy="659.5" r="12.8"/><circle cx="423.5" cy="715.5" r="16"/><circle r="19.2" transform="translate(563.7 771.6) rotate(30) scale(1 0.667)"/><circle cx="560.6" cy="717.6" r="16"/><circle cx="618.7" cy="661.5" r="16"/><circle r="16" transform="translate(638.5 661.5) rotate(0) scale(1 0.600)"/><circle r="16" transform="translate(453.6 762.3) rotate(0) scale(1 0.600)"/><circle cx="462.9" cy="811.1" r="16"/><circle cx="507.6" cy="820.5" r="12.8"/><circle cx="667.5" cy="812.1" r="16"/><circle cx="645.7" cy="825.6" r="12.8"/><circle cx="618.7" cy="830.8" r="12.8"/><circle cx="625" cy="715.5" r="12.8"/><circle cx="634.3" cy="745.7" r="12.8"/><circle r="16" transform="translate(660.3 700) rotate(30) scale(1 0.600)"/><circle cx="497.2" cy="667.8" r="12.8"/><circle cx="517" cy="771.6" r="12.8"/><circle cx="483.7" cy="818.4" r="12.8"/><circle cx="526.3" cy="901.5" r="12.8"/><circle cx="420.3" cy="868.2" r="12.8"/><circle cx="546" cy="721.8" r="12.8"/><circle cx="683.3" cy="683.4" r="16"/><circle cx="818.4" cy="792.4" r="16"/><circle cx="851.6" cy="798.6" r="16"/><circle cx="834" cy="722.8" r="16"/><circle r="16" transform="translate(916 771.6) rotate(0) scale(1 0.600)"/><circle cx="815.3" cy="778.9" r="12.8"/><circle cx="678.2" cy="873.4" r="16"/><circle cx="682.3" cy="774.8" r="12.8"/><circle cx="748.8" cy="866.2" r="12.8"/><circle r="16" transform="translate(744.6 849.5) rotate(0) scale(1 0.600)"/><circle cx="867.2" cy="898.3" r="16"/><circle cx="721.8" cy="724.9" r="12.8"/><circle cx="742.5" cy="668.8" r="12.8"/><circle cx="703.1" cy="691.7" r="12.8"/><circle cx="918.1" cy="748.8" r="12.8"/><circle cx="892.1" cy="802.8" r="12.8"/><circle r="12.8" transform="translate(836 800.7) rotate(0) scale(1 0.750)"/><circle cx="804.9" cy="720.7" r="12.8"/><circle cx="893.1" cy="675" r="12.8"/><circle cx="783.1" cy="780" r="12.8"/><circle cx="706.2" cy="715.5" r="12.8"/><circle cx="888" cy="836" r="12.8"/><circle r="12.8" transform="translate(842.3 836) rotate(0) scale(1 0.750)"/><circle cx="1085.5" cy="868.2" r="22.4"/><circle cx="1071" cy="877.6" r="16"/><circle r="12.8" transform="translate(1002.4 783.1) rotate(0) scale(1 1.500)"/><circle r="19.2" transform="translate(1045 766.4) rotate(0) scale(1 0.667)"/><circle cx="1071" cy="719.7" r="16"/><circle cx="982.7" cy="819.4" r="16"/><circle cx="1045" cy="815.3" r="16"/><circle r="16" transform="translate(1139.5 873.4) rotate(0) scale(1 0.600)"/><circle cx="1178" cy="854.7" r="16"/><circle cx="1194.6" cy="885.9" r="16"/><circle r="12.8" transform="translate(1159.3 809) rotate(0) scale(1 0.750)"/><circle cx="1038.8" cy="724.9" r="12.8"/><circle r="12.8" transform="translate(978.5 708.3) rotate(0) scale(1 0.750)"/><circle r="12.8" transform="translate(999.3 655.3) rotate(0) scale(1 0.750)"/><circle cx="949.5" cy="846.4" r="12.8"/><circle r="12.8" transform="translate(1130.2 762.3) rotate(0) scale(1 0.750)"/><circle cx="1076.2" cy="755" r="12.8"/><circle cx="1188.3" cy="732.2" r="12.8"/><circle cx="985.8" cy="767.5" r="12.8"/><circle cx="967.1" cy="777.9" r="12.8"/><circle r="19.2" transform="translate(283 1051.3) rotate(-20) scale(1 0.667)"/><circle r="19.2" transform="translate(359.9 959.9) rotate(-30) scale(1 0.667)"/><circle r="12.8" transform="translate(311.1 958.8) rotate(0) scale(1 1.250)"/><circle cx="284" cy="1017" r="16"/><circle r="16" transform="translate(203.1 1031.5) rotate(0) scale(1 0.600)"/><circle cx="260.2" cy="1034.6" r="12.8"/><circle cx="342.2" cy="929.7" r="16"/><circle cx="395.2" cy="1086.6" r="16"/><circle r="19.2" transform="translate(342.2 1086.6) rotate(0) scale(1 0.667)"/><circle cx="406.6" cy="1110.5" r="16"/><circle cx="384.8" cy="1032.6" r="12.8"/><circle r="12.8" transform="translate(281 1121.9) rotate(0) scale(1 0.750)"/><circle cx="238.4" cy="1115.6" r="16"/><circle cx="190.6" cy="1158.2" r="16"/><circle cx="231.1" cy="1161.3" r="19.2"/><circle cx="373.4" cy="1116.7" r="12.8"/><circle cx="317.3" cy="984.8" r="12.8"/><circle cx="252.9" cy="1008.7" r="12.8"/><circle cx="175" cy="985.8" r="12.8"/><circle r="12.8" transform="translate(396.2 928.7) rotate(0) scale(1 0.750)"/><circle cx="394.2" cy="1159.3" r="12.8"/><circle cx="368.2" cy="1163.4" r="12.8"/><circle cx="507.6" cy="972.3" r="16"/><circle cx="491" cy="1068.9" r="19.2"/><circle r="19.2" transform="translate(470.2 1066.8) rotate(0) scale(1 0.667)"/><circle cx="558.5" cy="1055.4" r="19.2"/><circle cx="524.2" cy="1044" r="12.8"/><circle cx="501.4" cy="1018" r="12.8"/><circle r="19.2" transform="translate(535 946.4) rotate(0) scale(1 0.250)"/><circle cx="541.9" cy="941.2" r="12.8"/><circle cx="644.7" cy="918.3" r="16"/><circle cx="655.1" cy="973.4" r="12.8"/><circle cx="643.6" cy="987.9" r="12.8"/><circle cx="415.2" cy="1122.9" r="12.8"/><circle cx="479.5" cy="1164.5" r="19.2"/><circle cx="586.5" cy="1149.9" r="16"/><circle r="12.8" transform="translate(637.4 948.4) rotate(0) scale(1 0.750)"/><circle cx="666.5" cy="1151" r="16"/><circle cx="606.3" cy="1147.8" r="12.8"/><circle cx="415.2" cy="1005.6" r="12.8"/><circle r="12.8" transform="translate(427.6 1012.8) rotate(0) scale(1 0.750)"/><circle cx="438" cy="1106.3" r="12.8"/><circle cx="654" cy="1076.2" r="12.8"/><circle cx="749.8" cy="1090.7" r="12.8"/><circle r="35.2" transform="translate(749.8 1090.7) rotate(-15) scale(1 0.500)"/><circle r="16" transform="translate(690.6 1033.6) rotate(0) scale(1 1.400)"/><circle cx="804.9" cy="979.6" r="16"/><circle cx="809" cy="984" r="16"/><circle cx="825.6" cy="985.8" r="16"/><circle r="16" transform="translate(878.6 998.3) rotate(0) scale(1 0.800)"/><circle cx="880.7" cy="940.1" r="16"/><circle cx="906.7" cy="1028.4" r="19.2"/><circle cx="840.2" cy="1095.9" r="16"/><circle cx="829.8" cy="1097" r="16"/><circle r="16" transform="translate(844.3 1110.5) rotate(0) scale(1 0.600)"/><circle cx="795.5" cy="1109.4" r="16"/><circle cx="740.5" cy="959.9" r="16"/><circle cx="819.4" cy="1041.9" r="12.8"/><circle cx="923.3" cy="1006.6" r="12.8"/><circle r="16" transform="translate(928.5 1084.5) rotate(-40) scale(1 0.400)"/><circle cx="917" cy="954.7" r="12.8"/><circle cx="841.2" cy="1156.2" r="12.8"/><circle cx="677.1" cy="999.3" r="12.8"/><circle cx="677.1" cy="924.5" r="12.8"/><circle cx="782" cy="922.5" r="12.8"/><circle cx="745.7" cy="1027.4" r="12.8"/><circle cx="754" cy="1026.3" r="12.8"/><circle cx="951.5" cy="1010.7" r="19.2"/><circle cx="995.2" cy="1075.1" r="16"/><circle cx="1024.2" cy="1100" r="19.2"/><circle r="32" transform="translate(1047.1 937) rotate(0) scale(1 0.300)"/><circle r="28.8" transform="translate(1181.1 934.9) rotate(-60) scale(1 0.556)"/><circle cx="1028.4" cy="997.2" r="19.2"/><circle cx="1142.6" cy="1023.2" r="19.2"/><circle cx="1189.4" cy="1023.2" r="19.2"/><circle r="19.2" transform="translate(1054.4 1034.6) rotate(0) scale(1 0.667)"/><circle cx="1081.4" cy="1037.8" r="16"/><circle cx="1178" cy="1046.1" r="19.2"/><circle r="19.2" transform="translate(1169.7 1141.6) rotate(-30) scale(1 0.667)"/><circle r="25.6" transform="translate(1072 1135.4) rotate(0) scale(1 0.500)"/><circle cx="1103.2" cy="948.4" r="16"/><circle r="16" transform="translate(1028.4 970.2) rotate(45) scale(1 0.600)"/><circle r="16" transform="translate(1061.6 968.2) rotate(0) scale(1 0.600)"/><circle cx="1148.9" cy="958.8" r="22.4"/><circle cx="1095.9" cy="968.2" r="12.8"/><circle cx="1037.7" cy="1043" r="16"/><circle cx="1003.5" cy="1037.8" r="16"/><circle cx="986.9" cy="1057.5" r="12.8"/><circle cx="1090.7" cy="1014.9" r="12.8"/><circle cx="1171.7" cy="1064.8" r="12.8"/><circle cx="1107.3" cy="1085.5" r="12.8"/><circle cx="1136.4" cy="1092.8" r="12.8"/><circle cx="1165.5" cy="1107.3" r="12.8"/><circle cx="983.7" cy="913.1" r="12.8"/><circle cx="1066.8" cy="918.3" r="12.8"/><circle cx="959.8" cy="1146.8" r="12.8"/></g><g fill="url(#q)" fill-opacity="1"><ellipse cx="364" cy="241.5" rx="8" ry="4.8" transform="rotate(-20 364 241.5)"/><ellipse cx="377.5" cy="256" rx="9.6" ry="4"/><ellipse cx="339.1" cy="269.5" rx="6.4" ry="4.8" transform="rotate(45 339.1 269.5)"/><circle cx="293.4" cy="283" r="6.4"/><ellipse cx="310" cy="285.1" rx="8" ry="4" transform="rotate(30 310 285.1)"/><circle cx="153.2" cy="187.5" r="6.4"/><circle cx="183.3" cy="132.4" r="8"/><circle cx="168.8" cy="132.4" r="4.8"/><circle cx="225.3" cy="135.1" r="5.6"/><circle cx="268.5" cy="141.8" r="6.4"/><circle cx="276.8" cy="182.9" r="6.4"/><circle cx="347" cy="177.1" r="5.6"/><circle cx="337" cy="212.4" r="5.6"/><circle cx="288.2" cy="338.1" r="6.4"/><circle cx="246.7" cy="347.4" r="5.6"/><ellipse cx="190.6" cy="259.1" rx="11.2" ry="4.8" transform="rotate(-20 190.6 259.1)"/><circle cx="301.7" cy="356.8" r="4.8"/><circle cx="407.7" cy="369.2" r="4.8"/><circle cx="368.2" cy="298.6" r="4.8"/><circle cx="198.9" cy="225.9" r="4.8"/><circle cx="201" cy="186.4" r="4.8"/><circle cx="154.2" cy="263.3" r="4.8"/><circle cx="167.7" cy="339.1" r="4.8"/><circle cx="271.6" cy="333.9" r="4.8"/><circle cx="318.3" cy="316.3" r="4.8"/><circle cx="367.2" cy="213.4" r="4.8"/><circle cx="318.3" cy="125.2" r="4.8"/><ellipse cx="471.2" cy="258.1" rx="9.6" ry="6.4"/><ellipse cx="506.6" cy="227" rx="4.8" ry="9.6"/><circle cx="468.7" cy="160.9" r="8"/><ellipse cx="419.3" cy="158.4" rx="6.4" ry="4.8"/><circle cx="495.1" cy="171.9" r="5.6"/><circle cx="636.4" cy="184.4" r="8"/><circle cx="460.9" cy="345.3" r="6.4"/><ellipse cx="448.4" cy="364" rx="8" ry="4.8" transform="rotate(20 448.4 364)"/><circle cx="627" cy="367.2" r="6.4"/><circle cx="540.8" cy="236.3" r="5.6"/><circle cx="464.6" cy="192.7" r="4.8"/><circle cx="424.5" cy="219.7" r="4.8"/><circle cx="490" cy="267.4" r="5.6"/><circle cx="476.4" cy="341.2" r="4.8"/><circle cx="557.4" cy="351.6" r="5.6"/><circle cx="604.2" cy="157.4" r="4.8"/><circle cx="563.7" cy="143.9" r="4.8"/><circle cx="414.1" cy="371.3" r="4.8"/><circle cx="496.2" cy="291.3" r="4.8"/><circle cx="566.8" cy="220.7" r="4.8"/><ellipse cx="701" cy="271.6" rx="16" ry="4.8" transform="rotate(5 701 271.6)"/><ellipse cx="926.4" cy="171.9" rx="9.6" ry="6.4"/><circle cx="922.2" cy="208.2" r="8"/><ellipse cx="896.3" cy="249.8" rx="6.4" ry="9.6" transform="rotate(20 896.3 249.8)"/><circle cx="900.4" cy="184.4" r="6.4"/><circle cx="800.7" cy="170.9" r="8"/><circle cx="792.4" cy="197.9" r="6.4"/><circle cx="745.7" cy="194.7" r="5.6"/><circle cx="711.4" cy="163.6" r="6.4"/><circle cx="677.1" cy="147" r="6.4"/><circle cx="693.7" cy="141.8" r="4.8"/><circle cx="827.7" cy="154.2" r="5.6"/><circle cx="821.5" cy="223.8" r="6.4"/><circle cx="853.7" cy="207.2" r="6.4"/><circle cx="738.4" cy="239.4" r="6.4"/><circle cx="700" cy="320.4" r="8"/><circle cx="717.6" cy="320.4" r="5.6"/><circle cx="767.5" cy="315.2" r="8"/><circle cx="776.8" cy="312.1" r="8"/><circle cx="814.2" cy="316.3" r="6.4"/><circle cx="848.5" cy="344.3" r="8"/><circle cx="819.4" cy="346.4" r="6.4"/><ellipse cx="783.1" cy="358.8" rx="11.2" ry="8" transform="rotate(20 783.1 358.8)"/><ellipse cx="897.3" cy="351.6" rx="8" ry="4.8" transform="rotate(-10 897.3 351.6)"/><ellipse cx="794.5" cy="331.8" rx="4.8" ry="9.6" transform="rotate(30 794.5 331.8)"/><circle cx="685.4" cy="344.3" r="6.4"/><circle cx="935.7" cy="347.4" r="6.4"/><circle cx="817.3" cy="375.5" r="5.6"/><circle cx="685.4" cy="333.9" r="4.8"/><ellipse cx="737.4" cy="269.5" rx="4.8" ry="8"/><circle cx="846.4" cy="260.2" r="6.4"/><circle cx="1083.4" cy="318.3" r="9.6"/><circle cx="1072" cy="321.5" r="8"/><circle cx="1111.5" cy="270.6" r="8"/><ellipse cx="1050.2" cy="216.5" rx="9.6" ry="8" transform="rotate(30 1050.2 216.5)"/><ellipse cx="1124" cy="162.5" rx="8" ry="6.4" transform="rotate(30 1124 162.5)"/><circle cx="1098" cy="175" r="6.4"/><circle cx="1027.4" cy="153.2" r="6.4"/><circle cx="1153" cy="204.1" r="6.4"/><circle cx="1040.9" cy="335" r="8"/><circle cx="1052.3" cy="338" r="6.4"/><circle cx="1111.5" cy="353.7" r="8"/><circle cx="1094.9" cy="355.7" r="6.4"/><circle cx="1082.4" cy="374.4" r="8"/><circle cx="1161.3" cy="233.2" r="6.4"/><circle cx="1050.2" cy="254" r="6.4"/><circle cx="1128.1" cy="289.3" r="6.4"/><circle cx="1153" cy="301.7" r="6.4"/><circle cx="937" cy="218.6" r="6.4"/><circle cx="945.3" cy="236.3" r="5.6"/><circle cx="980.6" cy="241.5" r="5.6"/><circle cx="1195.6" cy="280" r="6.4"/><circle cx="1151" cy="363" r="6.4"/><circle cx="1160.3" cy="363" r="6.4"/><circle cx="1188.4" cy="364" r="4.8"/><circle cx="216.5" cy="449.4" r="8"/><ellipse cx="275.8" cy="473.3" rx="6.4" ry="16" transform="rotate(10 275.8 473.3)"/><ellipse cx="319.4" cy="431.8" rx="9.6" ry="4.8" transform="rotate(-40 319.4 431.8)"/><circle cx="305.9" cy="496.2" r="8"/><circle cx="365.7" cy="478.5" r="6.4"/><circle cx="359.5" cy="453" r="6.4"/><ellipse cx="292.4" cy="411.4" rx="6.4" ry="3.2" transform="rotate(-30 292.4 411.4)"/><circle cx="218.6" cy="402.7" r="6.4"/><circle cx="397.3" cy="405.8" r="6.4"/><circle cx="401.4" cy="483.7" r="6.4"/><ellipse cx="232.1" cy="571" rx="4.8" ry="11.2" transform="rotate(10 232.1 571)"/><ellipse cx="154.2" cy="585.5" rx="8" ry="4.8"/><circle cx="167.7" cy="559.5" r="6.4"/><circle cx="210.3" cy="597" r="6.4"/><circle cx="215.5" cy="603.2" r="6.4"/><circle cx="218.6" cy="595.9" r="6.4"/><circle cx="340.1" cy="611.5" r="6.4"/><circle cx="282" cy="640.5" r="8"/><circle cx="386.9" cy="545" r="8"/><circle cx="399.3" cy="547" r="6.4"/><ellipse cx="166.7" cy="497.2" rx="6.4" ry="3.2"/><ellipse cx="214.5" cy="475.4" rx="6.4" ry="3.2" transform="rotate(-10 214.5 475.4)"/><circle cx="151.1" cy="479.6" r="6.4"/><circle cx="227" cy="506.6" r="5.6"/><circle cx="247.7" cy="532.5" r="5.6"/><circle cx="316.3" cy="591.7" r="6.4"/><circle cx="270.6" cy="609.4" r="6.4"/><circle cx="459.2" cy="393.3" r="8"/><ellipse cx="522.1" cy="396.5" rx="6.4" ry="19.2" transform="rotate(-25 522.1 396.5)"/><circle cx="530.4" cy="411" r="8"/><circle cx="577.2" cy="468.1" r="8"/><circle cx="565.8" cy="487.9" r="8"/><circle cx="467.1" cy="523.2" r="8"/><ellipse cx="608.3" cy="558.5" rx="16" ry="4.8" transform="rotate(5 608.3 558.5)"/><ellipse cx="512.8" cy="544" rx="8" ry="4.8"/><circle cx="553.3" cy="561.6" r="6.4"/><circle cx="441.1" cy="582.4" r="9.6"/><circle cx="472.3" cy="590.7" r="6.4"/><ellipse cx="670.7" cy="437" rx="8" ry="4.8" transform="rotate(30 670.7 437)"/><ellipse cx="662.3" cy="444.2" rx="6.4" ry="4.8"/><circle cx="635.3" cy="642.6" r="8"/><circle cx="590.7" cy="508.6" r="6.4"/><circle cx="422.4" cy="545" r="6.4"/><circle cx="441.1" cy="557.5" r="6.4"/><circle cx="464" cy="557.5" r="5.6"/><circle cx="431.8" cy="520" r="5.6"/><circle cx="616.6" cy="608.3" r="8"/><circle cx="560.6" cy="603.2" r="6.4"/><circle cx="524.2" cy="568.9" r="6.4"/><circle cx="500.3" cy="475.4" r="6.4"/><ellipse cx="480.6" cy="446.3" rx="4.8" ry="12.8"/><ellipse cx="711.4" cy="416.2" rx="9.6" ry="6.4"/><circle cx="761.2" cy="389.2" r="8"/><ellipse cx="883.8" cy="411" rx="8" ry="6.4" transform="rotate(30 883.8 411)"/><ellipse cx="923.3" cy="415.2" rx="4.8" ry="8"/><circle cx="799.7" cy="486.8" r="6.4"/><circle cx="767.5" cy="422.4" r="6.4"/><circle cx="817.3" cy="400.6" r="6.4"/><circle cx="691.7" cy="399.6" r="6.4"/><circle cx="714.5" cy="430.7" r="6.4"/><ellipse cx="711.4" cy="498.2" rx="3.2" ry="9.6" transform="rotate(20 711.4 498.2)"/><circle cx="852.6" cy="520.1" r="8"/><circle cx="874.5" cy="522.1" r="6.4"/><circle cx="836" cy="532.5" r="6.4"/><circle cx="872.4" cy="555.4" r="8"/><circle cx="717.6" cy="553.3" r="6.4"/><circle cx="877.6" cy="586.5" r="6.4"/><circle cx="798.6" cy="589.7" r="6.4"/><circle cx="680.2" cy="627" r="8"/><circle cx="691.7" cy="637.4" r="6.4"/><circle cx="770.6" cy="613.5" r="6.4"/><circle cx="1052.3" cy="470.2" r="9.6"/><circle cx="1033.6" cy="470.2" r="8"/><ellipse cx="1047.1" cy="436" rx="9.6" ry="6.4" transform="rotate(30 1047.1 436)"/><circle cx="1050.2" cy="447.4" r="8"/><circle cx="1061.6" cy="554.3" r="8"/><circle cx="1026.3" cy="558.5" r="8"/><circle cx="1099" cy="559.5" r="8"/><ellipse cx="1054.4" cy="518" rx="8" ry="3.2" transform="rotate(60 1054.4 518)"/><ellipse cx="964" cy="589.6" rx="9.6" ry="4.8" transform="rotate(-20 964 589.6)"/><circle cx="942.2" cy="595.9" r="6.4"/><circle cx="1020.1" cy="585.5" r="8"/><circle cx="1003.5" cy="585.5" r="6.4"/><circle cx="1094.9" cy="583.4" r="8"/><circle cx="1167.6" cy="579.3" r="8"/><circle cx="1148.9" cy="457.7" r="6.4"/><circle cx="1137.5" cy="404.8" r="6.4"/><circle cx="977.5" cy="411" r="6.4"/><circle cx="941.2" cy="464" r="8"/><ellipse cx="957.8" cy="466" rx="6.4" ry="4.8"/><circle cx="989" cy="497.2" r="6.4"/><circle cx="954.7" cy="522.1" r="8"/><circle cx="999.3" cy="521.1" r="6.4"/><circle cx="1136.4" cy="545" r="6.4"/><circle cx="1119.8" cy="598" r="6.4"/><circle cx="1164.5" cy="604.2" r="6.4"/><circle cx="1184.2" cy="639.5" r="8"/><circle cx="1011.8" cy="396.5" r="6.4"/><circle cx="1050.2" cy="403.7" r="6.4"/><ellipse cx="1181.1" cy="424.5" rx="6.4" ry="9.6" transform="rotate(30 1181.1 424.5)"/><circle cx="1027.4" cy="631.2" r="6.4"/><circle cx="166.7" cy="765.4" r="8"/><circle cx="214.5" cy="808" r="8"/><circle cx="226.9" cy="820.5" r="6.4"/><ellipse cx="179.2" cy="793.4" rx="8" ry="4.8" transform="rotate(-40 179.2 793.4)"/><ellipse cx="249.8" cy="748.8" rx="8" ry="4.8" transform="rotate(-30 249.8 748.8)"/><circle cx="286.1" cy="849.5" r="8"/><circle cx="253.9" cy="656.3" r="6.4"/><circle cx="300.7" cy="658.4" r="8"/><circle cx="398.3" cy="691.7" r="6.4"/><circle cx="345.3" cy="692.7" r="8"/><circle cx="324.6" cy="697.9" r="6.4"/><circle cx="290.3" cy="709.3" r="6.4"/><ellipse cx="253.9" cy="714.5" rx="4.8" ry="8"/><ellipse cx="230" cy="713.5" rx="6.4" ry="4.8"/><circle cx="247.7" cy="723.9" r="6.4"/><circle cx="258.1" cy="767.5" r="6.4"/><circle cx="385.8" cy="864.1" r="6.4"/><circle cx="373.4" cy="900.4" r="6.4"/><circle cx="397.3" cy="830.8" r="6.4"/><circle cx="400.4" cy="754" r="6.4"/><ellipse cx="192.7" cy="650.1" rx="8" ry="4.8"/><circle cx="169.8" cy="853.7" r="6.4"/><circle cx="177.1" cy="659.5" r="6.4"/><circle cx="423.5" cy="715.5" r="8"/><ellipse cx="563.7" cy="771.6" rx="9.6" ry="6.4" transform="rotate(30 563.7 771.6)"/><circle cx="560.6" cy="717.6" r="8"/><circle cx="618.7" cy="661.5" r="8"/><ellipse cx="638.5" cy="661.5" rx="8" ry="4.8"/><ellipse cx="453.6" cy="762.3" rx="8" ry="4.8"/><circle cx="462.9" cy="811.1" r="8"/><circle cx="507.6" cy="820.5" r="6.4"/><circle cx="667.5" cy="812.1" r="8"/><circle cx="645.7" cy="825.6" r="6.4"/><circle cx="618.7" cy="830.8" r="6.4"/><circle cx="625" cy="715.5" r="6.4"/><circle cx="634.3" cy="745.7" r="6.4"/><ellipse cx="646.8" cy="678.2" rx="4.8" ry="9.6"/><ellipse cx="660.3" cy="700" rx="8" ry="4.8" transform="rotate(30 660.3 700)"/><circle cx="497.2" cy="667.8" r="6.4"/><circle cx="517" cy="771.6" r="6.4"/><circle cx="483.7" cy="818.4" r="6.4"/><circle cx="526.3" cy="901.5" r="6.4"/><circle cx="420.3" cy="868.2" r="6.4"/><circle cx="546" cy="721.8" r="6.4"/><circle cx="683.3" cy="683.4" r="8"/><circle cx="818.4" cy="792.4" r="8"/><circle cx="851.6" cy="798.6" r="8"/><circle cx="834" cy="722.8" r="8"/><ellipse cx="916" cy="771.6" rx="8" ry="4.8"/><circle cx="815.3" cy="778.9" r="6.4"/><circle cx="678.2" cy="873.4" r="8"/><circle cx="682.3" cy="774.8" r="6.4"/><ellipse cx="757.1" cy="871.3" rx="4.8" ry="9.6"/><circle cx="748.8" cy="866.2" r="6.4"/><ellipse cx="744.6" cy="849.5" rx="8" ry="4.8"/><circle cx="867.2" cy="898.3" r="8"/><circle cx="721.8" cy="724.9" r="6.4"/><circle cx="742.5" cy="668.8" r="6.4"/><circle cx="703.1" cy="691.7" r="6.4"/><circle cx="918.1" cy="748.8" r="6.4"/><circle cx="892.1" cy="802.8" r="6.4"/><ellipse cx="836" cy="800.7" rx="6.4" ry="4.8"/><circle cx="804.9" cy="720.7" r="6.4"/><circle cx="893.1" cy="675" r="6.4"/><circle cx="783.1" cy="780" r="6.4"/><circle cx="706.2" cy="715.5" r="6.4"/><circle cx="888" cy="836" r="6.4"/><ellipse cx="842.3" cy="836" rx="6.4" ry="4.8"/><circle cx="1085.5" cy="868.2" r="11.2"/><circle cx="1071" cy="877.6" r="8"/><ellipse cx="1008.7" cy="856.8" rx="4.8" ry="16" transform="rotate(30 1008.7 856.8)"/><ellipse cx="1002.4" cy="783.1" rx="6.4" ry="9.6"/><ellipse cx="1045" cy="766.4" rx="9.6" ry="6.4"/><circle cx="1071" cy="719.7" r="8"/><circle cx="982.7" cy="819.4" r="8"/><circle cx="1045" cy="815.3" r="8"/><ellipse cx="1139.5" cy="873.4" rx="8" ry="4.8"/><circle cx="1178" cy="854.7" r="8"/><circle cx="1194.6" cy="885.9" r="8"/><ellipse cx="1138.5" cy="691.7" rx="4.8" ry="8"/><ellipse cx="1182.1" cy="671.9" rx="4.8" ry="8" transform="rotate(-30 1182.1 671.9)"/><ellipse cx="1159.3" cy="809" rx="6.4" ry="4.8"/><circle cx="1038.8" cy="724.9" r="6.4"/><ellipse cx="978.5" cy="708.3" rx="6.4" ry="4.8"/><ellipse cx="999.3" cy="655.3" rx="6.4" ry="4.8"/><circle cx="949.5" cy="846.4" r="6.4"/><ellipse cx="1130.2" cy="762.3" rx="6.4" ry="4.8"/><circle cx="1076.2" cy="755" r="6.4"/><circle cx="1188.3" cy="732.2" r="6.4"/><circle cx="985.8" cy="767.5" r="6.4"/><circle cx="967.1" cy="777.9" r="6.4"/><ellipse cx="283" cy="1051.3" rx="9.6" ry="6.4" transform="rotate(-20 283 1051.3)"/><ellipse cx="359.9" cy="959.9" rx="9.6" ry="6.4" transform="rotate(-30 359.9 959.9)"/><ellipse cx="311.1" cy="958.8" rx="6.4" ry="8"/><circle cx="284" cy="1017" r="8"/><ellipse cx="241.5" cy="1025.3" rx="4.8" ry="8" transform="rotate(20 241.5 1025.3)"/><ellipse cx="203.1" cy="1031.5" rx="8" ry="4.8"/><circle cx="260.2" cy="1034.6" r="6.4"/><circle cx="342.2" cy="929.7" r="8"/><circle cx="395.2" cy="1086.6" r="8"/><ellipse cx="342.2" cy="1086.6" rx="9.6" ry="6.4"/><circle cx="406.6" cy="1110.5" r="8"/><circle cx="384.8" cy="1032.6" r="6.4"/><ellipse cx="281" cy="1121.9" rx="6.4" ry="4.8"/><circle cx="238.4" cy="1115.6" r="8"/><circle cx="190.6" cy="1158.2" r="8"/><circle cx="231.1" cy="1161.3" r="9.6"/><ellipse cx="179.2" cy="1106.3" rx="4.8" ry="9.6" transform="rotate(-30 179.2 1106.3)"/><circle cx="373.4" cy="1116.7" r="6.4"/><circle cx="317.3" cy="984.8" r="6.4"/><circle cx="252.9" cy="1008.7" r="6.4"/><circle cx="175" cy="985.8" r="6.4"/><ellipse cx="396.2" cy="928.7" rx="6.4" ry="4.8"/><circle cx="394.2" cy="1159.3" r="6.4"/><circle cx="368.2" cy="1163.4" r="6.4"/><circle cx="507.6" cy="972.3" r="8"/><circle cx="491" cy="1068.9" r="9.6"/><ellipse cx="470.2" cy="1066.8" rx="9.6" ry="6.4"/><circle cx="558.5" cy="1055.4" r="9.6"/><circle cx="524.2" cy="1044" r="6.4"/><circle cx="501.4" cy="1018" r="6.4"/><ellipse cx="535" cy="946.4" rx="9.6" ry="2.4"/><circle cx="541.9" cy="941.2" r="6.4"/><circle cx="644.7" cy="918.3" r="8"/><circle cx="655.1" cy="973.4" r="6.4"/><circle cx="643.6" cy="987.9" r="6.4"/><circle cx="415.2" cy="1122.9" r="6.4"/><circle cx="479.5" cy="1164.5" r="9.6"/><circle cx="586.5" cy="1149.9" r="8"/><ellipse cx="637.4" cy="948.4" rx="6.4" ry="4.8"/><circle cx="666.5" cy="1151" r="8"/><circle cx="606.3" cy="1147.8" r="6.4"/><circle cx="415.2" cy="1005.6" r="6.4"/><ellipse cx="427.6" cy="1012.8" rx="6.4" ry="4.8"/><circle cx="438" cy="1106.3" r="6.4"/><circle cx="654" cy="1076.2" r="6.4"/><circle cx="749.8" cy="1090.7" r="6.4"/><ellipse cx="749.8" cy="1090.7" rx="17.6" ry="8.8" transform="rotate(-15 749.8 1090.7)"/><ellipse cx="690.6" cy="1033.6" rx="8" ry="11.2"/><circle cx="804.9" cy="979.6" r="8"/><circle cx="809" cy="984" r="8"/><circle cx="825.6" cy="985.8" r="8"/><ellipse cx="878.6" cy="998.3" rx="8" ry="6.4"/><circle cx="880.7" cy="940.1" r="8"/><circle cx="906.7" cy="1028.4" r="9.6"/><circle cx="840.2" cy="1095.9" r="8"/><circle cx="829.8" cy="1097" r="8"/><ellipse cx="844.3" cy="1110.5" rx="8" ry="4.8"/><circle cx="795.5" cy="1109.4" r="8"/><circle cx="740.5" cy="959.9" r="8"/><circle cx="819.4" cy="1041.9" r="6.4"/><circle cx="923.3" cy="1006.6" r="6.4"/><ellipse cx="928.5" cy="1084.5" rx="8" ry="3.2" transform="rotate(-40 928.5 1084.5)"/><circle cx="917" cy="954.7" r="6.4"/><circle cx="841.2" cy="1156.2" r="6.4"/><circle cx="677.1" cy="999.3" r="6.4"/><circle cx="677.1" cy="924.5" r="6.4"/><circle cx="782" cy="922.5" r="6.4"/><circle cx="745.7" cy="1027.4" r="6.4"/><circle cx="754" cy="1026.3" r="6.4"/><circle cx="951.5" cy="1010.7" r="9.6"/><circle cx="995.2" cy="1075.1" r="8"/><circle cx="1024.2" cy="1100" r="9.6"/><ellipse cx="1047.1" cy="937" rx="16" ry="4.8"/><ellipse cx="1181.1" cy="934.9" rx="14.4" ry="8" transform="rotate(-60 1181.1 934.9)"/><circle cx="1028.4" cy="997.2" r="9.6"/><circle cx="1142.6" cy="1023.2" r="9.6"/><circle cx="1189.4" cy="1023.2" r="9.6"/><ellipse cx="1054.4" cy="1034.6" rx="9.6" ry="6.4"/><circle cx="1081.4" cy="1037.8" r="8"/><circle cx="1178" cy="1046.1" r="9.6"/><ellipse cx="1169.7" cy="1141.6" rx="9.6" ry="6.4" transform="rotate(-30 1169.7 1141.6)"/><ellipse cx="1072" cy="1135.4" rx="12.8" ry="6.4"/><circle cx="1103.2" cy="948.4" r="8"/><ellipse cx="942.2" cy="960.9" rx="4.8" ry="12.8" transform="rotate(-30 942.2 960.9)"/><ellipse cx="1028.4" cy="970.2" rx="8" ry="4.8" transform="rotate(45 1028.4 970.2)"/><ellipse cx="1061.6" cy="968.2" rx="8" ry="4.8"/><circle cx="1148.9" cy="958.8" r="11.2"/><circle cx="1095.9" cy="968.2" r="6.4"/><circle cx="1037.7" cy="1043" r="8"/><circle cx="1003.5" cy="1037.8" r="8"/><circle cx="986.9" cy="1057.5" r="6.4"/><ellipse cx="1073.1" cy="1023.2" rx="4.8" ry="8"/><circle cx="1090.7" cy="1014.9" r="6.4"/><circle cx="1171.7" cy="1064.8" r="6.4"/><circle cx="1107.3" cy="1085.5" r="6.4"/><circle cx="1136.4" cy="1092.8" r="6.4"/><circle cx="1165.5" cy="1107.3" r="6.4"/><circle cx="983.7" cy="913.1" r="6.4"/><circle cx="1066.8" cy="918.3" r="6.4"/><circle cx="959.8" cy="1146.8" r="6.4"/></g></g><rect x="148.40" y="121.70" width="1051.10" height="1051.70" fill="none" stroke="#000" stroke-width="3.33"/><text x="148.45" y="1230.30" text-anchor="middle">0</text><text x="119.62" y="1186.10" text-anchor="end">0</text><text x="273.68" y="1230.30" text-anchor="middle">500</text><text x="119.62" y="1060.90" text-anchor="end">500</text><text x="398.90" y="1230.30" text-anchor="middle">1000</text><text x="119.62" y="935.70" text-anchor="end">1000</text><text x="524.12" y="1230.30" text-anchor="middle">1500</text><text x="119.62" y="810.50" text-anchor="end">1500</text><text x="649.35" y="1230.30" text-anchor="middle">2000</text><text x="119.62" y="685.30" text-anchor="end">2000</text><text x="774.58" y="1230.30" text-anchor="middle">2500</text><text x="119.62" y="560.10" text-anchor="end">2500</text><text x="899.80" y="1230.30" text-anchor="middle">3000</text><text x="119.62" y="434.90" text-anchor="end">3000</text><text x="1025.03" y="1230.30" text-anchor="middle">3500</text><text x="119.62" y="309.70" text-anchor="end">3500</text><text x="1150.25" y="1230.30" text-anchor="middle">4000</text><text x="119.62" y="184.50" text-anchor="end">4000</text><rect x="1229.70" y="121.70" width="52.60" height="1051.70" fill="url(#cb)"/><rect x="1229.70" y="121.70" width="52.60" height="1051.70" fill="none" stroke="#000" stroke-width="3.33"/><text x="1312.28" y="1187.20">−0.010</text><text x="1312.28" y="1082.03">−0.008</text><text x="1312.28" y="976.86">−0.005</text><text x="1312.28" y="871.69">0.003</text><text x="1312.28" y="766.52">0.018</text><text x="1312.28" y="661.35">0.049</text><text x="1312.28" y="556.18">0.109</text><text x="1312.28" y="451.01">0.230</text><text x="1312.28" y="345.84">0.471</text><text x="1312.28" y="240.67">0.952</text><text x="1312.28" y="135.50">1.911</text><path d="M148.45 1173.40V1187.98M148.45 121.70V107.12M148.40 1173.40H133.82M1199.50 1173.40H1214.08M273.68 1173.40V1187.98M273.68 121.70V107.12M148.40 1048.20H133.82M1199.50 1048.20H1214.08M398.90 1173.40V1187.98M398.90 121.70V107.12M148.40 923.00H133.82M1199.50 923.00H1214.08M524.12 1173.40V1187.98M524.12 121.70V107.12M148.40 797.80H133.82M1199.50 797.80H1214.08M649.35 1173.40V1187.98M649.35 121.70V107.12M148.40 672.60H133.82M1199.50 672.60H1214.08M774.58 1173.40V1187.98M774.58 121.70V107.12M148.40 547.40H133.82M1199.50 547.40H1214.08M899.80 1173.40V1187.98M899.80 121.70V107.12M148.40 422.20H133.82M1199.50 422.20H1214.08M1025.03 1173.40V1187.98M1025.03 121.70V107.12M148.40 297.00H133.82M1199.50 297.00H1214.08M1150.25 1173.40V1187.98M1150.25 121.70V107.12M148.40 171.80H133.82M1199.50 171.80H1214.08M1282.30 1173.40H1296.88M1282.30 1068.23H1296.88M1282.30 963.06H1296.88M1282.30 857.89H1296.88M1282.30 752.72H1296.88M1282.30 647.55H1296.88M1282.30 542.38H1296.88M1282.30 437.21H1296.88M1282.30 332.04H1296.88M1282.30 226.87H1296.88M1282.30 121.70H1296.88" stroke="#000" stroke-width="3.33" fill="none"/></svg></body></html>
